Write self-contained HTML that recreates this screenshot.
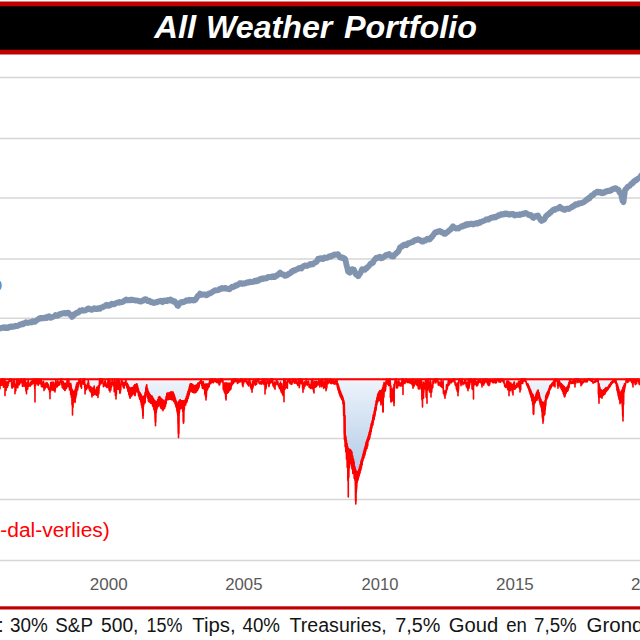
<!DOCTYPE html>
<html><head><meta charset="utf-8"><title>All Weather Portfolio</title>
<style>
html,body{margin:0;padding:0;background:#fff;width:640px;height:640px;overflow:hidden}
svg{display:block}
.t{font-family:"Liberation Sans",Arial,sans-serif}
</style></head>
<body>
<svg width="640" height="640" viewBox="0 0 640 640">
<defs>
<linearGradient id="g" gradientUnits="userSpaceOnUse" x1="0" y1="379" x2="0" y2="505">
<stop offset="0" stop-color="#eef4fb"/>
<stop offset="1" stop-color="#9dbce2"/>
</linearGradient>
</defs>
<rect x="0" y="0" width="640" height="640" fill="#fff"/>
<rect x="0" y="1.5" width="640" height="53" fill="#c00000"/>
<rect x="0" y="6.3" width="640" height="43.5" fill="#000"/>
<text class="t" x="154.18" y="37.7" font-size="30.5" fill="#fff" textLength="42.03" lengthAdjust="spacingAndGlyphs" font-weight="bold" font-style="italic">All</text>
<text class="t" x="205.99" y="37.7" font-size="30.5" fill="#fff" textLength="126.37" lengthAdjust="spacingAndGlyphs" font-weight="bold" font-style="italic">Weather</text>
<text class="t" x="344.00" y="37.7" font-size="30.5" fill="#fff" textLength="133.00" lengthAdjust="spacingAndGlyphs" font-weight="bold" font-style="italic">Portfolio</text>
<g stroke="#d6d6d6" stroke-width="1.5"><line x1="0" x2="640" y1="77.6" y2="77.6"/><line x1="0" x2="640" y1="138.5" y2="138.5"/><line x1="0" x2="640" y1="198.0" y2="198.0"/><line x1="0" x2="640" y1="259.0" y2="259.0"/><line x1="0" x2="640" y1="318.3" y2="318.3"/><line x1="0" x2="640" y1="438.5" y2="438.5"/><line x1="0" x2="640" y1="499.5" y2="499.5"/><line x1="0" x2="640" y1="560.5" y2="560.5"/></g>
<path d="M-2 379 L-2.0 382.30 L-1.9 381.03 L-1.8 379.41 L-1.7 381.04 L-1.6 380.17 L-1.5 379.79 L-1.4 380.04 L-1.3 381.30 L-1.2 381.52 L-1.1 383.06 L-1.0 382.00 L-0.9 385.33 L-0.8 385.95 L-0.7 384.77 L-0.6 385.64 L-0.5 386.92 L-0.4 385.52 L-0.3 387.79 L-0.2 388.62 L-0.1 388.86 L0.0 388.07 L0.1 385.44 L0.2 385.16 L0.3 384.04 L0.4 384.92 L0.5 384.56 L0.6 379.99 L0.7 384.08 L0.8 384.92 L0.9 381.62 L1.0 380.46 L1.1 381.11 L1.2 380.58 L1.3 379.99 L1.4 380.65 L1.5 382.56 L1.6 384.40 L1.7 384.67 L1.8 385.24 L1.9 382.35 L2.0 379.79 L2.1 379.96 L2.2 379.11 L2.3 379.56 L2.4 379.26 L2.5 379.24 L2.6 379.19 L2.7 380.29 L2.8 379.34 L2.9 380.82 L3.0 381.00 L3.1 379.08 L3.2 379.85 L3.3 383.98 L3.4 387.25 L3.5 384.25 L3.6 382.78 L3.7 379.30 L3.8 379.33 L3.9 379.89 L4.0 379.35 L4.1 380.49 L4.2 379.98 L4.3 379.46 L4.4 380.83 L4.5 383.70 L4.6 383.04 L4.7 380.27 L4.8 380.73 L4.9 384.32 L5.0 380.57 L5.0 395.60 L5.1 382.15 L5.2 381.36 L5.3 383.94 L5.4 385.59 L5.5 384.93 L5.6 382.66 L5.7 382.11 L5.8 382.06 L5.9 383.93 L6.0 384.62 L6.1 384.51 L6.2 383.45 L6.3 383.22 L6.4 384.06 L6.5 382.49 L6.6 382.03 L6.7 382.09 L6.8 382.38 L6.9 382.07 L7.0 382.03 L7.1 382.37 L7.2 382.29 L7.3 382.39 L7.4 382.21 L7.5 382.16 L7.6 383.03 L7.7 382.84 L7.8 382.45 L7.9 382.15 L8.0 382.31 L8.1 381.75 L8.2 382.74 L8.3 382.44 L8.4 383.28 L8.5 383.49 L8.6 383.11 L8.7 383.07 L8.8 381.46 L8.9 382.12 L9.0 381.45 L9.1 380.02 L9.2 380.03 L9.3 381.32 L9.4 381.16 L9.5 379.50 L9.6 379.15 L9.7 379.12 L9.8 379.79 L9.9 379.18 L10.0 379.54 L10.1 380.52 L10.2 381.13 L10.3 379.23 L10.4 379.26 L10.5 379.30 L10.6 379.20 L10.7 379.03 L10.8 380.81 L10.9 380.56 L11.0 379.14 L11.1 379.68 L11.2 380.68 L11.3 379.03 L11.4 379.13 L11.5 381.62 L11.6 384.29 L11.7 386.88 L11.8 384.43 L11.9 387.48 L12.0 387.13 L12.1 388.22 L12.2 388.02 L12.3 387.53 L12.4 387.46 L12.5 387.48 L12.6 387.05 L12.7 385.24 L12.8 385.26 L12.9 387.08 L13.0 384.67 L13.1 385.02 L13.2 382.88 L13.3 380.41 L13.4 379.57 L13.5 383.97 L13.6 384.56 L13.7 383.95 L13.8 386.60 L13.9 381.72 L14.0 382.20 L14.1 380.95 L14.2 382.99 L14.3 379.81 L14.4 380.48 L14.5 380.75 L14.6 384.89 L14.7 383.73 L14.8 383.85 L14.9 385.32 L15.0 386.74 L15.0 393.75 L15.1 388.19 L15.2 388.32 L15.3 385.45 L15.4 388.74 L15.5 390.58 L15.6 390.50 L15.7 388.48 L15.8 390.84 L15.9 388.12 L16.0 388.48 L16.1 384.55 L16.2 387.71 L16.3 384.82 L16.4 385.46 L16.5 383.98 L16.6 382.91 L16.7 380.40 L16.8 380.40 L16.9 379.20 L17.0 381.28 L17.1 379.66 L17.2 379.70 L17.3 381.27 L17.4 382.77 L17.5 384.45 L17.6 386.28 L17.7 386.79 L17.8 387.65 L17.9 386.31 L18.0 383.81 L18.1 383.73 L18.2 383.76 L18.3 383.50 L18.4 384.45 L18.5 382.69 L18.6 380.35 L18.7 379.50 L18.8 380.50 L18.9 379.25 L19.0 379.94 L19.1 382.01 L19.2 383.97 L19.3 384.82 L19.4 384.38 L19.5 383.93 L19.6 382.04 L19.7 380.60 L19.8 381.82 L19.9 381.26 L20.0 382.93 L20.1 382.72 L20.2 379.69 L20.3 380.11 L20.4 382.47 L20.5 382.98 L20.6 382.02 L20.7 381.09 L20.8 382.09 L20.9 381.01 L21.0 379.24 L21.1 379.69 L21.2 379.97 L21.3 379.02 L21.4 379.40 L21.5 380.22 L21.6 379.45 L21.7 379.12 L21.8 379.16 L21.9 382.31 L22.0 380.73 L22.1 381.96 L22.2 381.74 L22.3 383.81 L22.4 386.26 L22.5 385.74 L22.6 386.04 L22.7 384.40 L22.8 383.75 L22.9 385.11 L23.0 382.85 L23.1 381.57 L23.2 381.79 L23.3 381.37 L23.4 380.81 L23.5 379.62 L23.6 379.20 L23.7 379.22 L23.8 379.36 L23.9 379.79 L24.0 381.76 L24.1 386.42 L24.2 383.89 L24.3 381.89 L24.4 383.23 L24.5 379.17 L24.6 379.62 L24.7 379.38 L24.8 379.59 L24.9 379.56 L25.0 379.68 L25.1 379.37 L25.2 380.49 L25.3 384.39 L25.4 380.22 L25.5 381.61 L25.6 383.14 L25.7 384.28 L25.8 388.93 L25.9 389.93 L26.0 391.18 L26.1 388.88 L26.2 385.20 L26.3 389.19 L26.4 389.95 L26.5 393.75 L26.5 386.14 L26.6 385.84 L26.7 388.08 L26.8 385.61 L26.9 386.57 L27.0 382.85 L27.1 384.45 L27.2 385.13 L27.3 384.62 L27.4 383.85 L27.5 383.48 L27.6 386.56 L27.7 389.11 L27.8 384.13 L27.9 381.75 L28.0 381.43 L28.1 381.59 L28.2 379.54 L28.3 381.43 L28.4 386.45 L28.5 384.07 L28.6 382.02 L28.7 382.25 L28.8 384.14 L28.9 385.32 L29.0 385.19 L29.1 385.92 L29.2 385.86 L29.3 385.67 L29.4 385.15 L29.5 384.26 L29.6 384.79 L29.7 384.50 L29.8 384.92 L29.9 384.17 L30.0 386.09 L30.1 386.13 L30.2 386.03 L30.3 384.11 L30.4 384.18 L30.5 384.50 L30.6 384.71 L30.7 382.24 L30.8 383.69 L30.9 381.71 L31.0 383.50 L31.1 384.45 L31.2 383.89 L31.3 382.22 L31.4 383.21 L31.5 382.67 L31.6 384.83 L31.7 384.16 L31.8 384.27 L31.9 384.15 L32.0 382.51 L32.1 380.43 L32.2 381.67 L32.3 382.39 L32.4 382.35 L32.5 381.48 L32.6 382.80 L32.7 381.39 L32.8 383.03 L32.9 383.72 L33.0 382.06 L33.1 381.26 L33.2 380.93 L33.3 380.11 L33.4 380.83 L33.5 379.16 L33.6 379.42 L33.7 379.51 L33.8 379.33 L33.9 380.60 L34.0 381.97 L34.1 379.70 L34.2 380.76 L34.3 379.47 L34.4 379.52 L34.5 381.05 L34.6 387.06 L34.7 386.59 L34.8 388.82 L34.9 385.86 L35.0 402.00 L35.0 379.78 L35.1 380.89 L35.2 383.94 L35.3 379.16 L35.4 379.27 L35.5 383.18 L35.6 385.63 L35.7 383.25 L35.8 381.48 L35.9 379.30 L36.0 383.29 L36.1 380.46 L36.2 380.59 L36.3 380.89 L36.4 380.82 L36.5 383.46 L36.6 379.69 L36.7 379.40 L36.8 380.12 L36.9 379.85 L37.0 382.03 L37.1 379.11 L37.2 381.21 L37.3 379.25 L37.4 379.05 L37.5 383.25 L37.6 384.29 L37.7 381.30 L37.8 382.94 L37.9 381.96 L38.0 384.09 L38.1 385.21 L38.2 385.38 L38.3 383.98 L38.4 383.86 L38.5 379.57 L38.6 379.96 L38.7 382.46 L38.8 381.57 L38.9 379.88 L39.0 380.34 L39.1 381.64 L39.2 381.66 L39.3 379.05 L39.4 379.13 L39.5 379.45 L39.6 380.48 L39.7 379.26 L39.8 379.60 L39.9 381.57 L40.0 383.87 L40.1 382.06 L40.2 380.48 L40.3 380.35 L40.4 379.65 L40.5 379.26 L40.6 379.76 L40.7 380.81 L40.8 380.46 L40.9 379.12 L41.0 379.37 L41.1 379.04 L41.2 379.22 L41.3 379.29 L41.4 385.12 L41.5 386.73 L41.6 386.03 L41.7 386.56 L41.8 384.32 L41.9 381.92 L42.0 383.40 L42.1 385.54 L42.2 384.19 L42.3 386.12 L42.4 386.56 L42.5 386.54 L42.6 386.53 L42.7 386.20 L42.8 383.50 L42.9 383.77 L43.0 383.53 L43.1 387.24 L43.2 382.52 L43.3 384.95 L43.4 385.38 L43.5 381.30 L43.6 383.10 L43.7 382.78 L43.8 384.35 L43.9 384.74 L44.0 390.60 L44.0 385.16 L44.1 385.90 L44.2 388.48 L44.3 389.05 L44.4 388.76 L44.5 386.63 L44.6 387.76 L44.7 385.92 L44.8 388.36 L44.9 388.86 L45.0 387.63 L45.1 387.95 L45.2 388.17 L45.3 387.43 L45.4 384.51 L45.5 383.27 L45.6 385.99 L45.7 384.99 L45.8 383.20 L45.9 384.40 L46.0 386.83 L46.1 384.74 L46.2 385.84 L46.3 385.53 L46.4 386.60 L46.5 386.62 L46.6 384.13 L46.7 386.87 L46.8 384.52 L46.9 382.59 L47.0 385.22 L47.1 386.07 L47.2 385.44 L47.3 383.05 L47.4 383.71 L47.5 383.71 L47.6 385.66 L47.7 387.71 L47.8 385.91 L47.9 384.81 L48.0 384.04 L48.1 386.70 L48.2 386.72 L48.3 385.70 L48.4 384.97 L48.5 386.52 L48.6 388.34 L48.7 389.56 L48.8 389.75 L48.9 389.26 L49.0 389.39 L49.1 389.01 L49.2 388.70 L49.3 388.95 L49.4 389.10 L49.5 389.68 L49.6 392.32 L49.7 392.20 L49.8 391.15 L49.9 388.86 L50.0 398.75 L50.0 391.13 L50.1 389.08 L50.2 387.08 L50.3 387.19 L50.4 391.65 L50.5 388.44 L50.6 386.03 L50.7 384.39 L50.8 382.56 L50.9 386.07 L51.0 383.53 L51.1 384.00 L51.2 384.87 L51.3 385.87 L51.4 388.43 L51.5 389.15 L51.6 387.96 L51.7 387.43 L51.8 388.15 L51.9 386.98 L52.0 386.02 L52.1 386.52 L52.2 386.09 L52.3 389.20 L52.4 388.56 L52.5 389.33 L52.6 387.72 L52.7 387.74 L52.8 388.37 L52.9 387.79 L53.0 388.31 L53.1 388.15 L53.2 390.14 L53.3 388.36 L53.4 388.77 L53.5 390.44 L53.6 389.96 L53.7 390.17 L53.8 390.54 L53.9 389.56 L54.0 385.71 L54.1 385.18 L54.2 385.86 L54.3 385.28 L54.4 384.01 L54.5 388.50 L54.6 390.55 L54.7 390.76 L54.8 388.65 L54.9 387.43 L55.0 392.00 L55.0 390.78 L55.1 390.76 L55.2 389.51 L55.3 390.23 L55.4 386.81 L55.5 386.61 L55.6 384.86 L55.7 384.47 L55.8 379.73 L55.9 381.87 L56.0 382.48 L56.1 385.23 L56.2 385.89 L56.3 386.64 L56.4 386.75 L56.5 383.30 L56.6 383.47 L56.7 384.10 L56.8 386.13 L56.9 387.14 L57.0 385.32 L57.1 385.09 L57.2 385.48 L57.3 386.54 L57.4 385.38 L57.5 382.26 L57.6 381.28 L57.7 380.76 L57.8 382.98 L57.9 383.77 L58.0 381.68 L58.1 382.94 L58.2 385.35 L58.3 385.47 L58.4 383.93 L58.5 385.52 L58.6 385.36 L58.7 383.95 L58.8 384.93 L58.9 385.15 L59.0 382.03 L59.1 382.50 L59.2 382.41 L59.3 383.40 L59.4 384.09 L59.5 382.74 L59.6 383.52 L59.7 384.78 L59.8 384.56 L59.9 384.40 L60.0 382.60 L60.1 382.40 L60.2 381.60 L60.3 381.57 L60.4 380.97 L60.5 379.27 L60.6 380.40 L60.7 379.42 L60.8 379.18 L60.9 379.38 L61.0 379.54 L61.1 379.09 L61.2 382.25 L61.3 379.20 L61.4 379.51 L61.5 379.74 L61.6 379.38 L61.7 379.13 L61.8 383.93 L61.9 384.50 L62.0 384.63 L62.1 385.73 L62.2 386.76 L62.3 387.48 L62.4 387.52 L62.5 386.94 L62.6 386.85 L62.7 387.83 L62.8 387.79 L62.9 387.98 L63.0 385.71 L63.1 384.31 L63.2 381.66 L63.3 381.70 L63.4 384.93 L63.5 387.15 L63.6 387.09 L63.7 386.70 L63.8 388.05 L63.9 389.22 L64.0 388.06 L64.1 388.00 L64.2 388.97 L64.3 389.40 L64.4 388.91 L64.5 389.33 L64.6 389.77 L64.7 389.02 L64.8 386.74 L64.9 385.65 L65.0 390.60 L65.0 387.16 L65.1 389.48 L65.2 389.51 L65.3 388.71 L65.4 386.07 L65.5 387.35 L65.6 385.83 L65.7 385.58 L65.8 387.79 L65.9 386.79 L66.0 386.17 L66.1 386.78 L66.2 385.70 L66.3 386.84 L66.4 388.55 L66.5 387.88 L66.6 387.30 L66.7 385.27 L66.8 385.33 L66.9 384.52 L67.0 379.29 L67.1 379.02 L67.2 380.56 L67.3 380.09 L67.4 379.35 L67.5 380.78 L67.6 379.36 L67.7 381.24 L67.8 383.08 L67.9 383.84 L68.0 383.38 L68.1 383.43 L68.2 386.68 L68.3 385.68 L68.4 386.45 L68.5 381.80 L68.6 379.44 L68.7 379.65 L68.8 383.15 L68.9 380.26 L69.0 383.53 L69.1 384.30 L69.2 384.03 L69.3 387.58 L69.4 387.11 L69.5 390.05 L69.6 388.23 L69.7 386.59 L69.8 386.58 L69.9 389.69 L70.0 383.75 L70.1 386.92 L70.2 386.89 L70.3 389.42 L70.4 389.07 L70.5 388.55 L70.6 384.31 L70.7 384.46 L70.8 384.89 L70.9 385.65 L71.0 386.59 L71.1 387.64 L71.2 388.78 L71.3 390.12 L71.4 391.78 L71.5 393.51 L71.6 392.27 L71.7 393.69 L71.8 394.06 L71.9 396.36 L72.0 392.00 L72.1 390.97 L72.2 390.09 L72.3 390.65 L72.4 390.36 L72.5 415.00 L72.5 391.10 L72.6 390.87 L72.7 392.26 L72.8 392.41 L72.9 391.74 L73.0 392.60 L73.1 393.05 L73.2 393.02 L73.3 394.47 L73.4 392.46 L73.5 392.36 L73.6 392.15 L73.7 392.05 L73.8 391.60 L73.9 394.57 L74.0 394.60 L74.1 397.03 L74.2 395.46 L74.3 395.58 L74.4 397.36 L74.5 397.22 L74.6 397.40 L74.7 396.07 L74.8 400.46 L74.9 400.89 L75.0 402.50 L75.0 399.97 L75.1 399.57 L75.2 396.86 L75.3 397.95 L75.4 397.17 L75.5 395.40 L75.6 395.73 L75.7 395.78 L75.8 395.03 L75.9 393.14 L76.0 391.57 L76.1 392.79 L76.2 390.92 L76.3 387.92 L76.4 389.81 L76.5 386.39 L76.6 384.83 L76.7 384.30 L76.8 384.00 L76.9 384.14 L77.0 383.66 L77.1 383.94 L77.2 382.62 L77.3 382.86 L77.4 385.45 L77.5 388.10 L77.6 389.70 L77.7 389.36 L77.8 386.74 L77.9 385.03 L78.0 387.57 L78.1 386.58 L78.2 382.97 L78.3 384.82 L78.4 386.70 L78.5 384.36 L78.6 382.58 L78.7 384.09 L78.8 380.87 L78.9 381.78 L79.0 381.29 L79.1 383.16 L79.2 381.35 L79.3 380.77 L79.4 379.45 L79.5 382.40 L79.6 383.55 L79.7 381.79 L79.8 380.78 L79.9 381.19 L80.0 380.91 L80.1 381.87 L80.2 380.00 L80.3 379.13 L80.4 382.56 L80.5 384.65 L80.6 383.12 L80.7 386.21 L80.8 386.57 L80.9 382.57 L81.0 383.18 L81.1 385.12 L81.2 385.33 L81.3 385.14 L81.4 387.52 L81.5 388.15 L81.6 383.52 L81.7 383.63 L81.8 384.05 L81.9 381.52 L82.0 384.18 L82.1 384.17 L82.2 380.95 L82.3 380.74 L82.4 379.31 L82.5 380.87 L82.6 379.30 L82.7 379.20 L82.8 382.70 L82.9 381.68 L83.0 380.76 L83.1 380.77 L83.2 379.24 L83.3 381.24 L83.4 379.17 L83.5 379.24 L83.6 384.27 L83.7 379.79 L83.8 379.53 L83.9 380.02 L84.0 380.51 L84.1 380.38 L84.2 379.07 L84.3 382.18 L84.4 383.04 L84.5 381.60 L84.6 379.15 L84.7 386.72 L84.8 388.32 L84.9 385.12 L85.0 390.05 L85.0 393.90 L85.1 392.25 L85.2 389.72 L85.3 384.42 L85.4 390.20 L85.5 389.40 L85.6 387.62 L85.7 388.06 L85.8 386.96 L85.9 389.67 L86.0 387.60 L86.1 387.23 L86.2 388.34 L86.3 389.62 L86.4 387.40 L86.5 385.77 L86.6 388.73 L86.7 388.16 L86.8 388.56 L86.9 388.68 L87.0 388.62 L87.1 386.47 L87.2 386.08 L87.3 385.61 L87.4 384.12 L87.5 387.25 L87.6 384.56 L87.7 382.99 L87.8 383.53 L87.9 385.18 L88.0 383.69 L88.1 383.34 L88.2 382.16 L88.3 380.56 L88.4 383.06 L88.5 383.12 L88.6 382.40 L88.7 383.04 L88.8 385.02 L88.9 387.96 L89.0 388.69 L89.1 389.16 L89.2 388.51 L89.3 388.49 L89.4 389.87 L89.5 386.89 L89.6 387.21 L89.7 386.40 L89.8 390.71 L89.9 390.96 L90.0 389.03 L90.1 390.41 L90.2 389.33 L90.3 390.62 L90.4 390.40 L90.5 391.62 L90.6 390.90 L90.7 388.59 L90.8 386.67 L90.9 389.44 L91.0 388.62 L91.1 389.32 L91.2 392.56 L91.3 389.70 L91.4 393.10 L91.5 392.05 L91.6 390.06 L91.7 388.24 L91.8 395.20 L91.9 394.51 L92.0 395.97 L92.0 397.00 L92.1 392.97 L92.2 394.06 L92.3 389.74 L92.4 387.94 L92.5 392.36 L92.6 395.44 L92.7 393.90 L92.8 395.24 L92.9 393.93 L93.0 389.24 L93.1 392.56 L93.2 392.73 L93.3 395.25 L93.4 392.91 L93.5 389.76 L93.6 390.21 L93.7 387.53 L93.8 388.89 L93.9 391.50 L94.0 394.63 L94.1 387.24 L94.2 386.07 L94.3 390.12 L94.4 392.91 L94.5 393.86 L94.6 390.92 L94.7 392.78 L94.8 393.89 L94.9 394.09 L95.0 393.42 L95.1 390.46 L95.2 390.35 L95.3 392.30 L95.4 391.54 L95.5 393.69 L95.6 391.25 L95.7 392.12 L95.8 390.82 L95.9 392.28 L96.0 391.63 L96.1 389.98 L96.2 389.04 L96.3 395.14 L96.4 393.35 L96.5 395.12 L96.6 393.04 L96.7 387.36 L96.8 389.12 L96.9 391.80 L97.0 391.00 L97.1 387.41 L97.2 389.77 L97.3 389.03 L97.4 393.03 L97.5 391.47 L97.6 391.86 L97.7 395.64 L97.8 393.81 L97.9 395.40 L98.0 394.50 L98.0 397.60 L98.1 391.04 L98.2 387.67 L98.3 385.69 L98.4 385.70 L98.5 390.22 L98.6 391.35 L98.7 391.56 L98.8 393.74 L98.9 391.86 L99.0 388.94 L99.1 387.92 L99.2 387.97 L99.3 384.86 L99.4 382.76 L99.5 379.85 L99.6 379.09 L99.7 381.71 L99.8 383.10 L99.9 383.82 L100.0 384.92 L100.1 383.17 L100.2 382.59 L100.3 381.68 L100.4 379.77 L100.5 379.16 L100.6 379.45 L100.7 379.65 L100.8 381.56 L100.9 382.39 L101.0 382.58 L101.1 383.68 L101.2 383.26 L101.3 381.57 L101.4 379.32 L101.5 382.05 L101.6 382.74 L101.7 379.11 L101.8 379.98 L101.9 379.33 L102.0 379.44 L102.1 380.07 L102.2 379.01 L102.3 379.68 L102.4 379.09 L102.5 380.79 L102.6 379.36 L102.7 379.54 L102.8 379.73 L102.9 383.24 L103.0 381.71 L103.1 383.64 L103.2 383.89 L103.3 384.51 L103.4 386.64 L103.5 384.96 L103.6 384.66 L103.7 384.04 L103.8 384.80 L103.9 384.84 L104.0 385.06 L104.1 386.07 L104.2 385.48 L104.3 385.52 L104.4 384.49 L104.5 385.49 L104.6 385.13 L104.7 384.03 L104.8 381.87 L104.9 380.91 L105.0 380.89 L105.1 382.44 L105.2 381.95 L105.3 380.79 L105.4 383.64 L105.5 383.65 L105.6 383.86 L105.7 382.61 L105.8 385.58 L105.9 386.35 L106.0 385.87 L106.1 385.48 L106.2 385.45 L106.3 386.21 L106.4 386.43 L106.5 385.20 L106.6 386.96 L106.7 385.35 L106.8 387.42 L106.9 386.59 L107.0 384.09 L107.1 386.03 L107.2 386.70 L107.3 385.24 L107.4 387.34 L107.5 386.98 L107.6 382.78 L107.7 385.00 L107.8 383.78 L107.9 380.64 L108.0 382.22 L108.1 379.70 L108.2 379.21 L108.3 379.65 L108.4 379.11 L108.5 379.57 L108.6 380.31 L108.7 380.11 L108.8 383.01 L108.9 385.93 L109.0 389.43 L109.1 390.26 L109.2 390.10 L109.3 388.13 L109.4 381.83 L109.5 380.09 L109.6 379.22 L109.7 379.58 L109.8 379.83 L109.9 380.96 L110.0 379.48 L110.0 392.00 L110.1 381.80 L110.2 382.60 L110.3 384.79 L110.4 387.39 L110.5 390.24 L110.6 389.01 L110.7 387.10 L110.8 387.10 L110.9 389.97 L111.0 384.10 L111.1 386.08 L111.2 384.71 L111.3 386.36 L111.4 387.26 L111.5 386.17 L111.6 384.00 L111.7 383.13 L111.8 384.40 L111.9 381.55 L112.0 381.77 L112.1 380.40 L112.2 379.02 L112.3 379.76 L112.4 379.90 L112.5 381.09 L112.6 381.80 L112.7 380.88 L112.8 380.48 L112.9 382.81 L113.0 383.08 L113.1 384.03 L113.2 383.83 L113.3 385.59 L113.4 384.83 L113.5 382.20 L113.6 384.18 L113.7 385.89 L113.8 383.37 L113.9 384.06 L114.0 384.75 L114.1 385.87 L114.2 391.24 L114.3 391.80 L114.4 391.71 L114.5 390.29 L114.6 388.40 L114.7 379.45 L114.8 379.21 L114.9 379.02 L115.0 379.98 L115.1 380.58 L115.2 382.53 L115.3 386.97 L115.4 395.26 L115.5 395.50 L115.6 392.05 L115.7 387.74 L115.8 393.00 L115.9 390.64 L116.0 390.60 L116.0 398.90 L116.1 393.29 L116.2 393.45 L116.3 393.69 L116.4 394.34 L116.5 386.66 L116.6 385.91 L116.7 388.16 L116.8 383.41 L116.9 379.25 L117.0 381.56 L117.1 380.82 L117.2 382.51 L117.3 379.82 L117.4 379.98 L117.5 379.52 L117.6 382.35 L117.7 388.17 L117.8 386.61 L117.9 389.30 L118.0 386.08 L118.1 385.09 L118.2 386.26 L118.3 384.17 L118.4 388.21 L118.5 389.12 L118.6 384.87 L118.7 380.68 L118.8 379.03 L118.9 380.87 L119.0 384.56 L119.1 383.36 L119.2 381.63 L119.3 381.83 L119.4 380.74 L119.5 384.91 L119.6 389.10 L119.7 391.20 L119.8 392.64 L119.9 392.36 L120.0 393.32 L120.1 392.35 L120.2 391.31 L120.3 391.48 L120.4 392.19 L120.5 388.50 L120.6 390.25 L120.7 389.77 L120.8 390.03 L120.9 386.31 L121.0 384.47 L121.1 385.12 L121.2 383.68 L121.3 381.69 L121.4 380.37 L121.5 381.37 L121.6 380.73 L121.7 381.80 L121.8 383.32 L121.9 380.66 L122.0 381.42 L122.1 382.52 L122.2 381.20 L122.3 381.99 L122.4 381.73 L122.5 382.59 L122.6 383.66 L122.7 384.30 L122.8 381.85 L122.9 382.83 L123.0 384.91 L123.1 383.77 L123.2 386.68 L123.3 386.21 L123.4 384.78 L123.5 383.55 L123.6 385.20 L123.7 385.85 L123.8 385.24 L123.9 384.79 L124.0 383.42 L124.0 388.25 L124.1 383.28 L124.2 383.17 L124.3 383.24 L124.4 382.82 L124.5 383.65 L124.6 383.70 L124.7 383.37 L124.8 383.87 L124.9 385.31 L125.0 384.61 L125.1 384.56 L125.2 383.72 L125.3 382.53 L125.4 381.24 L125.5 380.49 L125.6 380.17 L125.7 379.77 L125.8 379.50 L125.9 379.82 L126.0 380.93 L126.1 383.84 L126.2 383.42 L126.3 383.47 L126.4 384.41 L126.5 383.83 L126.6 385.51 L126.7 386.69 L126.8 386.84 L126.9 387.77 L127.0 386.95 L127.1 386.80 L127.2 386.37 L127.3 386.30 L127.4 384.63 L127.5 384.82 L127.6 386.49 L127.7 387.51 L127.8 389.20 L127.9 390.11 L128.0 391.52 L128.1 390.17 L128.2 389.75 L128.3 387.35 L128.4 391.30 L128.5 391.59 L128.6 391.59 L128.7 390.98 L128.8 391.98 L128.9 390.63 L129.0 392.94 L129.1 392.94 L129.2 390.22 L129.3 389.25 L129.4 391.64 L129.5 394.31 L129.6 395.75 L129.7 396.33 L129.8 396.16 L129.9 396.49 L130.0 395.42 L130.0 398.25 L130.1 394.40 L130.2 393.26 L130.3 396.03 L130.4 392.11 L130.5 393.84 L130.6 390.87 L130.7 388.22 L130.8 388.94 L130.9 388.01 L131.0 388.91 L131.1 388.20 L131.2 388.28 L131.3 387.99 L131.4 388.35 L131.5 388.17 L131.6 388.68 L131.7 387.97 L131.8 387.91 L131.9 389.99 L132.0 392.50 L132.1 391.48 L132.2 393.50 L132.3 393.86 L132.4 394.47 L132.5 394.12 L132.6 394.08 L132.7 393.07 L132.8 393.85 L132.9 392.53 L133.0 392.29 L133.1 393.19 L133.2 390.22 L133.3 391.18 L133.4 390.40 L133.5 389.93 L133.6 390.71 L133.7 390.76 L133.8 391.04 L133.9 389.84 L134.0 388.33 L134.1 387.80 L134.2 387.07 L134.3 385.39 L134.4 388.03 L134.5 391.35 L134.6 388.12 L134.7 387.33 L134.8 389.25 L134.9 384.76 L135.0 386.92 L135.0 395.75 L135.1 387.11 L135.2 388.59 L135.3 390.52 L135.4 392.90 L135.5 389.83 L135.6 390.85 L135.7 390.82 L135.8 391.73 L135.9 388.71 L136.0 386.86 L136.1 388.09 L136.2 389.81 L136.3 391.75 L136.4 388.56 L136.5 390.45 L136.6 389.57 L136.7 388.83 L136.8 388.02 L136.9 388.72 L137.0 390.00 L137.1 388.91 L137.2 390.00 L137.3 390.42 L137.4 389.55 L137.5 391.04 L137.6 389.97 L137.7 389.58 L137.8 389.79 L137.9 390.23 L138.0 389.45 L138.1 389.23 L138.2 391.13 L138.3 391.63 L138.4 392.34 L138.5 392.60 L138.6 394.07 L138.7 395.67 L138.8 395.67 L138.9 395.90 L139.0 395.11 L139.1 395.29 L139.2 394.03 L139.3 393.59 L139.4 397.89 L139.5 396.87 L139.6 398.26 L139.7 398.77 L139.8 399.00 L139.9 396.15 L140.0 396.69 L140.1 394.77 L140.2 394.07 L140.3 393.27 L140.4 393.47 L140.5 396.66 L140.6 399.63 L140.7 396.95 L140.8 396.60 L140.9 395.55 L141.0 396.11 L141.1 394.98 L141.2 395.39 L141.3 395.56 L141.4 395.19 L141.5 397.73 L141.6 397.40 L141.7 398.18 L141.8 397.41 L141.9 399.62 L142.0 402.83 L142.1 402.87 L142.2 401.77 L142.3 403.60 L142.4 404.46 L142.5 408.01 L142.6 408.91 L142.7 409.85 L142.8 413.35 L142.9 410.72 L143.0 406.09 L143.0 418.25 L143.1 406.90 L143.2 405.09 L143.3 405.92 L143.4 406.85 L143.5 406.09 L143.6 403.16 L143.7 404.45 L143.8 400.13 L143.9 398.66 L144.0 396.43 L144.1 399.81 L144.2 399.04 L144.3 398.56 L144.4 399.46 L144.5 401.39 L144.6 402.78 L144.7 402.31 L144.8 402.28 L144.9 400.12 L145.0 400.34 L145.1 398.95 L145.2 394.41 L145.3 394.11 L145.4 393.22 L145.5 393.81 L145.6 394.03 L145.7 393.35 L145.8 392.24 L145.9 393.92 L146.0 393.28 L146.1 393.51 L146.2 392.59 L146.3 390.51 L146.4 391.01 L146.5 388.36 L146.6 389.69 L146.7 390.79 L146.8 391.32 L146.9 391.29 L147.0 392.89 L147.1 393.82 L147.2 394.57 L147.3 393.87 L147.4 395.11 L147.5 396.46 L147.6 393.18 L147.7 392.84 L147.8 390.63 L147.9 390.96 L148.0 392.07 L148.1 394.11 L148.2 394.31 L148.3 391.69 L148.4 392.06 L148.5 394.06 L148.6 393.97 L148.7 394.80 L148.8 394.54 L148.9 395.09 L149.0 394.14 L149.1 393.24 L149.2 393.57 L149.3 394.01 L149.4 394.25 L149.5 396.60 L149.6 400.89 L149.7 401.21 L149.8 396.33 L149.9 394.53 L150.0 397.16 L150.1 398.11 L150.2 397.92 L150.3 396.46 L150.4 397.47 L150.5 398.14 L150.6 400.09 L150.7 402.41 L150.8 401.63 L150.9 403.27 L151.0 401.17 L151.1 402.13 L151.2 400.13 L151.3 398.96 L151.4 397.72 L151.5 395.87 L151.6 395.74 L151.7 398.49 L151.8 398.45 L151.9 401.31 L152.0 401.53 L152.1 398.62 L152.2 397.76 L152.3 400.93 L152.4 403.07 L152.5 402.88 L152.6 402.60 L152.7 404.93 L152.8 405.89 L152.9 405.53 L153.0 405.37 L153.1 405.54 L153.2 403.75 L153.3 401.16 L153.4 398.60 L153.5 403.43 L153.6 404.05 L153.7 407.48 L153.8 407.90 L153.9 408.16 L154.0 408.64 L154.1 409.44 L154.2 406.89 L154.3 407.11 L154.4 409.70 L154.5 408.03 L154.6 407.30 L154.7 408.68 L154.8 410.89 L154.9 412.23 L155.0 413.93 L155.1 414.57 L155.2 414.31 L155.3 416.89 L155.4 418.78 L155.5 414.77 L155.5 425.75 L155.6 407.06 L155.7 406.83 L155.8 402.65 L155.9 408.04 L156.0 404.72 L156.1 405.09 L156.2 405.63 L156.3 405.00 L156.4 404.94 L156.5 404.19 L156.6 403.01 L156.7 401.79 L156.8 402.51 L156.9 402.24 L157.0 402.35 L157.1 401.74 L157.2 405.41 L157.3 403.00 L157.4 401.89 L157.5 400.77 L157.6 400.63 L157.7 402.00 L157.8 400.52 L157.9 400.95 L158.0 401.76 L158.1 404.82 L158.2 403.41 L158.3 401.75 L158.4 402.98 L158.5 402.63 L158.6 401.20 L158.7 400.41 L158.8 403.08 L158.9 399.34 L159.0 398.72 L159.1 402.67 L159.2 403.50 L159.3 401.84 L159.4 400.65 L159.5 403.05 L159.6 404.11 L159.7 403.25 L159.8 402.03 L159.9 399.36 L160.0 397.07 L160.1 398.29 L160.2 399.74 L160.3 398.94 L160.4 400.80 L160.5 399.58 L160.6 400.68 L160.7 398.29 L160.8 400.49 L160.9 404.82 L161.0 406.74 L161.1 406.55 L161.2 407.52 L161.3 407.53 L161.4 407.68 L161.5 407.47 L161.6 408.41 L161.7 407.54 L161.8 407.31 L161.9 406.17 L162.0 407.76 L162.1 408.66 L162.2 409.18 L162.3 409.43 L162.4 407.30 L162.5 405.44 L162.6 409.82 L162.7 405.35 L162.8 406.96 L162.9 407.21 L163.0 408.02 L163.0 410.75 L163.1 404.53 L163.2 407.00 L163.3 407.41 L163.4 407.46 L163.5 409.35 L163.6 409.31 L163.7 409.20 L163.8 408.11 L163.9 407.76 L164.0 408.16 L164.1 407.30 L164.2 406.21 L164.3 406.16 L164.4 405.17 L164.5 405.54 L164.6 405.16 L164.7 404.40 L164.8 404.31 L164.9 402.83 L165.0 403.89 L165.1 404.28 L165.2 401.16 L165.3 400.92 L165.4 400.30 L165.5 400.74 L165.6 403.09 L165.7 402.08 L165.8 401.53 L165.9 400.03 L166.0 400.13 L166.1 400.71 L166.2 400.65 L166.3 400.38 L166.4 398.46 L166.5 397.99 L166.6 396.31 L166.7 395.48 L166.8 397.41 L166.9 397.14 L167.0 395.64 L167.1 394.10 L167.2 393.52 L167.3 393.18 L167.4 396.33 L167.5 395.95 L167.6 395.61 L167.7 394.12 L167.8 393.52 L167.9 395.03 L168.0 396.50 L168.1 396.18 L168.2 394.97 L168.3 395.99 L168.4 399.29 L168.5 396.23 L168.6 398.21 L168.7 398.11 L168.8 398.98 L168.9 398.26 L169.0 396.97 L169.1 395.92 L169.2 395.91 L169.3 396.85 L169.4 398.89 L169.5 398.07 L169.6 398.59 L169.7 395.18 L169.8 397.34 L169.9 397.90 L170.0 396.75 L170.1 398.63 L170.2 397.24 L170.3 396.76 L170.4 396.77 L170.5 396.71 L170.6 396.59 L170.7 393.49 L170.8 392.15 L170.9 392.18 L171.0 393.49 L171.1 393.55 L171.2 392.05 L171.3 392.51 L171.4 392.36 L171.5 394.28 L171.6 392.78 L171.7 394.16 L171.8 392.36 L171.9 392.33 L172.0 392.16 L172.1 394.45 L172.2 393.36 L172.3 393.16 L172.4 392.27 L172.5 392.13 L172.6 393.94 L172.7 392.97 L172.8 392.73 L172.9 392.36 L173.0 392.21 L173.1 392.81 L173.2 395.69 L173.3 398.99 L173.4 397.03 L173.5 396.85 L173.6 394.05 L173.7 393.92 L173.8 394.41 L173.9 395.81 L174.0 396.93 L174.1 395.60 L174.2 395.28 L174.3 395.81 L174.4 398.68 L174.5 396.97 L174.6 398.78 L174.7 399.43 L174.8 401.05 L174.9 398.77 L175.0 399.68 L175.1 400.59 L175.2 400.86 L175.3 401.82 L175.4 400.44 L175.5 402.81 L175.6 401.47 L175.7 401.57 L175.8 403.09 L175.9 404.07 L176.0 406.39 L176.1 406.44 L176.2 405.08 L176.3 405.76 L176.4 406.60 L176.5 404.63 L176.6 406.06 L176.7 407.84 L176.8 406.92 L176.9 408.25 L177.0 408.47 L177.1 409.76 L177.2 409.58 L177.3 411.80 L177.4 412.37 L177.5 413.18 L177.6 412.95 L177.7 413.06 L177.8 415.71 L177.9 415.17 L178.0 415.14 L178.1 421.13 L178.2 424.14 L178.3 420.70 L178.4 430.37 L178.5 433.35 L178.5 437.60 L178.6 432.53 L178.7 425.57 L178.8 413.93 L178.9 416.16 L179.0 410.87 L179.1 406.88 L179.2 408.71 L179.3 408.99 L179.4 405.55 L179.5 408.21 L179.6 406.90 L179.7 408.67 L179.8 405.51 L179.9 401.95 L180.0 400.62 L180.1 402.38 L180.2 399.94 L180.3 400.16 L180.4 402.21 L180.5 406.98 L180.6 406.37 L180.7 404.50 L180.8 403.65 L180.9 402.30 L181.0 405.06 L181.1 406.23 L181.2 404.58 L181.3 405.95 L181.4 402.27 L181.5 402.46 L181.6 402.57 L181.7 402.31 L181.8 400.98 L181.9 400.82 L182.0 401.50 L182.1 402.44 L182.2 400.95 L182.3 402.25 L182.4 404.19 L182.5 402.97 L182.6 400.83 L182.7 401.25 L182.8 403.26 L182.9 400.99 L183.0 401.12 L183.1 401.50 L183.2 407.03 L183.3 409.14 L183.4 403.11 L183.5 401.08 L183.5 423.25 L183.6 401.73 L183.7 400.94 L183.8 401.51 L183.9 402.88 L184.0 403.29 L184.1 402.10 L184.2 404.64 L184.3 406.05 L184.4 405.22 L184.5 404.77 L184.6 403.53 L184.7 401.31 L184.8 400.93 L184.9 401.10 L185.0 400.76 L185.1 400.76 L185.2 401.16 L185.3 400.16 L185.4 401.05 L185.5 399.43 L185.6 399.98 L185.7 400.71 L185.8 400.31 L185.9 400.04 L186.0 400.88 L186.1 400.50 L186.2 400.11 L186.3 401.04 L186.4 400.60 L186.5 402.67 L186.6 400.61 L186.7 399.65 L186.8 398.89 L186.9 398.81 L187.0 397.48 L187.1 400.01 L187.2 400.51 L187.3 397.22 L187.4 396.84 L187.5 397.51 L187.6 398.89 L187.7 399.02 L187.8 397.36 L187.9 398.13 L188.0 395.67 L188.1 395.44 L188.2 393.27 L188.3 395.00 L188.4 395.65 L188.5 395.45 L188.6 394.56 L188.7 393.98 L188.8 392.86 L188.9 394.21 L189.0 392.14 L189.1 392.82 L189.2 391.86 L189.3 392.55 L189.4 392.46 L189.5 390.82 L189.6 389.77 L189.7 386.79 L189.8 385.70 L189.9 385.44 L190.0 386.75 L190.1 385.83 L190.2 385.97 L190.3 385.35 L190.4 383.72 L190.5 384.40 L190.6 387.43 L190.7 388.37 L190.8 390.22 L190.9 390.49 L191.0 389.84 L191.1 388.95 L191.2 386.32 L191.3 385.35 L191.4 383.88 L191.5 384.11 L191.6 383.83 L191.7 384.15 L191.8 385.11 L191.9 388.32 L192.0 390.60 L192.1 390.40 L192.2 390.55 L192.3 391.23 L192.4 390.86 L192.5 392.18 L192.6 391.10 L192.7 390.49 L192.8 389.73 L192.9 388.59 L193.0 390.85 L193.1 389.26 L193.2 389.57 L193.3 390.02 L193.4 389.79 L193.5 389.28 L193.6 389.98 L193.7 388.74 L193.8 388.99 L193.9 391.15 L194.0 390.16 L194.1 391.98 L194.2 391.88 L194.3 391.10 L194.4 389.63 L194.5 392.29 L194.6 392.00 L194.7 391.64 L194.8 392.72 L194.9 392.34 L195.0 392.14 L195.1 392.21 L195.2 391.31 L195.3 390.29 L195.4 389.51 L195.5 389.22 L195.6 386.76 L195.7 387.32 L195.8 385.27 L195.9 386.33 L196.0 388.49 L196.1 390.27 L196.2 391.70 L196.3 390.31 L196.4 390.31 L196.5 390.05 L196.6 388.66 L196.7 388.35 L196.8 386.82 L196.9 388.85 L197.0 385.27 L197.1 385.28 L197.2 386.64 L197.3 387.44 L197.4 388.56 L197.5 386.76 L197.6 385.95 L197.7 385.63 L197.8 386.24 L197.9 386.96 L198.0 388.99 L198.1 386.84 L198.2 387.08 L198.3 388.19 L198.4 388.16 L198.5 388.22 L198.6 388.03 L198.7 387.40 L198.8 387.38 L198.9 386.29 L199.0 387.27 L199.1 387.05 L199.2 385.44 L199.3 385.23 L199.4 384.66 L199.5 383.41 L199.6 383.21 L199.7 381.92 L199.8 382.72 L199.9 382.76 L200.0 382.94 L200.1 382.85 L200.2 383.26 L200.3 382.06 L200.4 381.90 L200.5 382.07 L200.6 381.65 L200.7 381.71 L200.8 381.41 L200.9 380.96 L201.0 379.97 L201.1 379.49 L201.2 379.26 L201.3 380.98 L201.4 381.60 L201.5 382.55 L201.6 384.04 L201.7 383.56 L201.8 385.59 L201.9 382.57 L202.0 381.64 L202.1 381.90 L202.2 385.37 L202.3 387.70 L202.4 388.01 L202.5 388.31 L202.6 387.24 L202.7 386.99 L202.8 385.68 L202.9 386.01 L203.0 383.32 L203.1 382.81 L203.2 381.86 L203.3 383.25 L203.4 381.97 L203.5 383.14 L203.6 384.63 L203.7 386.14 L203.8 388.40 L203.9 386.01 L204.0 386.45 L204.1 386.42 L204.2 389.66 L204.3 388.70 L204.4 389.76 L204.5 386.73 L204.6 386.45 L204.7 385.27 L204.8 385.82 L204.9 385.02 L205.0 385.60 L205.1 386.37 L205.2 384.31 L205.3 386.36 L205.4 385.23 L205.5 390.84 L205.6 394.18 L205.7 396.27 L205.8 396.84 L205.9 396.20 L206.0 397.42 L206.0 400.00 L206.1 391.72 L206.2 393.21 L206.3 393.27 L206.4 386.68 L206.5 384.38 L206.6 387.48 L206.7 387.97 L206.8 386.55 L206.9 384.19 L207.0 384.41 L207.1 387.06 L207.2 384.15 L207.3 385.07 L207.4 388.37 L207.5 388.23 L207.6 386.82 L207.7 387.20 L207.8 387.56 L207.9 387.56 L208.0 387.02 L208.1 385.64 L208.2 386.02 L208.3 386.52 L208.4 386.71 L208.5 386.94 L208.6 386.89 L208.7 387.10 L208.8 385.06 L208.9 384.71 L209.0 384.89 L209.1 383.77 L209.2 383.28 L209.3 382.90 L209.4 383.77 L209.5 382.54 L209.6 381.71 L209.7 380.78 L209.8 380.37 L209.9 379.87 L210.0 379.65 L210.1 379.18 L210.2 379.06 L210.3 379.29 L210.4 381.10 L210.5 383.80 L210.6 382.66 L210.7 380.81 L210.8 382.23 L210.9 383.71 L211.0 382.76 L211.1 381.71 L211.2 381.56 L211.3 379.54 L211.4 380.04 L211.5 379.05 L211.6 379.44 L211.7 380.19 L211.8 380.59 L211.9 379.05 L212.0 379.16 L212.1 381.30 L212.2 379.26 L212.3 379.02 L212.4 380.78 L212.5 382.26 L212.6 382.34 L212.7 381.63 L212.8 381.92 L212.9 381.34 L213.0 381.61 L213.1 382.46 L213.2 382.46 L213.3 382.71 L213.4 382.38 L213.5 381.59 L213.6 381.34 L213.7 380.49 L213.8 380.82 L213.9 379.35 L214.0 379.12 L214.1 379.49 L214.2 379.96 L214.3 379.23 L214.4 380.36 L214.5 381.02 L214.6 381.41 L214.7 380.72 L214.8 379.38 L214.9 379.14 L215.0 379.24 L215.1 379.24 L215.2 379.16 L215.3 379.26 L215.4 380.53 L215.5 381.53 L215.6 380.49 L215.7 381.07 L215.8 380.31 L215.9 380.54 L216.0 380.73 L216.1 381.51 L216.2 382.13 L216.3 381.09 L216.4 380.98 L216.5 381.32 L216.6 381.12 L216.7 382.41 L216.8 381.16 L216.9 381.59 L217.0 381.70 L217.1 381.25 L217.2 381.13 L217.3 380.88 L217.4 381.12 L217.5 380.61 L217.6 380.34 L217.7 382.48 L217.8 382.00 L217.9 382.40 L218.0 382.86 L218.1 382.14 L218.2 382.94 L218.3 382.40 L218.4 379.96 L218.5 380.06 L218.6 379.62 L218.7 379.58 L218.8 380.50 L218.9 382.67 L219.0 383.51 L219.1 384.87 L219.2 384.67 L219.3 384.68 L219.4 384.94 L219.5 384.42 L219.6 384.84 L219.7 383.80 L219.8 383.41 L219.9 384.03 L220.0 381.05 L220.1 380.09 L220.2 379.11 L220.3 379.14 L220.4 382.50 L220.5 380.99 L220.6 380.75 L220.7 380.27 L220.8 379.05 L220.9 379.33 L221.0 381.14 L221.1 380.80 L221.2 379.55 L221.3 379.45 L221.4 379.30 L221.5 381.09 L221.6 379.36 L221.7 379.96 L221.8 379.22 L221.9 379.43 L222.0 380.29 L222.1 380.35 L222.2 382.05 L222.3 379.49 L222.4 379.42 L222.5 379.05 L222.6 379.30 L222.7 380.18 L222.8 379.88 L222.9 379.74 L223.0 381.81 L223.1 382.62 L223.2 386.27 L223.3 389.12 L223.4 389.58 L223.5 388.79 L223.6 386.74 L223.7 385.70 L223.8 387.54 L223.9 388.12 L224.0 388.18 L224.1 386.01 L224.2 385.62 L224.3 388.78 L224.4 388.33 L224.5 390.86 L224.6 386.04 L224.7 389.02 L224.8 386.81 L224.9 383.68 L225.0 383.03 L225.1 383.55 L225.2 387.66 L225.3 386.90 L225.4 386.36 L225.5 384.50 L225.6 386.82 L225.7 390.49 L225.8 393.30 L225.9 388.30 L226.0 387.49 L226.0 400.00 L226.1 388.84 L226.2 383.20 L226.3 383.03 L226.4 385.65 L226.5 389.17 L226.6 389.69 L226.7 390.80 L226.8 392.34 L226.9 392.66 L227.0 388.16 L227.1 391.87 L227.2 392.95 L227.3 392.30 L227.4 390.16 L227.5 391.33 L227.6 391.69 L227.7 392.64 L227.8 391.41 L227.9 391.53 L228.0 391.14 L228.1 392.36 L228.2 388.12 L228.3 391.36 L228.4 390.91 L228.5 391.91 L228.6 390.75 L228.7 389.35 L228.8 390.52 L228.9 388.02 L229.0 388.17 L229.1 386.51 L229.2 388.17 L229.3 390.39 L229.4 387.96 L229.5 388.22 L229.6 386.74 L229.7 384.28 L229.8 384.13 L229.9 385.70 L230.0 387.34 L230.1 386.29 L230.2 385.72 L230.3 387.72 L230.4 387.41 L230.5 389.71 L230.6 387.36 L230.7 387.87 L230.8 386.53 L230.9 385.93 L231.0 386.82 L231.1 386.16 L231.2 385.93 L231.3 386.24 L231.4 383.46 L231.5 382.39 L231.6 381.39 L231.7 380.40 L231.8 380.51 L231.9 379.44 L232.0 379.23 L232.1 382.06 L232.2 384.80 L232.3 384.12 L232.4 382.85 L232.5 379.75 L232.6 379.79 L232.7 382.71 L232.8 382.61 L232.9 380.90 L233.0 379.19 L233.1 381.45 L233.2 380.82 L233.3 381.84 L233.4 383.41 L233.5 381.76 L233.6 379.17 L233.7 379.00 L233.8 379.95 L233.9 379.54 L234.0 379.35 L234.1 380.05 L234.2 379.17 L234.3 380.37 L234.4 381.95 L234.5 379.98 L234.6 379.12 L234.7 379.15 L234.8 379.26 L234.9 379.05 L235.0 380.80 L235.1 379.14 L235.2 379.76 L235.3 379.13 L235.4 379.27 L235.5 379.53 L235.6 379.74 L235.7 379.83 L235.8 381.77 L235.9 380.39 L236.0 381.28 L236.1 379.53 L236.2 380.13 L236.3 379.72 L236.4 379.25 L236.5 379.44 L236.6 379.06 L236.7 379.13 L236.8 380.67 L236.9 381.30 L237.0 381.64 L237.1 380.80 L237.2 380.95 L237.3 381.63 L237.4 382.79 L237.5 383.43 L237.6 382.14 L237.7 381.74 L237.8 380.74 L237.9 381.74 L238.0 382.99 L238.1 382.47 L238.2 382.34 L238.3 382.32 L238.4 381.92 L238.5 381.52 L238.6 381.43 L238.7 381.67 L238.8 380.62 L238.9 380.98 L239.0 381.04 L239.1 380.80 L239.2 380.98 L239.3 380.61 L239.4 380.79 L239.5 381.91 L239.6 381.45 L239.7 382.02 L239.8 381.43 L239.9 381.15 L240.0 381.27 L240.1 380.77 L240.2 381.64 L240.3 380.33 L240.4 380.18 L240.5 380.19 L240.6 380.31 L240.7 380.14 L240.8 379.17 L240.9 379.24 L241.0 380.71 L241.1 381.37 L241.2 381.19 L241.3 379.76 L241.4 379.08 L241.5 380.03 L241.6 379.39 L241.7 379.04 L241.8 381.97 L241.9 379.03 L242.0 380.28 L242.1 379.55 L242.2 379.37 L242.3 383.06 L242.4 384.52 L242.5 385.20 L242.6 385.64 L242.7 385.31 L242.8 384.28 L242.9 382.06 L243.0 380.75 L243.0 386.80 L243.1 381.20 L243.2 381.79 L243.3 383.19 L243.4 382.88 L243.5 383.72 L243.6 383.42 L243.7 381.59 L243.8 380.71 L243.9 381.09 L244.0 380.84 L244.1 380.02 L244.2 379.93 L244.3 381.65 L244.4 380.58 L244.5 379.48 L244.6 379.53 L244.7 379.70 L244.8 381.44 L244.9 380.50 L245.0 380.44 L245.1 380.06 L245.2 380.16 L245.3 380.36 L245.4 381.50 L245.5 380.17 L245.6 379.65 L245.7 379.14 L245.8 379.04 L245.9 379.59 L246.0 379.39 L246.1 379.51 L246.2 379.50 L246.3 379.87 L246.4 380.38 L246.5 381.31 L246.6 382.89 L246.7 381.72 L246.8 381.26 L246.9 381.44 L247.0 382.00 L247.1 382.43 L247.2 382.67 L247.3 381.34 L247.4 384.05 L247.5 383.85 L247.6 384.20 L247.7 382.76 L247.8 383.06 L247.9 382.44 L248.0 383.78 L248.1 384.85 L248.2 383.84 L248.3 383.76 L248.4 383.73 L248.5 384.00 L248.6 385.86 L248.7 384.51 L248.8 383.73 L248.9 382.29 L249.0 380.04 L249.1 381.13 L249.2 379.08 L249.3 381.17 L249.4 381.72 L249.5 381.06 L249.6 382.29 L249.7 382.43 L249.8 381.06 L249.9 380.31 L250.0 383.67 L250.1 383.90 L250.2 384.38 L250.3 382.42 L250.4 386.26 L250.5 387.29 L250.6 386.49 L250.7 386.29 L250.8 385.02 L250.9 387.57 L251.0 388.32 L251.1 386.63 L251.2 385.66 L251.3 384.53 L251.4 384.76 L251.5 389.78 L251.6 389.02 L251.7 389.85 L251.8 388.80 L251.9 388.14 L252.0 389.13 L252.0 392.30 L252.1 391.06 L252.2 387.24 L252.3 385.02 L252.4 384.04 L252.5 381.59 L252.6 384.47 L252.7 385.64 L252.8 387.51 L252.9 387.90 L253.0 385.25 L253.1 386.70 L253.2 386.10 L253.3 384.53 L253.4 382.74 L253.5 380.49 L253.6 379.63 L253.7 379.94 L253.8 381.99 L253.9 380.75 L254.0 381.93 L254.1 382.38 L254.2 383.48 L254.3 383.26 L254.4 381.01 L254.5 382.72 L254.6 383.59 L254.7 381.57 L254.8 381.53 L254.9 381.12 L255.0 384.30 L255.1 384.92 L255.2 384.83 L255.3 384.26 L255.4 385.03 L255.5 385.10 L255.6 384.73 L255.7 384.13 L255.8 382.56 L255.9 379.90 L256.0 379.25 L256.1 379.53 L256.2 379.56 L256.3 380.35 L256.4 382.37 L256.5 382.51 L256.6 384.09 L256.7 383.07 L256.8 382.75 L256.9 381.94 L257.0 382.10 L257.1 381.41 L257.2 380.87 L257.3 380.82 L257.4 381.31 L257.5 379.20 L257.6 379.35 L257.7 379.39 L257.8 380.21 L257.9 379.25 L258.0 379.81 L258.1 379.04 L258.2 379.24 L258.3 379.16 L258.4 379.37 L258.5 379.09 L258.6 380.33 L258.7 380.78 L258.8 380.55 L258.9 381.53 L259.0 383.13 L259.1 383.12 L259.2 382.51 L259.3 382.74 L259.4 383.08 L259.5 381.97 L259.6 382.99 L259.7 383.65 L259.8 383.79 L259.9 382.94 L260.0 382.67 L260.1 383.32 L260.2 382.31 L260.3 381.99 L260.4 383.36 L260.5 383.68 L260.6 383.16 L260.7 381.43 L260.8 382.23 L260.9 382.79 L261.0 382.15 L261.1 383.82 L261.2 383.57 L261.3 383.54 L261.4 382.95 L261.5 382.63 L261.6 383.01 L261.7 382.95 L261.8 384.15 L261.9 383.28 L262.0 382.12 L262.1 381.40 L262.2 380.32 L262.3 380.78 L262.4 379.47 L262.5 379.19 L262.6 381.26 L262.7 380.21 L262.8 381.28 L262.9 379.24 L263.0 380.69 L263.1 379.11 L263.2 381.72 L263.3 382.33 L263.4 383.52 L263.5 382.06 L263.6 383.00 L263.7 382.28 L263.8 384.33 L263.9 383.65 L264.0 383.31 L264.1 381.89 L264.2 381.42 L264.3 383.47 L264.4 383.13 L264.5 384.32 L264.6 379.26 L264.7 382.10 L264.8 379.06 L264.9 380.53 L265.0 381.27 L265.0 393.90 L265.1 379.92 L265.2 384.66 L265.3 384.24 L265.4 383.70 L265.5 385.22 L265.6 384.42 L265.7 384.57 L265.8 385.01 L265.9 389.02 L266.0 387.83 L266.1 386.63 L266.2 386.86 L266.3 383.08 L266.4 385.85 L266.5 383.36 L266.6 382.39 L266.7 382.21 L266.8 383.00 L266.9 381.47 L267.0 380.24 L267.1 379.06 L267.2 380.35 L267.3 379.34 L267.4 380.71 L267.5 382.70 L267.6 381.35 L267.7 379.60 L267.8 381.42 L267.9 380.78 L268.0 383.10 L268.1 381.70 L268.2 382.45 L268.3 382.28 L268.4 382.60 L268.5 383.90 L268.6 384.02 L268.7 383.76 L268.8 383.50 L268.9 385.97 L269.0 386.51 L269.1 386.18 L269.2 383.71 L269.3 384.52 L269.4 383.43 L269.5 380.95 L269.6 381.02 L269.7 379.92 L269.8 380.01 L269.9 380.46 L270.0 380.17 L270.1 379.31 L270.2 379.22 L270.3 383.11 L270.4 381.83 L270.5 380.31 L270.6 379.32 L270.7 379.34 L270.8 379.06 L270.9 379.27 L271.0 379.87 L271.1 380.16 L271.2 381.51 L271.3 381.62 L271.4 382.02 L271.5 382.48 L271.6 379.01 L271.7 379.28 L271.8 379.01 L271.9 379.24 L272.0 379.45 L272.1 379.07 L272.2 380.10 L272.3 380.88 L272.4 379.21 L272.5 380.50 L272.6 379.17 L272.7 380.10 L272.8 383.04 L272.9 385.01 L273.0 383.39 L273.1 385.85 L273.2 384.25 L273.3 384.82 L273.4 385.26 L273.5 385.25 L273.6 386.02 L273.7 383.56 L273.8 383.53 L273.9 383.80 L274.0 385.24 L274.1 386.32 L274.2 387.69 L274.3 385.80 L274.4 383.38 L274.5 381.95 L274.6 382.50 L274.7 383.57 L274.8 388.25 L274.9 385.73 L275.0 383.49 L275.0 389.20 L275.1 385.39 L275.2 383.92 L275.3 383.23 L275.4 383.47 L275.5 383.52 L275.6 384.04 L275.7 383.13 L275.8 384.75 L275.9 384.18 L276.0 383.87 L276.1 382.80 L276.2 383.05 L276.3 381.71 L276.4 380.35 L276.5 381.93 L276.6 382.85 L276.7 383.55 L276.8 383.78 L276.9 382.41 L277.0 380.46 L277.1 382.25 L277.2 382.34 L277.3 383.20 L277.4 383.34 L277.5 384.54 L277.6 383.01 L277.7 384.31 L277.8 381.48 L277.9 381.90 L278.0 383.60 L278.1 384.29 L278.2 384.87 L278.3 384.05 L278.4 385.67 L278.5 386.01 L278.6 385.51 L278.7 386.58 L278.8 386.43 L278.9 385.71 L279.0 387.24 L279.1 386.61 L279.2 387.24 L279.3 387.73 L279.4 386.80 L279.5 387.18 L279.6 388.68 L279.7 388.65 L279.8 383.62 L279.9 384.73 L280.0 383.98 L280.1 383.78 L280.2 384.56 L280.3 388.59 L280.4 383.95 L280.5 382.10 L280.6 387.22 L280.7 386.02 L280.8 391.02 L280.9 388.79 L281.0 386.74 L281.1 386.46 L281.2 389.26 L281.3 391.43 L281.4 391.62 L281.5 392.74 L281.6 391.92 L281.7 388.85 L281.8 383.84 L281.9 385.28 L282.0 388.62 L282.1 390.32 L282.2 389.36 L282.3 391.53 L282.4 389.75 L282.5 386.87 L282.6 394.68 L282.7 391.48 L282.8 389.09 L282.9 389.43 L283.0 395.15 L283.1 395.41 L283.2 394.36 L283.3 394.17 L283.4 387.35 L283.5 388.78 L283.6 385.84 L283.7 385.31 L283.8 379.53 L283.9 380.02 L284.0 379.01 L284.0 401.70 L284.1 379.46 L284.2 383.33 L284.3 380.54 L284.4 380.37 L284.5 380.85 L284.6 380.06 L284.7 386.39 L284.8 387.30 L284.9 389.34 L285.0 382.82 L285.1 379.08 L285.2 381.38 L285.3 382.58 L285.4 385.75 L285.5 386.18 L285.6 387.01 L285.7 387.94 L285.8 387.40 L285.9 383.64 L286.0 385.67 L286.1 384.64 L286.2 384.39 L286.3 383.98 L286.4 385.47 L286.5 384.80 L286.6 382.07 L286.7 382.49 L286.8 384.89 L286.9 383.96 L287.0 386.82 L287.1 386.42 L287.2 387.01 L287.3 386.88 L287.4 388.19 L287.5 381.60 L287.6 380.28 L287.7 380.79 L287.8 382.52 L287.9 382.10 L288.0 380.67 L288.1 381.70 L288.2 381.53 L288.3 381.22 L288.4 380.53 L288.5 381.36 L288.6 381.41 L288.7 381.41 L288.8 380.42 L288.9 379.70 L289.0 379.36 L289.1 380.09 L289.2 379.98 L289.3 379.26 L289.4 379.45 L289.5 380.35 L289.6 381.24 L289.7 381.04 L289.8 382.21 L289.9 383.46 L290.0 380.77 L290.1 379.39 L290.2 380.45 L290.3 380.85 L290.4 381.76 L290.5 383.25 L290.6 381.85 L290.7 382.20 L290.8 383.58 L290.9 382.23 L291.0 384.16 L291.1 381.59 L291.2 381.22 L291.3 384.05 L291.4 383.54 L291.5 383.59 L291.6 383.89 L291.7 383.43 L291.8 384.19 L291.9 384.08 L292.0 383.18 L292.1 382.48 L292.2 383.13 L292.3 382.18 L292.4 380.12 L292.5 379.79 L292.6 380.35 L292.7 379.03 L292.8 379.11 L292.9 379.16 L293.0 379.30 L293.1 380.77 L293.2 379.33 L293.3 379.14 L293.4 381.20 L293.5 379.74 L293.6 379.94 L293.7 380.36 L293.8 381.41 L293.9 380.64 L294.0 381.30 L294.1 382.67 L294.2 382.58 L294.3 383.24 L294.4 382.34 L294.5 383.20 L294.6 382.94 L294.7 382.51 L294.8 382.38 L294.9 380.91 L295.0 379.43 L295.1 379.79 L295.2 379.90 L295.3 379.83 L295.4 379.19 L295.5 379.53 L295.6 379.24 L295.7 379.34 L295.8 380.56 L295.9 383.01 L296.0 383.11 L296.1 382.27 L296.2 379.80 L296.3 381.01 L296.4 381.32 L296.5 382.40 L296.6 383.69 L296.7 383.02 L296.8 383.15 L296.9 383.57 L297.0 382.44 L297.1 383.77 L297.2 383.84 L297.3 383.23 L297.4 383.40 L297.5 384.28 L297.6 384.24 L297.7 384.59 L297.8 385.35 L297.9 384.75 L298.0 384.23 L298.1 384.51 L298.2 381.44 L298.3 379.74 L298.4 379.12 L298.5 379.12 L298.6 379.06 L298.7 379.44 L298.8 380.46 L298.9 382.32 L299.0 384.97 L299.1 385.25 L299.2 386.15 L299.3 387.58 L299.4 385.03 L299.5 384.28 L299.6 385.70 L299.7 383.28 L299.8 381.29 L299.9 379.07 L300.0 380.60 L300.1 380.47 L300.2 380.81 L300.3 379.18 L300.4 379.26 L300.5 383.45 L300.6 380.10 L300.7 379.37 L300.8 381.67 L300.9 379.70 L301.0 380.03 L301.1 380.60 L301.2 379.55 L301.3 379.01 L301.4 379.13 L301.5 380.26 L301.6 381.92 L301.7 382.09 L301.8 382.14 L301.9 382.06 L302.0 382.43 L302.1 384.48 L302.2 382.73 L302.3 380.01 L302.4 381.48 L302.5 381.79 L302.6 388.20 L302.7 385.34 L302.8 386.75 L302.9 388.62 L303.0 392.30 L303.0 386.17 L303.1 385.63 L303.2 382.91 L303.3 384.32 L303.4 384.16 L303.5 384.86 L303.6 385.90 L303.7 386.34 L303.8 388.68 L303.9 388.94 L304.0 387.89 L304.1 385.92 L304.2 386.48 L304.3 383.04 L304.4 381.71 L304.5 383.54 L304.6 384.97 L304.7 386.39 L304.8 385.48 L304.9 384.94 L305.0 386.05 L305.1 385.26 L305.2 383.10 L305.3 384.45 L305.4 384.47 L305.5 384.36 L305.6 384.22 L305.7 383.37 L305.8 382.43 L305.9 381.85 L306.0 381.18 L306.1 379.28 L306.2 379.60 L306.3 379.03 L306.4 380.63 L306.5 381.70 L306.6 381.12 L306.7 380.91 L306.8 381.58 L306.9 383.26 L307.0 384.73 L307.1 385.01 L307.2 385.02 L307.3 385.31 L307.4 383.68 L307.5 384.50 L307.6 384.40 L307.7 384.00 L307.8 383.81 L307.9 382.73 L308.0 382.19 L308.1 384.45 L308.2 383.61 L308.3 381.51 L308.4 382.51 L308.5 381.90 L308.6 381.02 L308.7 383.50 L308.8 383.45 L308.9 384.51 L309.0 384.95 L309.1 387.34 L309.2 387.00 L309.3 384.26 L309.4 387.53 L309.5 386.52 L309.6 385.82 L309.7 387.36 L309.8 387.12 L309.9 386.35 L310.0 385.60 L310.1 384.98 L310.2 387.33 L310.3 387.97 L310.4 387.43 L310.5 386.95 L310.6 388.56 L310.7 386.71 L310.8 386.97 L310.9 387.93 L311.0 385.09 L311.1 384.95 L311.2 382.60 L311.3 385.44 L311.4 381.49 L311.5 380.90 L311.6 381.76 L311.7 382.45 L311.8 380.48 L311.9 382.47 L312.0 382.52 L312.1 386.25 L312.2 386.57 L312.3 388.65 L312.4 384.60 L312.5 385.20 L312.6 385.51 L312.7 383.06 L312.8 379.42 L312.9 381.62 L313.0 385.10 L313.1 383.64 L313.2 386.03 L313.3 387.81 L313.4 386.29 L313.5 384.60 L313.6 391.76 L313.7 390.76 L313.8 391.76 L313.9 390.72 L314.0 393.00 L314.0 386.70 L314.1 387.29 L314.2 386.72 L314.3 387.44 L314.4 387.17 L314.5 382.48 L314.6 381.53 L314.7 382.02 L314.8 381.22 L314.9 381.97 L315.0 382.75 L315.1 382.56 L315.2 381.65 L315.3 385.33 L315.4 385.79 L315.5 386.28 L315.6 387.09 L315.7 387.23 L315.8 383.21 L315.9 382.39 L316.0 382.90 L316.1 383.78 L316.2 383.79 L316.3 381.80 L316.4 381.31 L316.5 382.02 L316.6 382.14 L316.7 386.17 L316.8 385.57 L316.9 385.80 L317.0 385.22 L317.1 382.13 L317.2 383.47 L317.3 382.52 L317.4 384.41 L317.5 383.79 L317.6 383.35 L317.7 384.91 L317.8 384.30 L317.9 381.85 L318.0 382.57 L318.1 383.29 L318.2 383.97 L318.3 383.73 L318.4 384.23 L318.5 382.86 L318.6 382.87 L318.7 384.08 L318.8 379.26 L318.9 380.36 L319.0 382.35 L319.1 384.94 L319.2 384.41 L319.3 385.26 L319.4 385.11 L319.5 383.50 L319.6 384.14 L319.7 385.72 L319.8 387.06 L319.9 383.82 L320.0 383.56 L320.1 383.42 L320.2 383.59 L320.3 381.19 L320.4 384.74 L320.5 382.11 L320.6 380.56 L320.7 383.69 L320.8 384.24 L320.9 382.91 L321.0 381.77 L321.1 383.12 L321.2 382.06 L321.3 383.50 L321.4 384.47 L321.5 385.22 L321.6 386.68 L321.7 385.51 L321.8 382.90 L321.9 380.04 L322.0 380.23 L322.1 379.00 L322.2 382.10 L322.3 380.54 L322.4 383.63 L322.5 383.43 L322.6 383.52 L322.7 380.09 L322.8 380.18 L322.9 383.06 L323.0 380.43 L323.1 383.04 L323.2 384.66 L323.3 386.41 L323.4 384.44 L323.5 387.53 L323.6 385.23 L323.7 388.34 L323.8 386.52 L323.9 383.02 L324.0 386.15 L324.1 387.72 L324.2 387.46 L324.3 384.18 L324.4 383.80 L324.5 383.28 L324.6 385.16 L324.7 383.15 L324.8 381.30 L324.9 381.98 L325.0 382.86 L325.1 379.15 L325.2 380.44 L325.3 379.48 L325.4 379.07 L325.5 380.75 L325.6 382.56 L325.7 383.86 L325.8 387.97 L325.9 388.50 L326.0 390.75 L326.0 388.47 L326.1 388.99 L326.2 387.70 L326.3 388.91 L326.4 389.31 L326.5 387.63 L326.6 384.13 L326.7 386.24 L326.8 387.73 L326.9 386.88 L327.0 383.68 L327.1 380.44 L327.2 379.78 L327.3 380.70 L327.4 380.62 L327.5 379.10 L327.6 380.97 L327.7 379.35 L327.8 381.38 L327.9 382.84 L328.0 383.75 L328.1 381.82 L328.2 380.09 L328.3 380.36 L328.4 382.15 L328.5 380.52 L328.6 380.96 L328.7 382.35 L328.8 379.85 L328.9 382.68 L329.0 382.32 L329.1 381.60 L329.2 381.91 L329.3 381.70 L329.4 380.47 L329.5 379.76 L329.6 379.57 L329.7 379.21 L329.8 380.67 L329.9 381.57 L330.0 382.53 L330.1 380.42 L330.2 379.92 L330.3 380.69 L330.4 380.65 L330.5 379.16 L330.6 379.76 L330.7 382.29 L330.8 383.49 L330.9 383.29 L331.0 381.82 L331.1 383.01 L331.2 383.59 L331.3 383.11 L331.4 382.66 L331.5 383.50 L331.6 383.27 L331.7 382.43 L331.8 381.12 L331.9 380.74 L332.0 380.46 L332.1 379.98 L332.2 383.30 L332.3 381.91 L332.4 380.18 L332.5 379.54 L332.6 380.50 L332.7 382.46 L332.8 380.81 L332.9 380.29 L333.0 380.91 L333.1 380.28 L333.2 380.92 L333.3 380.64 L333.4 381.84 L333.5 382.02 L333.6 383.77 L333.7 382.38 L333.8 383.56 L333.9 383.14 L334.0 383.82 L334.1 383.18 L334.2 384.09 L334.3 383.30 L334.4 383.64 L334.5 382.45 L334.6 381.72 L334.7 381.20 L334.8 381.04 L334.9 382.30 L335.0 380.95 L335.1 380.87 L335.2 381.01 L335.3 381.11 L335.4 380.10 L335.5 381.78 L335.6 381.76 L335.7 380.86 L335.8 380.85 L335.9 382.33 L336.0 383.02 L336.1 384.50 L336.2 384.68 L336.3 384.17 L336.4 382.51 L336.5 381.60 L336.6 381.71 L336.7 379.94 L336.8 379.92 L336.9 380.11 L337.0 381.76 L337.1 380.56 L337.2 383.80 L337.3 385.11 L337.4 384.96 L337.5 385.50 L337.6 387.79 L337.7 388.04 L337.8 388.01 L337.9 387.70 L338.0 386.36 L338.1 387.10 L338.2 388.47 L338.3 388.69 L338.4 389.02 L338.5 388.36 L338.6 388.87 L338.7 389.81 L338.8 388.65 L338.9 389.85 L339.0 389.89 L339.1 390.84 L339.2 391.19 L339.3 391.93 L339.4 392.52 L339.5 393.71 L339.6 393.11 L339.7 393.30 L339.8 392.24 L339.9 392.68 L340.0 394.33 L340.1 394.22 L340.2 395.62 L340.3 395.24 L340.4 395.85 L340.5 396.03 L340.6 396.54 L340.7 397.07 L340.8 395.95 L340.9 396.85 L341.0 397.41 L341.1 397.26 L341.2 396.66 L341.3 397.70 L341.4 396.83 L341.5 398.29 L341.6 397.91 L341.7 398.41 L341.8 399.29 L341.9 398.37 L342.0 399.04 L342.1 399.41 L342.2 399.57 L342.3 398.90 L342.4 397.61 L342.5 396.79 L342.6 397.21 L342.7 398.33 L342.8 398.32 L342.9 400.10 L343.0 399.51 L343.1 398.77 L343.2 399.84 L343.3 400.06 L343.4 399.88 L343.5 402.08 L343.6 404.17 L343.7 402.73 L343.8 402.60 L343.9 401.89 L344.0 407.75 L344.1 407.09 L344.2 405.57 L344.3 408.95 L344.4 420.84 L344.5 432.82 L344.6 434.11 L344.7 433.56 L344.8 431.71 L344.9 438.86 L345.0 435.03 L345.1 436.82 L345.2 441.55 L345.3 440.75 L345.4 435.16 L345.5 436.94 L345.6 436.77 L345.7 437.61 L345.8 437.68 L345.9 441.26 L346.0 438.78 L346.1 439.94 L346.2 440.57 L346.3 444.88 L346.4 442.97 L346.5 446.15 L346.6 451.08 L346.7 449.17 L346.8 449.31 L346.9 453.80 L347.0 455.56 L347.1 453.84 L347.2 454.18 L347.3 453.99 L347.4 455.30 L347.5 457.58 L347.6 460.30 L347.7 458.82 L347.8 460.68 L347.9 464.73 L348.0 465.25 L348.1 480.69 L348.2 478.79 L348.3 497.00 L348.3 459.38 L348.4 469.78 L348.5 464.48 L348.6 465.92 L348.7 462.74 L348.8 466.66 L348.9 461.66 L349.0 462.11 L349.1 467.96 L349.2 466.52 L349.3 462.64 L349.4 465.64 L349.5 464.22 L349.6 463.55 L349.7 458.09 L349.8 458.69 L349.9 458.14 L350.0 459.31 L350.1 459.53 L350.2 463.38 L350.3 463.36 L350.4 461.73 L350.5 460.19 L350.6 460.65 L350.7 461.59 L350.8 458.06 L350.9 455.41 L351.0 457.55 L351.1 457.43 L351.2 460.46 L351.3 460.37 L351.4 459.04 L351.5 460.70 L351.6 461.83 L351.7 460.85 L351.8 465.89 L351.9 465.91 L352.0 467.00 L352.1 466.71 L352.2 468.42 L352.3 467.41 L352.4 467.66 L352.5 466.87 L352.6 462.37 L352.7 462.07 L352.8 466.29 L352.9 467.59 L353.0 469.23 L353.1 465.08 L353.2 458.84 L353.3 461.65 L353.4 459.84 L353.5 460.36 L353.6 462.07 L353.7 467.47 L353.8 472.40 L353.9 466.99 L354.0 465.78 L354.1 465.82 L354.2 467.94 L354.3 471.27 L354.4 471.62 L354.5 471.81 L354.6 473.97 L354.7 469.49 L354.8 469.88 L354.9 470.56 L355.0 472.11 L355.1 469.94 L355.2 468.54 L355.3 470.07 L355.4 470.23 L355.5 470.31 L355.6 485.23 L355.7 482.72 L355.8 504.00 L355.8 492.50 L355.9 487.10 L356.0 483.70 L356.1 487.75 L356.2 485.09 L356.3 492.11 L356.4 490.30 L356.5 481.92 L356.6 485.93 L356.7 475.91 L356.8 474.82 L356.9 472.46 L357.0 472.81 L357.1 472.32 L357.2 472.17 L357.3 472.14 L357.4 473.92 L357.5 472.09 L357.6 472.12 L357.7 476.42 L357.8 479.72 L357.9 478.85 L358.0 478.41 L358.1 477.00 L358.2 476.69 L358.3 474.16 L358.4 475.59 L358.5 473.99 L358.6 470.28 L358.7 471.72 L358.8 473.80 L358.9 474.83 L359.0 475.38 L359.1 475.63 L359.2 473.28 L359.3 474.95 L359.4 471.99 L359.5 472.48 L359.6 471.91 L359.7 473.26 L359.8 472.29 L359.9 471.20 L360.0 468.16 L360.1 467.92 L360.2 468.09 L360.3 470.00 L360.4 469.24 L360.5 470.29 L360.6 467.88 L360.7 465.61 L360.8 466.96 L360.9 466.52 L361.0 463.48 L361.1 461.93 L361.2 461.81 L361.3 460.64 L361.4 461.51 L361.5 460.03 L361.6 461.56 L361.7 460.71 L361.8 462.40 L361.9 463.84 L362.0 464.86 L362.1 464.04 L362.2 461.24 L362.3 462.15 L362.4 459.21 L362.5 458.15 L362.6 459.05 L362.7 459.89 L362.8 458.57 L362.9 458.66 L363.0 458.16 L363.1 457.27 L363.2 456.21 L363.3 455.73 L363.4 456.50 L363.5 454.15 L363.6 455.23 L363.7 455.44 L363.8 453.24 L363.9 453.53 L364.0 458.00 L364.0 453.19 L364.1 451.41 L364.2 452.10 L364.3 451.37 L364.4 453.05 L364.5 454.97 L364.6 455.27 L364.7 455.46 L364.8 453.41 L364.9 452.96 L365.0 454.54 L365.1 451.15 L365.2 447.78 L365.3 448.02 L365.4 447.73 L365.5 451.31 L365.6 451.55 L365.7 450.06 L365.8 446.03 L365.9 443.56 L366.0 443.72 L366.1 443.19 L366.2 443.23 L366.3 442.36 L366.4 441.90 L366.5 442.05 L366.6 444.60 L366.7 442.68 L366.8 441.28 L366.9 440.82 L367.0 440.89 L367.1 442.59 L367.2 444.20 L367.3 439.98 L367.4 440.68 L367.5 439.99 L367.6 438.94 L367.7 438.21 L367.8 437.71 L367.9 438.12 L368.0 439.11 L368.1 440.19 L368.2 438.57 L368.3 438.33 L368.4 436.66 L368.5 437.93 L368.6 437.77 L368.7 435.32 L368.8 436.85 L368.9 439.37 L369.0 436.18 L369.1 438.86 L369.2 439.27 L369.3 438.66 L369.4 434.54 L369.5 432.17 L369.6 431.68 L369.7 432.82 L369.8 432.40 L369.9 432.49 L370.0 432.43 L370.1 432.80 L370.2 431.85 L370.3 433.58 L370.4 429.51 L370.5 427.77 L370.6 427.42 L370.7 427.17 L370.8 428.91 L370.9 427.81 L371.0 425.79 L371.1 425.16 L371.2 424.72 L371.3 424.43 L371.4 423.87 L371.5 423.38 L371.6 424.13 L371.7 423.55 L371.8 423.69 L371.9 423.20 L372.0 424.57 L372.1 424.23 L372.2 424.23 L372.3 425.39 L372.4 425.22 L372.5 424.75 L372.6 423.11 L372.7 420.66 L372.8 424.37 L372.9 421.71 L373.0 420.17 L373.1 417.58 L373.2 417.70 L373.3 417.33 L373.4 415.12 L373.5 416.63 L373.6 415.46 L373.7 416.98 L373.8 418.17 L373.9 417.75 L374.0 418.98 L374.1 417.07 L374.2 416.58 L374.3 415.74 L374.4 415.44 L374.5 415.80 L374.6 415.51 L374.7 414.21 L374.8 414.74 L374.9 413.55 L375.0 414.33 L375.1 412.31 L375.2 409.83 L375.3 413.04 L375.4 410.29 L375.5 411.08 L375.6 410.03 L375.7 410.64 L375.8 410.48 L375.9 409.69 L376.0 408.97 L376.1 406.95 L376.2 407.16 L376.3 407.61 L376.4 404.85 L376.5 401.04 L376.6 405.30 L376.7 404.38 L376.8 402.16 L376.9 400.10 L377.0 400.78 L377.1 402.41 L377.2 400.70 L377.3 399.90 L377.4 400.53 L377.5 399.45 L377.6 399.71 L377.7 400.11 L377.8 401.09 L377.9 400.96 L378.0 400.87 L378.1 399.54 L378.2 396.91 L378.3 396.72 L378.4 394.81 L378.5 394.04 L378.6 393.69 L378.7 393.58 L378.8 395.39 L378.9 395.99 L379.0 396.11 L379.1 399.15 L379.2 399.03 L379.3 398.11 L379.4 397.89 L379.5 398.49 L379.6 396.27 L379.7 396.35 L379.8 394.42 L379.9 397.20 L380.0 397.46 L380.1 399.23 L380.2 400.29 L380.3 398.35 L380.4 393.31 L380.5 393.50 L380.6 392.56 L380.7 391.91 L380.8 393.26 L380.9 394.07 L381.0 405.00 L381.0 393.80 L381.1 394.66 L381.2 392.78 L381.3 390.55 L381.4 390.39 L381.5 392.99 L381.6 394.27 L381.7 393.26 L381.8 393.88 L381.9 394.79 L382.0 392.44 L382.1 397.00 L382.2 397.09 L382.3 394.91 L382.4 395.87 L382.5 397.28 L382.6 403.14 L382.7 404.05 L382.8 403.11 L382.9 401.40 L383.0 412.00 L383.0 400.62 L383.1 397.95 L383.2 392.52 L383.3 391.55 L383.4 395.90 L383.5 397.97 L383.6 395.23 L383.7 390.02 L383.8 390.79 L383.9 392.32 L384.0 387.64 L384.1 388.80 L384.2 390.76 L384.3 390.20 L384.4 391.39 L384.5 391.18 L384.6 389.96 L384.7 390.55 L384.8 390.32 L384.9 391.47 L385.0 390.23 L385.1 389.79 L385.2 389.16 L385.3 390.41 L385.4 390.31 L385.5 389.41 L385.6 388.31 L385.7 386.20 L385.8 386.35 L385.9 386.66 L386.0 381.08 L386.1 381.15 L386.2 381.80 L386.3 381.32 L386.4 380.46 L386.5 380.38 L386.6 381.12 L386.7 383.11 L386.8 380.11 L386.9 380.08 L387.0 379.11 L387.1 382.30 L387.2 382.77 L387.3 381.28 L387.4 382.13 L387.5 383.07 L387.6 384.09 L387.7 383.63 L387.8 382.90 L387.9 381.38 L388.0 381.58 L388.1 381.85 L388.2 381.67 L388.3 379.49 L388.4 380.70 L388.5 381.90 L388.6 384.42 L388.7 385.59 L388.8 385.59 L388.9 383.88 L389.0 383.41 L389.1 381.43 L389.2 381.20 L389.3 379.36 L389.4 382.63 L389.5 382.46 L389.6 384.06 L389.7 384.34 L389.8 383.63 L389.9 379.52 L390.0 379.13 L390.1 380.21 L390.2 385.12 L390.3 382.32 L390.4 385.86 L390.5 388.90 L390.6 389.62 L390.7 390.24 L390.8 393.74 L390.9 395.10 L391.0 402.00 L391.0 400.26 L391.1 393.34 L391.2 390.91 L391.3 396.51 L391.4 397.58 L391.5 392.25 L391.6 389.22 L391.7 389.52 L391.8 389.63 L391.9 390.02 L392.0 389.06 L392.1 389.20 L392.2 389.92 L392.3 389.90 L392.4 389.51 L392.5 391.76 L392.6 389.80 L392.7 389.93 L392.8 390.55 L392.9 392.57 L393.0 390.18 L393.1 389.83 L393.2 389.69 L393.3 391.46 L393.4 392.75 L393.5 396.24 L393.6 395.22 L393.7 401.24 L393.8 399.26 L393.9 392.42 L394.0 405.75 L394.0 389.11 L394.1 388.38 L394.2 392.44 L394.3 389.56 L394.4 386.65 L394.5 388.61 L394.6 382.96 L394.7 386.28 L394.8 387.66 L394.9 383.05 L395.0 382.37 L395.1 379.95 L395.2 379.58 L395.3 380.82 L395.4 379.94 L395.5 382.89 L395.6 382.97 L395.7 379.19 L395.8 379.96 L395.9 381.88 L396.0 382.56 L396.1 379.28 L396.2 379.29 L396.3 379.71 L396.4 379.28 L396.5 379.34 L396.6 381.43 L396.7 382.25 L396.8 387.47 L396.9 388.19 L397.0 384.84 L397.1 384.20 L397.2 387.51 L397.3 386.42 L397.4 386.35 L397.5 387.71 L397.6 385.42 L397.7 387.18 L397.8 386.65 L397.9 384.33 L398.0 383.23 L398.1 384.07 L398.2 381.35 L398.3 381.55 L398.4 383.92 L398.5 381.93 L398.6 382.95 L398.7 381.67 L398.8 380.55 L398.9 381.15 L399.0 381.98 L399.1 381.87 L399.2 382.52 L399.3 383.48 L399.4 385.55 L399.5 384.13 L399.6 382.69 L399.7 385.20 L399.8 385.77 L399.9 384.66 L400.0 385.52 L400.1 384.68 L400.2 384.06 L400.3 384.59 L400.4 385.93 L400.5 384.83 L400.6 383.03 L400.7 384.36 L400.8 384.30 L400.9 384.60 L401.0 383.28 L401.1 384.35 L401.2 385.96 L401.3 385.97 L401.4 385.98 L401.5 384.30 L401.6 383.20 L401.7 380.94 L401.8 381.19 L401.9 381.63 L402.0 380.56 L402.1 379.19 L402.2 379.03 L402.3 380.69 L402.4 384.11 L402.5 380.10 L402.6 380.73 L402.7 384.61 L402.8 382.63 L402.9 381.72 L403.0 394.50 L403.0 384.70 L403.1 385.10 L403.2 382.46 L403.3 379.53 L403.4 379.17 L403.5 379.33 L403.6 380.01 L403.7 381.97 L403.8 380.18 L403.9 381.17 L404.0 381.84 L404.1 381.33 L404.2 382.63 L404.3 382.45 L404.4 383.15 L404.5 382.08 L404.6 380.71 L404.7 379.96 L404.8 382.69 L404.9 383.21 L405.0 383.48 L405.1 382.26 L405.2 382.42 L405.3 380.80 L405.4 381.24 L405.5 381.17 L405.6 380.48 L405.7 381.09 L405.8 379.61 L405.9 379.21 L406.0 380.07 L406.1 379.01 L406.2 379.41 L406.3 380.76 L406.4 381.44 L406.5 381.92 L406.6 381.89 L406.7 380.70 L406.8 381.17 L406.9 381.14 L407.0 380.44 L407.1 380.63 L407.2 381.10 L407.3 381.10 L407.4 381.91 L407.5 382.37 L407.6 381.20 L407.7 381.67 L407.8 381.25 L407.9 382.71 L408.0 379.85 L408.1 379.63 L408.2 380.26 L408.3 381.29 L408.4 380.34 L408.5 380.40 L408.6 380.83 L408.7 380.34 L408.8 380.99 L408.9 380.37 L409.0 379.74 L409.1 380.87 L409.2 380.18 L409.3 379.93 L409.4 381.87 L409.5 382.92 L409.6 382.49 L409.7 382.70 L409.8 381.99 L409.9 381.03 L410.0 380.65 L410.1 381.42 L410.2 381.95 L410.3 381.29 L410.4 379.21 L410.5 380.58 L410.6 379.98 L410.7 380.91 L410.8 381.86 L410.9 383.36 L411.0 382.73 L411.1 381.63 L411.2 380.94 L411.3 381.55 L411.4 381.99 L411.5 380.60 L411.6 381.37 L411.7 380.26 L411.8 380.34 L411.9 380.10 L412.0 380.96 L412.1 384.93 L412.2 383.94 L412.3 381.75 L412.4 379.98 L412.5 380.16 L412.6 380.65 L412.7 381.80 L412.8 380.22 L412.9 379.25 L413.0 388.25 L413.0 379.29 L413.1 382.09 L413.2 383.71 L413.3 385.44 L413.4 386.21 L413.5 386.64 L413.6 385.49 L413.7 386.71 L413.8 386.02 L413.9 386.30 L414.0 385.36 L414.1 384.54 L414.2 383.50 L414.3 385.51 L414.4 383.25 L414.5 382.54 L414.6 382.81 L414.7 380.89 L414.8 381.17 L414.9 382.64 L415.0 383.38 L415.1 381.72 L415.2 381.69 L415.3 380.43 L415.4 379.50 L415.5 380.63 L415.6 381.40 L415.7 379.82 L415.8 381.13 L415.9 382.06 L416.0 383.99 L416.1 384.24 L416.2 383.03 L416.3 382.74 L416.4 382.53 L416.5 385.06 L416.6 384.43 L416.7 384.21 L416.8 383.98 L416.9 383.98 L417.0 385.23 L417.1 384.19 L417.2 385.36 L417.3 383.23 L417.4 380.12 L417.5 379.59 L417.6 380.81 L417.7 384.49 L417.8 384.30 L417.9 384.69 L418.0 384.35 L418.1 385.02 L418.2 387.53 L418.3 388.25 L418.4 388.37 L418.5 388.76 L418.6 388.26 L418.7 388.96 L418.8 386.18 L418.9 383.81 L419.0 388.79 L419.1 383.46 L419.2 379.52 L419.3 381.40 L419.4 380.47 L419.5 386.52 L419.6 388.16 L419.7 384.08 L419.8 384.38 L419.9 385.71 L420.0 389.01 L420.1 387.38 L420.2 382.94 L420.3 379.19 L420.4 382.54 L420.5 386.71 L420.6 381.19 L420.7 382.81 L420.8 380.87 L420.9 381.82 L421.0 384.93 L421.1 384.33 L421.2 384.33 L421.3 379.49 L421.4 379.97 L421.5 386.48 L421.6 384.38 L421.7 386.42 L421.8 388.75 L421.9 399.26 L422.0 395.53 L422.1 400.14 L422.2 399.55 L422.3 400.06 L422.4 400.75 L422.5 407.00 L422.5 391.95 L422.6 395.24 L422.7 391.09 L422.8 391.95 L422.9 396.05 L423.0 394.48 L423.1 386.83 L423.2 381.99 L423.3 385.31 L423.4 390.87 L423.5 398.25 L423.6 392.31 L423.7 392.50 L423.8 392.39 L423.9 389.26 L424.0 388.20 L424.1 384.85 L424.2 385.60 L424.3 384.19 L424.4 383.50 L424.5 388.91 L424.6 385.25 L424.7 385.78 L424.8 383.54 L424.9 382.47 L425.0 382.50 L425.1 382.85 L425.2 383.99 L425.3 381.31 L425.4 384.06 L425.5 379.85 L425.6 379.98 L425.7 379.60 L425.8 384.95 L425.9 390.12 L426.0 387.93 L426.1 396.10 L426.2 397.44 L426.3 390.94 L426.4 392.87 L426.5 388.48 L426.6 383.42 L426.7 380.61 L426.8 381.86 L426.9 384.30 L427.0 403.25 L427.0 379.70 L427.1 383.12 L427.2 385.24 L427.3 387.83 L427.4 390.56 L427.5 386.99 L427.6 388.40 L427.7 390.20 L427.8 387.49 L427.9 386.08 L428.0 381.34 L428.1 382.24 L428.2 379.15 L428.3 380.98 L428.4 381.47 L428.5 381.10 L428.6 383.09 L428.7 382.21 L428.8 386.92 L428.9 387.61 L429.0 384.19 L429.1 382.90 L429.2 384.01 L429.3 388.83 L429.4 387.24 L429.5 391.57 L429.6 391.97 L429.7 390.36 L429.8 388.57 L429.9 386.20 L430.0 385.15 L430.1 385.41 L430.2 382.48 L430.3 379.06 L430.4 381.79 L430.5 385.52 L430.6 385.48 L430.7 384.02 L430.8 387.96 L430.9 381.92 L431.0 397.00 L431.0 384.78 L431.1 385.53 L431.2 387.62 L431.3 388.57 L431.4 391.33 L431.5 392.52 L431.6 391.74 L431.7 392.09 L431.8 388.68 L431.9 388.78 L432.0 389.22 L432.1 384.71 L432.2 385.74 L432.3 386.46 L432.4 387.97 L432.5 387.45 L432.6 387.74 L432.7 387.12 L432.8 387.48 L432.9 381.26 L433.0 381.30 L433.1 381.75 L433.2 381.82 L433.3 380.22 L433.4 381.69 L433.5 381.06 L433.6 380.87 L433.7 381.44 L433.8 383.11 L433.9 382.45 L434.0 380.96 L434.1 381.54 L434.2 381.84 L434.3 379.22 L434.4 379.15 L434.5 379.41 L434.6 379.54 L434.7 381.19 L434.8 379.59 L434.9 380.72 L435.0 379.44 L435.1 379.03 L435.2 379.20 L435.3 379.03 L435.4 379.63 L435.5 379.04 L435.6 380.14 L435.7 380.72 L435.8 383.02 L435.9 380.78 L436.0 382.32 L436.1 382.43 L436.2 380.95 L436.3 379.38 L436.4 379.03 L436.5 379.27 L436.6 379.06 L436.7 380.96 L436.8 380.90 L436.9 380.14 L437.0 379.10 L437.1 379.36 L437.2 379.33 L437.3 379.23 L437.4 379.21 L437.5 379.75 L437.6 379.03 L437.7 379.15 L437.8 380.65 L437.9 382.16 L438.0 381.63 L438.1 384.01 L438.2 383.35 L438.3 384.95 L438.4 385.10 L438.5 384.34 L438.6 384.21 L438.7 383.61 L438.8 383.87 L438.9 383.69 L439.0 383.42 L439.1 381.98 L439.2 382.66 L439.3 384.03 L439.4 382.40 L439.5 382.40 L439.6 383.78 L439.7 385.06 L439.8 383.69 L439.9 385.47 L440.0 384.10 L440.1 385.32 L440.2 385.94 L440.3 383.95 L440.4 382.89 L440.5 385.32 L440.6 386.26 L440.7 384.61 L440.8 384.70 L440.9 383.14 L441.0 383.69 L441.1 384.14 L441.2 380.15 L441.3 381.71 L441.4 382.54 L441.5 384.96 L441.6 385.15 L441.7 383.34 L441.8 385.08 L441.9 387.50 L442.0 382.34 L442.1 385.13 L442.2 386.67 L442.3 385.54 L442.4 383.09 L442.5 382.20 L442.6 385.21 L442.7 385.90 L442.8 387.98 L442.9 386.74 L443.0 382.92 L443.1 380.74 L443.2 387.17 L443.3 389.84 L443.4 391.79 L443.5 393.34 L443.6 393.04 L443.7 392.27 L443.8 390.94 L443.9 392.08 L444.0 391.37 L444.1 391.39 L444.2 392.73 L444.3 394.62 L444.4 395.77 L444.5 395.90 L444.6 395.51 L444.7 393.66 L444.8 395.58 L444.9 393.40 L445.0 398.25 L445.0 390.72 L445.1 391.75 L445.2 391.66 L445.3 394.35 L445.4 392.48 L445.5 393.56 L445.6 390.72 L445.7 394.75 L445.8 390.29 L445.9 392.15 L446.0 392.45 L446.1 390.73 L446.2 391.67 L446.3 392.55 L446.4 388.02 L446.5 385.34 L446.6 384.60 L446.7 387.41 L446.8 388.06 L446.9 390.00 L447.0 388.76 L447.1 388.58 L447.2 387.62 L447.3 388.97 L447.4 387.95 L447.5 386.86 L447.6 387.32 L447.7 384.67 L447.8 384.63 L447.9 385.41 L448.0 382.88 L448.1 382.68 L448.2 382.27 L448.3 380.51 L448.4 379.48 L448.5 381.53 L448.6 380.82 L448.7 385.43 L448.8 384.28 L448.9 381.09 L449.0 382.18 L449.1 381.70 L449.2 382.42 L449.3 380.54 L449.4 381.89 L449.5 384.29 L449.6 382.61 L449.7 380.66 L449.8 380.20 L449.9 380.05 L450.0 380.52 L450.1 380.03 L450.2 379.99 L450.3 381.49 L450.4 381.83 L450.5 382.82 L450.6 382.57 L450.7 382.01 L450.8 381.67 L450.9 381.21 L451.0 379.83 L451.1 380.07 L451.2 379.99 L451.3 379.78 L451.4 380.61 L451.5 382.60 L451.6 381.76 L451.7 382.20 L451.8 381.19 L451.9 381.98 L452.0 381.78 L452.1 380.58 L452.2 379.77 L452.3 380.32 L452.4 379.85 L452.5 379.82 L452.6 381.47 L452.7 380.83 L452.8 381.10 L452.9 379.10 L453.0 379.29 L453.1 379.62 L453.2 379.77 L453.3 381.04 L453.4 380.74 L453.5 379.01 L453.6 379.97 L453.7 379.16 L453.8 379.07 L453.9 380.88 L454.0 380.10 L454.1 380.34 L454.2 379.10 L454.3 380.73 L454.4 382.08 L454.5 380.18 L454.6 379.92 L454.7 379.34 L454.8 380.45 L454.9 382.07 L455.0 382.46 L455.1 383.83 L455.2 384.58 L455.3 385.16 L455.4 384.94 L455.5 383.82 L455.6 384.74 L455.7 383.51 L455.8 384.44 L455.9 383.24 L456.0 383.11 L456.1 385.18 L456.2 387.44 L456.3 387.71 L456.4 387.55 L456.5 387.88 L456.6 389.40 L456.7 387.69 L456.8 387.28 L456.9 387.39 L457.0 387.74 L457.1 389.85 L457.2 391.13 L457.3 391.33 L457.4 390.37 L457.5 386.59 L457.6 384.42 L457.7 384.55 L457.8 382.79 L457.9 391.48 L458.0 395.75 L458.0 384.45 L458.1 391.52 L458.2 392.20 L458.3 390.53 L458.4 390.37 L458.5 389.35 L458.6 387.61 L458.7 382.27 L458.8 381.15 L458.9 379.28 L459.0 380.11 L459.1 379.02 L459.2 379.48 L459.3 379.23 L459.4 379.23 L459.5 380.30 L459.6 379.69 L459.7 379.53 L459.8 380.21 L459.9 379.41 L460.0 379.85 L460.1 379.43 L460.2 380.48 L460.3 379.17 L460.4 379.45 L460.5 383.12 L460.6 382.49 L460.7 383.00 L460.8 381.63 L460.9 383.83 L461.0 385.78 L461.1 384.56 L461.2 382.45 L461.3 379.33 L461.4 379.75 L461.5 379.22 L461.6 379.61 L461.7 380.29 L461.8 380.07 L461.9 380.75 L462.0 379.01 L462.1 379.46 L462.2 379.59 L462.3 381.71 L462.4 382.23 L462.5 381.76 L462.6 382.74 L462.7 383.80 L462.8 382.08 L462.9 384.73 L463.0 384.12 L463.1 383.93 L463.2 384.26 L463.3 382.40 L463.4 383.87 L463.5 383.02 L463.6 383.14 L463.7 383.46 L463.8 383.12 L463.9 383.07 L464.0 381.76 L464.1 381.87 L464.2 382.99 L464.3 382.54 L464.4 383.64 L464.5 381.88 L464.6 381.12 L464.7 380.69 L464.8 380.27 L464.9 381.53 L465.0 380.25 L465.1 381.36 L465.2 380.40 L465.3 380.47 L465.4 379.53 L465.5 379.62 L465.6 380.11 L465.7 381.44 L465.8 382.17 L465.9 382.30 L466.0 383.88 L466.1 384.49 L466.2 385.80 L466.3 383.63 L466.4 386.82 L466.5 386.10 L466.6 384.09 L466.7 382.92 L466.8 384.82 L466.9 385.00 L467.0 384.83 L467.1 387.60 L467.2 387.29 L467.3 388.28 L467.4 386.48 L467.5 388.23 L467.6 387.33 L467.7 387.88 L467.8 387.36 L467.9 383.22 L468.0 390.75 L468.0 382.38 L468.1 381.74 L468.2 379.28 L468.3 379.64 L468.4 383.53 L468.5 383.15 L468.6 387.28 L468.7 388.16 L468.8 386.92 L468.9 385.21 L469.0 388.23 L469.1 386.06 L469.2 386.91 L469.3 385.70 L469.4 383.85 L469.5 382.89 L469.6 381.96 L469.7 384.71 L469.8 383.36 L469.9 382.24 L470.0 379.11 L470.1 379.22 L470.2 379.90 L470.3 379.15 L470.4 380.39 L470.5 379.21 L470.6 381.37 L470.7 381.87 L470.8 379.10 L470.9 379.21 L471.0 382.09 L471.1 381.66 L471.2 379.02 L471.3 379.64 L471.4 379.71 L471.5 379.22 L471.6 379.78 L471.7 379.86 L471.8 379.27 L471.9 383.71 L472.0 387.59 L472.1 389.06 L472.2 388.33 L472.3 388.93 L472.4 389.39 L472.5 387.53 L472.6 386.15 L472.7 387.41 L472.8 386.48 L472.9 383.64 L473.0 381.94 L473.1 380.57 L473.2 380.58 L473.3 379.80 L473.4 381.89 L473.5 398.90 L473.5 380.90 L473.6 381.19 L473.7 385.67 L473.8 382.99 L473.9 384.84 L474.0 385.13 L474.1 383.10 L474.2 379.09 L474.3 379.37 L474.4 380.05 L474.5 380.04 L474.6 379.86 L474.7 382.72 L474.8 383.94 L474.9 383.29 L475.0 384.37 L475.1 382.42 L475.2 379.33 L475.3 379.25 L475.4 381.02 L475.5 381.72 L475.6 382.25 L475.7 382.96 L475.8 381.95 L475.9 384.31 L476.0 383.33 L476.1 382.87 L476.2 383.42 L476.3 381.56 L476.4 383.39 L476.5 385.58 L476.6 385.84 L476.7 384.66 L476.8 385.47 L476.9 384.24 L477.0 384.12 L477.1 384.06 L477.2 385.82 L477.3 383.54 L477.4 385.51 L477.5 385.26 L477.6 385.37 L477.7 383.12 L477.8 385.13 L477.9 381.31 L478.0 380.06 L478.1 382.54 L478.2 383.57 L478.3 382.88 L478.4 381.95 L478.5 380.00 L478.6 381.13 L478.7 379.71 L478.8 379.65 L478.9 380.77 L479.0 380.11 L479.1 380.01 L479.2 381.93 L479.3 379.72 L479.4 379.94 L479.5 382.19 L479.6 381.86 L479.7 381.25 L479.8 381.73 L479.9 379.36 L480.0 379.27 L480.1 380.03 L480.2 379.64 L480.3 382.22 L480.4 379.59 L480.5 380.28 L480.6 380.76 L480.7 381.44 L480.8 379.69 L480.9 382.34 L481.0 382.66 L481.1 383.16 L481.2 383.15 L481.3 382.45 L481.4 382.14 L481.5 381.59 L481.6 381.69 L481.7 384.06 L481.8 385.13 L481.9 383.86 L482.0 387.00 L482.0 383.43 L482.1 383.45 L482.2 382.72 L482.3 383.63 L482.4 384.10 L482.5 381.62 L482.6 382.01 L482.7 380.20 L482.8 380.05 L482.9 379.42 L483.0 379.11 L483.1 380.03 L483.2 379.65 L483.3 381.98 L483.4 382.21 L483.5 383.32 L483.6 382.66 L483.7 385.14 L483.8 383.94 L483.9 382.64 L484.0 380.47 L484.1 382.44 L484.2 383.61 L484.3 382.95 L484.4 380.64 L484.5 379.70 L484.6 379.75 L484.7 380.71 L484.8 381.78 L484.9 382.52 L485.0 382.48 L485.1 381.80 L485.2 379.09 L485.3 380.61 L485.4 379.56 L485.5 379.79 L485.6 381.15 L485.7 379.13 L485.8 379.05 L485.9 379.59 L486.0 379.17 L486.1 379.35 L486.2 380.99 L486.3 380.22 L486.4 379.78 L486.5 381.21 L486.6 380.93 L486.7 382.25 L486.8 379.61 L486.9 380.24 L487.0 382.64 L487.1 381.04 L487.2 379.33 L487.3 379.89 L487.4 381.79 L487.5 383.96 L487.6 382.24 L487.7 380.24 L487.8 379.61 L487.9 381.75 L488.0 384.23 L488.1 384.52 L488.2 384.94 L488.3 383.66 L488.4 384.02 L488.5 383.12 L488.6 383.10 L488.7 381.55 L488.8 380.83 L488.9 381.36 L489.0 385.75 L489.0 382.07 L489.1 379.96 L489.2 383.13 L489.3 384.91 L489.4 384.90 L489.5 384.16 L489.6 382.56 L489.7 383.29 L489.8 384.15 L489.9 382.11 L490.0 381.28 L490.1 380.43 L490.2 380.80 L490.3 381.07 L490.4 379.59 L490.5 379.50 L490.6 379.70 L490.7 380.75 L490.8 379.91 L490.9 380.46 L491.0 379.93 L491.1 380.27 L491.2 381.51 L491.3 380.97 L491.4 379.97 L491.5 379.74 L491.6 379.79 L491.7 380.61 L491.8 379.64 L491.9 379.72 L492.0 380.85 L492.1 380.70 L492.2 380.78 L492.3 381.06 L492.4 381.46 L492.5 382.09 L492.6 382.39 L492.7 380.56 L492.8 380.70 L492.9 382.18 L493.0 381.12 L493.1 381.48 L493.2 381.20 L493.3 381.13 L493.4 382.27 L493.5 382.70 L493.6 382.30 L493.7 381.45 L493.8 382.79 L493.9 381.92 L494.0 381.77 L494.1 382.02 L494.2 380.78 L494.3 380.38 L494.4 380.44 L494.5 380.71 L494.6 380.49 L494.7 380.52 L494.8 380.43 L494.9 379.26 L495.0 379.17 L495.1 380.16 L495.2 380.25 L495.3 380.82 L495.4 381.47 L495.5 382.86 L495.6 381.46 L495.7 381.82 L495.8 380.88 L495.9 382.14 L496.0 381.05 L496.1 380.32 L496.2 379.50 L496.3 380.22 L496.4 381.05 L496.5 382.70 L496.6 382.11 L496.7 381.13 L496.8 380.86 L496.9 380.56 L497.0 380.26 L497.1 380.76 L497.2 380.81 L497.3 380.68 L497.4 379.22 L497.5 379.81 L497.6 380.08 L497.7 379.02 L497.8 379.02 L497.9 379.60 L498.0 379.47 L498.1 379.02 L498.2 379.01 L498.3 379.17 L498.4 379.29 L498.5 379.17 L498.6 380.03 L498.7 379.23 L498.8 379.34 L498.9 380.75 L499.0 382.07 L499.1 382.04 L499.2 381.44 L499.3 381.52 L499.4 380.60 L499.5 381.27 L499.6 381.03 L499.7 381.36 L499.8 381.45 L499.9 380.62 L500.0 380.61 L500.1 379.92 L500.2 381.03 L500.3 381.30 L500.4 381.46 L500.5 382.22 L500.6 381.90 L500.7 381.90 L500.8 381.26 L500.9 380.18 L501.0 379.68 L501.1 379.10 L501.2 379.05 L501.3 379.32 L501.4 379.68 L501.5 380.76 L501.6 379.65 L501.7 379.03 L501.8 379.37 L501.9 380.21 L502.0 380.03 L502.1 380.46 L502.2 379.60 L502.3 380.98 L502.4 380.47 L502.5 380.24 L502.6 380.24 L502.7 379.79 L502.8 379.88 L502.9 379.35 L503.0 380.14 L503.1 380.71 L503.2 379.88 L503.3 379.89 L503.4 382.10 L503.5 380.21 L503.6 379.87 L503.7 382.06 L503.8 381.54 L503.9 379.99 L504.0 380.00 L504.1 383.54 L504.2 383.82 L504.3 383.83 L504.4 383.36 L504.5 384.46 L504.6 384.95 L504.7 386.24 L504.8 386.43 L504.9 386.24 L505.0 386.64 L505.1 385.70 L505.2 385.52 L505.3 385.74 L505.4 385.61 L505.5 386.51 L505.6 387.39 L505.7 386.85 L505.8 387.45 L505.9 387.54 L506.0 387.47 L506.1 386.71 L506.2 385.50 L506.3 385.98 L506.4 383.29 L506.5 382.94 L506.6 382.81 L506.7 381.39 L506.8 384.26 L506.9 382.79 L507.0 381.01 L507.1 381.18 L507.2 381.03 L507.3 382.15 L507.4 384.36 L507.5 382.64 L507.6 386.61 L507.7 389.41 L507.8 389.78 L507.9 389.34 L508.0 388.80 L508.1 387.30 L508.2 383.09 L508.3 382.28 L508.4 381.06 L508.5 383.77 L508.6 383.11 L508.7 381.81 L508.8 381.29 L508.9 381.47 L509.0 395.75 L509.0 383.66 L509.1 383.56 L509.2 383.47 L509.3 382.80 L509.4 382.74 L509.5 384.15 L509.6 385.99 L509.7 388.24 L509.8 389.83 L509.9 390.65 L510.0 390.27 L510.1 390.77 L510.2 390.62 L510.3 389.23 L510.4 389.38 L510.5 387.46 L510.6 383.08 L510.7 383.79 L510.8 382.86 L510.9 384.15 L511.0 385.28 L511.1 385.05 L511.2 388.45 L511.3 387.82 L511.4 388.59 L511.5 388.17 L511.6 389.13 L511.7 388.86 L511.8 389.97 L511.9 387.14 L512.0 387.24 L512.1 384.37 L512.2 389.15 L512.3 391.44 L512.4 389.94 L512.5 392.58 L512.6 392.19 L512.7 389.95 L512.8 388.91 L512.9 386.42 L513.0 395.00 L513.0 386.57 L513.1 385.66 L513.2 388.04 L513.3 386.78 L513.4 387.60 L513.5 384.71 L513.6 385.50 L513.7 383.55 L513.8 383.10 L513.9 383.04 L514.0 382.22 L514.1 382.42 L514.2 384.58 L514.3 382.11 L514.4 382.10 L514.5 384.65 L514.6 389.11 L514.7 387.15 L514.8 389.31 L514.9 388.48 L515.0 387.73 L515.1 385.23 L515.2 388.91 L515.3 388.69 L515.4 386.37 L515.5 387.04 L515.6 387.35 L515.7 385.97 L515.8 387.56 L515.9 387.97 L516.0 387.65 L516.1 387.84 L516.2 385.48 L516.3 387.08 L516.4 386.80 L516.5 385.61 L516.6 387.33 L516.7 385.96 L516.8 384.86 L516.9 383.19 L517.0 384.16 L517.1 385.13 L517.2 385.12 L517.3 384.97 L517.4 384.47 L517.5 384.60 L517.6 385.10 L517.7 384.97 L517.8 386.60 L517.9 385.71 L518.0 385.50 L518.1 385.21 L518.2 384.79 L518.3 383.40 L518.4 382.73 L518.5 382.90 L518.6 381.20 L518.7 381.15 L518.8 383.53 L518.9 386.13 L519.0 385.03 L519.1 385.79 L519.2 386.00 L519.3 388.12 L519.4 386.67 L519.5 384.71 L519.6 386.67 L519.7 385.17 L519.8 381.60 L519.9 381.30 L520.0 392.00 L520.0 381.61 L520.1 382.00 L520.2 381.07 L520.3 382.73 L520.4 384.23 L520.5 385.60 L520.6 389.90 L520.7 389.03 L520.8 384.20 L520.9 384.39 L521.0 383.02 L521.1 379.81 L521.2 380.05 L521.3 379.14 L521.4 379.16 L521.5 379.27 L521.6 379.55 L521.7 379.03 L521.8 379.37 L521.9 379.14 L522.0 379.41 L522.1 381.94 L522.2 383.25 L522.3 379.29 L522.4 380.12 L522.5 380.79 L522.6 382.41 L522.7 383.49 L522.8 383.17 L522.9 381.26 L523.0 381.41 L523.1 380.10 L523.2 379.33 L523.3 379.15 L523.4 379.20 L523.5 379.28 L523.6 379.20 L523.7 379.10 L523.8 379.26 L523.9 379.29 L524.0 380.12 L524.1 380.93 L524.2 379.99 L524.3 380.54 L524.4 379.69 L524.5 379.40 L524.6 379.09 L524.7 379.83 L524.8 379.26 L524.9 381.17 L525.0 381.28 L525.1 381.34 L525.2 381.13 L525.3 380.21 L525.4 379.09 L525.5 379.55 L525.6 379.18 L525.7 379.74 L525.8 381.54 L525.9 381.65 L526.0 382.23 L526.1 382.15 L526.2 381.63 L526.3 382.04 L526.4 383.91 L526.5 383.90 L526.6 384.38 L526.7 384.01 L526.8 384.16 L526.9 384.99 L527.0 385.42 L527.1 384.71 L527.2 384.48 L527.3 385.09 L527.4 385.77 L527.5 384.49 L527.6 385.00 L527.7 384.98 L527.8 384.11 L527.9 384.52 L528.0 384.68 L528.1 384.86 L528.2 385.29 L528.3 385.77 L528.4 385.98 L528.5 385.92 L528.6 386.62 L528.7 385.84 L528.8 386.49 L528.9 387.06 L529.0 388.41 L529.1 388.11 L529.2 389.31 L529.3 390.21 L529.4 389.76 L529.5 390.28 L529.6 391.85 L529.7 391.30 L529.8 391.96 L529.9 392.59 L530.0 391.99 L530.1 393.37 L530.2 393.09 L530.3 393.85 L530.4 394.35 L530.5 393.92 L530.6 393.97 L530.7 393.18 L530.8 395.66 L530.9 394.84 L531.0 394.29 L531.1 396.11 L531.2 397.36 L531.3 397.16 L531.4 396.00 L531.5 394.88 L531.6 394.98 L531.7 395.60 L531.8 397.22 L531.9 398.81 L532.0 399.63 L532.1 400.74 L532.2 398.46 L532.3 396.24 L532.4 395.17 L532.5 395.40 L532.6 394.36 L532.7 394.58 L532.8 395.24 L532.9 394.88 L533.0 395.10 L533.1 398.44 L533.2 400.55 L533.3 400.19 L533.4 401.51 L533.5 414.50 L533.5 404.07 L533.6 404.24 L533.7 406.37 L533.8 401.59 L533.9 403.83 L534.0 400.93 L534.1 401.75 L534.2 398.87 L534.3 400.62 L534.4 401.86 L534.5 400.87 L534.6 401.70 L534.7 401.11 L534.8 402.43 L534.9 402.01 L535.0 401.42 L535.1 400.21 L535.2 399.86 L535.3 400.20 L535.4 400.78 L535.5 399.71 L535.6 398.97 L535.7 397.28 L535.8 396.09 L535.9 395.69 L536.0 396.05 L536.1 397.07 L536.2 395.97 L536.3 393.85 L536.4 396.32 L536.5 396.10 L536.6 395.21 L536.7 395.24 L536.8 394.90 L536.9 395.99 L537.0 396.82 L537.1 394.24 L537.2 393.38 L537.3 394.47 L537.4 393.85 L537.5 395.01 L537.6 392.97 L537.7 395.19 L537.8 395.41 L537.9 392.67 L538.0 394.09 L538.1 392.92 L538.2 393.61 L538.3 394.23 L538.4 395.13 L538.5 396.37 L538.6 393.99 L538.7 393.92 L538.8 393.07 L538.9 392.90 L539.0 393.61 L539.1 397.95 L539.2 398.24 L539.3 397.29 L539.4 400.86 L539.5 400.65 L539.6 400.74 L539.7 400.55 L539.8 402.15 L539.9 401.70 L540.0 400.28 L540.1 402.69 L540.2 402.77 L540.3 403.62 L540.4 404.49 L540.5 402.81 L540.6 405.15 L540.7 405.08 L540.8 404.79 L540.9 403.89 L541.0 404.07 L541.1 405.04 L541.2 405.79 L541.3 405.99 L541.4 405.03 L541.5 404.27 L541.6 405.39 L541.7 407.73 L541.8 409.57 L541.9 409.23 L542.0 411.32 L542.1 411.69 L542.2 410.29 L542.3 407.86 L542.4 410.73 L542.5 415.74 L542.6 417.13 L542.7 418.24 L542.8 419.12 L542.9 417.51 L543.0 423.25 L543.0 412.75 L543.1 413.09 L543.2 411.41 L543.3 403.19 L543.4 402.54 L543.5 403.16 L543.6 403.82 L543.7 403.57 L543.8 403.21 L543.9 405.09 L544.0 403.32 L544.1 403.60 L544.2 405.60 L544.3 407.53 L544.4 410.15 L544.5 406.69 L544.6 409.23 L544.7 410.80 L544.8 410.40 L544.9 406.95 L545.0 407.91 L545.1 409.47 L545.2 407.72 L545.3 407.47 L545.4 406.42 L545.5 404.77 L545.6 404.61 L545.7 402.77 L545.8 399.87 L545.9 398.40 L546.0 395.71 L546.1 396.87 L546.2 397.63 L546.3 397.99 L546.4 399.36 L546.5 398.01 L546.6 399.02 L546.7 397.67 L546.8 395.24 L546.9 394.59 L547.0 393.88 L547.1 393.48 L547.2 393.36 L547.3 393.81 L547.4 394.45 L547.5 393.48 L547.6 392.04 L547.7 392.81 L547.8 394.25 L547.9 395.20 L548.0 395.56 L548.1 393.04 L548.2 393.55 L548.3 392.51 L548.4 393.48 L548.5 394.72 L548.6 393.88 L548.7 392.43 L548.8 391.72 L548.9 391.96 L549.0 392.24 L549.1 390.79 L549.2 390.86 L549.3 389.62 L549.4 388.80 L549.5 389.71 L549.6 389.35 L549.7 386.90 L549.8 386.39 L549.9 387.48 L550.0 385.79 L550.1 386.87 L550.2 386.83 L550.3 385.53 L550.4 385.32 L550.5 385.81 L550.6 386.87 L550.7 385.71 L550.8 385.48 L550.9 385.69 L551.0 386.21 L551.1 387.78 L551.2 386.46 L551.3 386.52 L551.4 385.45 L551.5 385.12 L551.6 384.35 L551.7 384.09 L551.8 383.75 L551.9 383.58 L552.0 383.69 L552.1 383.50 L552.2 383.97 L552.3 384.60 L552.4 383.80 L552.5 382.77 L552.6 382.48 L552.7 382.70 L552.8 382.75 L552.9 382.73 L553.0 382.80 L553.1 384.31 L553.2 384.90 L553.3 385.80 L553.4 385.78 L553.5 385.07 L553.6 382.67 L553.7 382.20 L553.8 382.14 L553.9 380.89 L554.0 380.58 L554.1 380.70 L554.2 382.90 L554.3 382.26 L554.4 381.71 L554.5 380.58 L554.6 380.38 L554.7 379.65 L554.8 380.10 L554.9 379.28 L555.0 387.00 L555.0 381.09 L555.1 379.49 L555.2 379.37 L555.3 380.06 L555.4 380.70 L555.5 379.14 L555.6 379.42 L555.7 379.47 L555.8 381.07 L555.9 379.91 L556.0 379.36 L556.1 379.57 L556.2 380.16 L556.3 380.84 L556.4 380.37 L556.5 379.07 L556.6 379.49 L556.7 381.24 L556.8 380.93 L556.9 380.62 L557.0 380.65 L557.1 381.17 L557.2 380.83 L557.3 380.73 L557.4 380.89 L557.5 382.46 L557.6 385.37 L557.7 384.73 L557.8 386.15 L557.9 384.62 L558.0 388.25 L558.0 383.43 L558.1 383.91 L558.2 382.48 L558.3 381.47 L558.4 385.97 L558.5 385.07 L558.6 384.43 L558.7 381.05 L558.8 381.92 L558.9 382.34 L559.0 381.83 L559.1 382.75 L559.2 379.83 L559.3 382.33 L559.4 384.38 L559.5 381.45 L559.6 381.95 L559.7 383.11 L559.8 384.22 L559.9 384.45 L560.0 385.69 L560.1 386.21 L560.2 385.81 L560.3 387.23 L560.4 385.96 L560.5 385.53 L560.6 385.11 L560.7 386.95 L560.8 386.38 L560.9 384.85 L561.0 383.79 L561.1 384.25 L561.2 384.38 L561.3 384.92 L561.4 383.82 L561.5 384.41 L561.6 385.57 L561.7 387.97 L561.8 389.81 L561.9 388.17 L562.0 388.86 L562.1 387.62 L562.2 388.24 L562.3 389.33 L562.4 389.13 L562.5 385.20 L562.6 385.56 L562.7 385.90 L562.8 385.29 L562.9 386.67 L563.0 386.27 L563.1 386.05 L563.2 387.12 L563.3 386.09 L563.4 387.62 L563.5 387.00 L563.6 386.87 L563.7 388.16 L563.8 390.74 L563.9 390.35 L564.0 390.81 L564.1 390.34 L564.2 387.47 L564.3 386.89 L564.4 391.86 L564.5 397.00 L564.5 391.50 L564.6 392.92 L564.7 393.83 L564.8 395.79 L564.9 395.31 L565.0 394.54 L565.1 393.83 L565.2 392.52 L565.3 392.88 L565.4 392.46 L565.5 393.96 L565.6 392.50 L565.7 393.47 L565.8 391.30 L565.9 390.11 L566.0 390.64 L566.1 389.97 L566.2 389.94 L566.3 389.65 L566.4 387.84 L566.5 389.02 L566.6 388.90 L566.7 389.77 L566.8 388.99 L566.9 388.52 L567.0 388.05 L567.1 386.96 L567.2 388.80 L567.3 389.94 L567.4 391.15 L567.5 390.69 L567.6 390.13 L567.7 390.37 L567.8 388.29 L567.9 389.79 L568.0 389.92 L568.1 388.44 L568.2 388.81 L568.3 385.83 L568.4 386.67 L568.5 385.78 L568.6 385.28 L568.7 386.21 L568.8 387.53 L568.9 386.90 L569.0 385.51 L569.1 383.36 L569.2 381.93 L569.3 382.43 L569.4 382.57 L569.5 381.70 L569.6 381.58 L569.7 381.11 L569.8 379.74 L569.9 379.38 L570.0 380.67 L570.1 382.65 L570.2 381.91 L570.3 382.11 L570.4 380.83 L570.5 381.58 L570.6 381.47 L570.7 381.47 L570.8 382.81 L570.9 383.58 L571.0 383.71 L571.1 383.47 L571.2 383.48 L571.3 381.48 L571.4 381.89 L571.5 381.41 L571.6 382.99 L571.7 382.91 L571.8 382.05 L571.9 381.45 L572.0 382.39 L572.1 382.40 L572.2 382.40 L572.3 383.13 L572.4 382.96 L572.5 382.74 L572.6 382.56 L572.7 383.06 L572.8 382.84 L572.9 383.07 L573.0 380.61 L573.1 381.66 L573.2 381.36 L573.3 382.19 L573.4 381.66 L573.5 381.83 L573.6 380.53 L573.7 381.62 L573.8 380.77 L573.9 382.76 L574.0 383.04 L574.1 383.62 L574.2 382.66 L574.3 381.67 L574.4 382.31 L574.5 382.05 L574.6 382.08 L574.7 379.94 L574.8 379.53 L574.9 380.28 L575.0 387.00 L575.0 379.19 L575.1 379.41 L575.2 379.35 L575.3 379.77 L575.4 379.08 L575.5 379.47 L575.6 379.06 L575.7 379.60 L575.8 379.27 L575.9 379.75 L576.0 382.98 L576.1 380.46 L576.2 379.50 L576.3 379.23 L576.4 379.58 L576.5 381.08 L576.6 380.96 L576.7 380.17 L576.8 379.04 L576.9 379.90 L577.0 379.20 L577.1 380.56 L577.2 379.43 L577.3 380.00 L577.4 380.47 L577.5 380.05 L577.6 379.12 L577.7 381.44 L577.8 382.19 L577.9 382.50 L578.0 380.88 L578.1 381.15 L578.2 379.60 L578.3 379.31 L578.4 379.38 L578.5 379.42 L578.6 379.77 L578.7 379.98 L578.8 379.83 L578.9 380.01 L579.0 379.13 L579.1 379.00 L579.2 379.78 L579.3 382.00 L579.4 379.51 L579.5 381.13 L579.6 380.15 L579.7 381.51 L579.8 380.63 L579.9 380.45 L580.0 380.54 L580.1 380.50 L580.2 380.57 L580.3 381.75 L580.4 382.88 L580.5 381.84 L580.6 382.92 L580.7 383.15 L580.8 381.26 L580.9 379.76 L581.0 385.75 L581.0 381.69 L581.1 383.12 L581.2 381.77 L581.3 382.73 L581.4 381.42 L581.5 382.04 L581.6 384.74 L581.7 384.34 L581.8 383.58 L581.9 382.46 L582.0 382.16 L582.1 381.47 L582.2 383.49 L582.3 383.77 L582.4 382.86 L582.5 381.38 L582.6 381.01 L582.7 381.74 L582.8 382.75 L582.9 382.02 L583.0 382.80 L583.1 382.75 L583.2 382.39 L583.3 382.53 L583.4 382.25 L583.5 381.85 L583.6 381.77 L583.7 381.59 L583.8 381.15 L583.9 381.27 L584.0 380.97 L584.1 379.53 L584.2 379.89 L584.3 379.11 L584.4 379.26 L584.5 379.39 L584.6 380.51 L584.7 381.16 L584.8 381.43 L584.9 380.65 L585.0 380.70 L585.1 381.85 L585.2 381.54 L585.3 381.85 L585.4 380.22 L585.5 380.24 L585.6 379.36 L585.7 379.93 L585.8 380.20 L585.9 379.45 L586.0 380.52 L586.1 380.42 L586.2 381.80 L586.3 381.04 L586.4 381.83 L586.5 381.46 L586.6 381.48 L586.7 381.76 L586.8 380.71 L586.9 381.51 L587.0 381.66 L587.1 381.83 L587.2 380.52 L587.3 381.70 L587.4 380.70 L587.5 380.70 L587.6 379.66 L587.7 379.56 L587.8 379.28 L587.9 379.85 L588.0 379.84 L588.1 379.02 L588.2 379.48 L588.3 379.18 L588.4 379.80 L588.5 379.03 L588.6 379.14 L588.7 379.02 L588.8 379.04 L588.9 379.00 L589.0 379.49 L589.1 379.83 L589.2 379.98 L589.3 380.13 L589.4 379.94 L589.5 379.00 L589.6 379.07 L589.7 379.04 L589.8 379.03 L589.9 379.30 L590.0 379.04 L590.1 379.06 L590.2 379.13 L590.3 379.02 L590.4 379.04 L590.5 379.47 L590.6 380.12 L590.7 379.45 L590.8 379.88 L590.9 379.75 L591.0 379.72 L591.1 380.58 L591.2 381.15 L591.3 381.36 L591.4 380.55 L591.5 380.35 L591.6 381.19 L591.7 380.66 L591.8 380.03 L591.9 379.30 L592.0 379.53 L592.1 379.04 L592.2 381.32 L592.3 381.32 L592.4 381.42 L592.5 381.00 L592.6 381.45 L592.7 381.81 L592.8 381.55 L592.9 381.16 L593.0 383.25 L593.0 382.14 L593.1 382.18 L593.2 382.73 L593.3 382.63 L593.4 382.10 L593.5 382.38 L593.6 382.82 L593.7 382.69 L593.8 382.59 L593.9 382.37 L594.0 381.62 L594.1 381.93 L594.2 381.77 L594.3 381.83 L594.4 382.40 L594.5 381.22 L594.6 381.12 L594.7 381.07 L594.8 381.20 L594.9 382.24 L595.0 381.65 L595.1 381.70 L595.2 382.26 L595.3 380.80 L595.4 381.36 L595.5 381.86 L595.6 381.45 L595.7 381.25 L595.8 380.79 L595.9 381.60 L596.0 381.08 L596.1 380.21 L596.2 379.75 L596.3 379.34 L596.4 379.49 L596.5 379.58 L596.6 380.26 L596.7 379.20 L596.8 379.45 L596.9 379.35 L597.0 379.44 L597.1 379.15 L597.2 379.03 L597.3 379.76 L597.4 381.50 L597.5 379.76 L597.6 380.77 L597.7 379.51 L597.8 381.16 L597.9 380.80 L598.0 379.31 L598.1 379.78 L598.2 380.75 L598.3 383.98 L598.4 388.48 L598.5 391.95 L598.6 393.71 L598.7 396.41 L598.8 396.66 L598.9 398.44 L599.0 403.25 L599.0 396.37 L599.1 392.48 L599.2 395.95 L599.3 391.16 L599.4 392.19 L599.5 395.56 L599.6 396.06 L599.7 397.10 L599.8 396.92 L599.9 396.83 L600.0 393.93 L600.1 396.42 L600.2 395.85 L600.3 395.13 L600.4 395.50 L600.5 396.15 L600.6 395.65 L600.7 395.50 L600.8 396.97 L600.9 396.30 L601.0 395.66 L601.1 395.21 L601.2 395.36 L601.3 394.16 L601.4 392.57 L601.5 391.69 L601.6 390.36 L601.7 393.78 L601.8 392.60 L601.9 393.73 L602.0 398.25 L602.0 391.06 L602.1 390.77 L602.2 393.37 L602.3 393.11 L602.4 390.82 L602.5 390.47 L602.6 391.02 L602.7 390.90 L602.8 393.28 L602.9 392.75 L603.0 393.06 L603.1 394.70 L603.2 393.59 L603.3 393.82 L603.4 393.85 L603.5 392.78 L603.6 392.30 L603.7 390.78 L603.8 389.81 L603.9 390.75 L604.0 390.15 L604.1 390.27 L604.2 392.47 L604.3 392.30 L604.4 391.99 L604.5 393.70 L604.6 390.49 L604.7 390.50 L604.8 389.30 L604.9 389.65 L605.0 390.98 L605.1 391.08 L605.2 389.89 L605.3 389.58 L605.4 390.64 L605.5 391.38 L605.6 391.89 L605.7 392.01 L605.8 390.70 L605.9 390.93 L606.0 389.21 L606.1 389.21 L606.2 388.76 L606.3 389.17 L606.4 390.43 L606.5 390.42 L606.6 390.96 L606.7 390.61 L606.8 390.04 L606.9 390.37 L607.0 390.15 L607.1 389.28 L607.2 389.17 L607.3 388.97 L607.4 389.12 L607.5 389.29 L607.6 388.71 L607.7 389.03 L607.8 387.65 L607.9 388.63 L608.0 387.72 L608.1 387.91 L608.2 388.68 L608.3 388.30 L608.4 387.14 L608.5 386.34 L608.6 386.17 L608.7 386.25 L608.8 386.95 L608.9 386.61 L609.0 386.28 L609.1 386.05 L609.2 385.93 L609.3 385.17 L609.4 384.81 L609.5 384.77 L609.6 385.28 L609.7 384.86 L609.8 384.54 L609.9 385.93 L610.0 385.88 L610.1 386.24 L610.2 384.07 L610.3 384.11 L610.4 384.35 L610.5 384.53 L610.6 384.44 L610.7 384.01 L610.8 382.81 L610.9 383.34 L611.0 382.91 L611.1 382.34 L611.2 383.33 L611.3 384.16 L611.4 383.15 L611.5 383.99 L611.6 382.32 L611.7 382.44 L611.8 381.74 L611.9 381.69 L612.0 382.03 L612.1 382.54 L612.2 382.74 L612.3 382.65 L612.4 383.08 L612.5 382.19 L612.6 382.24 L612.7 381.71 L612.8 380.73 L612.9 380.66 L613.0 380.92 L613.1 381.31 L613.2 382.35 L613.3 381.79 L613.4 380.79 L613.5 380.78 L613.6 382.04 L613.7 380.58 L613.8 380.44 L613.9 380.37 L614.0 380.78 L614.1 380.49 L614.2 380.60 L614.3 381.12 L614.4 380.07 L614.5 380.08 L614.6 379.62 L614.7 379.98 L614.8 380.98 L614.9 382.15 L615.0 381.43 L615.1 381.30 L615.2 382.46 L615.3 380.58 L615.4 383.08 L615.5 381.80 L615.6 382.72 L615.7 383.14 L615.8 382.43 L615.9 382.70 L616.0 382.65 L616.1 380.77 L616.2 382.00 L616.3 383.42 L616.4 386.18 L616.5 386.01 L616.6 385.80 L616.7 386.34 L616.8 385.16 L616.9 385.99 L617.0 386.56 L617.1 386.03 L617.2 385.63 L617.3 390.36 L617.4 390.42 L617.5 390.89 L617.6 391.73 L617.7 392.57 L617.8 389.37 L617.9 391.60 L618.0 392.53 L618.1 393.49 L618.2 393.82 L618.3 394.65 L618.4 395.52 L618.5 396.12 L618.6 392.43 L618.7 396.11 L618.8 394.46 L618.9 397.24 L619.0 397.97 L619.1 398.69 L619.2 398.00 L619.3 398.01 L619.4 396.32 L619.5 395.58 L619.6 394.13 L619.7 398.09 L619.8 398.02 L619.9 397.34 L620.0 403.75 L620.0 398.28 L620.1 398.53 L620.2 398.07 L620.3 400.94 L620.4 399.14 L620.5 397.76 L620.6 398.30 L620.7 397.24 L620.8 398.01 L620.9 394.23 L621.0 392.82 L621.1 394.06 L621.2 393.11 L621.3 392.46 L621.4 392.72 L621.5 393.83 L621.6 391.41 L621.7 390.74 L621.8 391.00 L621.9 390.80 L622.0 396.75 L622.1 398.31 L622.2 399.26 L622.3 403.20 L622.4 405.81 L622.5 405.41 L622.6 409.13 L622.7 398.77 L622.8 391.92 L622.9 389.11 L623.0 421.00 L623.0 398.72 L623.1 398.11 L623.2 389.68 L623.3 387.66 L623.4 386.81 L623.5 386.74 L623.6 387.76 L623.7 392.13 L623.8 391.86 L623.9 390.68 L624.0 388.87 L624.1 391.03 L624.2 389.12 L624.3 388.23 L624.4 389.48 L624.5 388.48 L624.6 388.03 L624.7 388.34 L624.8 387.99 L624.9 386.50 L625.0 384.65 L625.1 384.79 L625.2 385.78 L625.3 385.09 L625.4 385.05 L625.5 384.01 L625.6 383.05 L625.7 383.41 L625.8 382.81 L625.9 382.13 L626.0 381.01 L626.1 380.97 L626.2 379.89 L626.3 379.15 L626.4 379.23 L626.5 379.51 L626.6 379.43 L626.7 380.05 L626.8 379.16 L626.9 379.17 L627.0 379.46 L627.1 380.81 L627.2 380.09 L627.3 380.13 L627.4 380.13 L627.5 381.68 L627.6 382.41 L627.7 381.25 L627.8 381.25 L627.9 381.55 L628.0 381.40 L628.1 381.25 L628.2 382.03 L628.3 380.99 L628.4 380.51 L628.5 381.33 L628.6 381.11 L628.7 380.64 L628.8 379.64 L628.9 380.87 L629.0 380.39 L629.1 379.35 L629.2 379.93 L629.3 380.37 L629.4 380.39 L629.5 380.66 L629.6 379.92 L629.7 379.04 L629.8 380.19 L629.9 379.69 L630.0 380.69 L630.1 380.21 L630.2 379.48 L630.3 379.48 L630.4 379.54 L630.5 380.19 L630.6 380.20 L630.7 380.28 L630.8 379.91 L630.9 380.60 L631.0 379.68 L631.1 379.06 L631.2 379.76 L631.3 380.30 L631.4 380.43 L631.5 379.97 L631.6 382.05 L631.7 382.48 L631.8 380.90 L631.9 379.85 L632.0 379.59 L632.1 379.71 L632.2 379.52 L632.3 380.48 L632.4 380.23 L632.5 380.07 L632.6 382.52 L632.7 384.90 L632.8 383.95 L632.9 383.67 L633.0 387.00 L633.0 382.69 L633.1 379.16 L633.2 380.81 L633.3 379.19 L633.4 379.57 L633.5 379.09 L633.6 379.73 L633.7 380.46 L633.8 380.08 L633.9 380.85 L634.0 382.38 L634.1 380.66 L634.2 381.22 L634.3 381.25 L634.4 379.28 L634.5 379.23 L634.6 379.50 L634.7 379.37 L634.8 380.83 L634.9 381.89 L635.0 382.32 L635.1 383.28 L635.2 383.96 L635.3 384.76 L635.4 383.27 L635.5 383.63 L635.6 381.91 L635.7 379.85 L635.8 379.96 L635.9 379.58 L636.0 380.60 L636.1 379.61 L636.2 380.84 L636.3 380.35 L636.4 381.80 L636.5 382.51 L636.6 383.75 L636.7 381.40 L636.8 379.29 L636.9 379.04 L637.0 379.21 L637.1 379.34 L637.2 379.11 L637.3 379.33 L637.4 379.10 L637.5 379.40 L637.6 379.27 L637.7 380.13 L637.8 380.27 L637.9 380.92 L638.0 379.44 L638.1 379.68 L638.2 380.53 L638.3 380.92 L638.4 381.78 L638.5 381.62 L638.6 381.75 L638.7 380.82 L638.8 381.95 L638.9 382.60 L639.0 383.88 L639.1 382.36 L639.2 384.03 L639.3 384.39 L639.4 383.32 L639.5 382.34 L639.6 381.59 L639.7 380.38 L639.8 381.19 L639.9 382.90 L640.0 383.57 L640.1 384.21 L640.2 384.40 L640.3 383.00 L640.4 381.05 L640.5 380.94 L640.6 379.79 L640.7 379.93 L640.8 379.77 L640.9 379.77 L641.0 379.66 L641.1 380.02 L641.2 382.72 L641.3 382.59 L641.4 382.13 L641.5 381.52 L641.6 382.13 L641.7 381.32 L641.8 381.92 L641.9 380.26 L642 379 Z" fill="url(#g)" stroke="none"/>
<path d="M-2.0 382.30 L-1.9 381.03 L-1.8 379.41 L-1.7 381.04 L-1.6 380.17 L-1.5 379.79 L-1.4 380.04 L-1.3 381.30 L-1.2 381.52 L-1.1 383.06 L-1.0 382.00 L-0.9 385.33 L-0.8 385.95 L-0.7 384.77 L-0.6 385.64 L-0.5 386.92 L-0.4 385.52 L-0.3 387.79 L-0.2 388.62 L-0.1 388.86 L0.0 388.07 L0.1 385.44 L0.2 385.16 L0.3 384.04 L0.4 384.92 L0.5 384.56 L0.6 379.99 L0.7 384.08 L0.8 384.92 L0.9 381.62 L1.0 380.46 L1.1 381.11 L1.2 380.58 L1.3 379.99 L1.4 380.65 L1.5 382.56 L1.6 384.40 L1.7 384.67 L1.8 385.24 L1.9 382.35 L2.0 379.79 L2.1 379.96 L2.2 379.11 L2.3 379.56 L2.4 379.26 L2.5 379.24 L2.6 379.19 L2.7 380.29 L2.8 379.34 L2.9 380.82 L3.0 381.00 L3.1 379.08 L3.2 379.85 L3.3 383.98 L3.4 387.25 L3.5 384.25 L3.6 382.78 L3.7 379.30 L3.8 379.33 L3.9 379.89 L4.0 379.35 L4.1 380.49 L4.2 379.98 L4.3 379.46 L4.4 380.83 L4.5 383.70 L4.6 383.04 L4.7 380.27 L4.8 380.73 L4.9 384.32 L5.0 380.57 L5.0 395.60 L5.1 382.15 L5.2 381.36 L5.3 383.94 L5.4 385.59 L5.5 384.93 L5.6 382.66 L5.7 382.11 L5.8 382.06 L5.9 383.93 L6.0 384.62 L6.1 384.51 L6.2 383.45 L6.3 383.22 L6.4 384.06 L6.5 382.49 L6.6 382.03 L6.7 382.09 L6.8 382.38 L6.9 382.07 L7.0 382.03 L7.1 382.37 L7.2 382.29 L7.3 382.39 L7.4 382.21 L7.5 382.16 L7.6 383.03 L7.7 382.84 L7.8 382.45 L7.9 382.15 L8.0 382.31 L8.1 381.75 L8.2 382.74 L8.3 382.44 L8.4 383.28 L8.5 383.49 L8.6 383.11 L8.7 383.07 L8.8 381.46 L8.9 382.12 L9.0 381.45 L9.1 380.02 L9.2 380.03 L9.3 381.32 L9.4 381.16 L9.5 379.50 L9.6 379.15 L9.7 379.12 L9.8 379.79 L9.9 379.18 L10.0 379.54 L10.1 380.52 L10.2 381.13 L10.3 379.23 L10.4 379.26 L10.5 379.30 L10.6 379.20 L10.7 379.03 L10.8 380.81 L10.9 380.56 L11.0 379.14 L11.1 379.68 L11.2 380.68 L11.3 379.03 L11.4 379.13 L11.5 381.62 L11.6 384.29 L11.7 386.88 L11.8 384.43 L11.9 387.48 L12.0 387.13 L12.1 388.22 L12.2 388.02 L12.3 387.53 L12.4 387.46 L12.5 387.48 L12.6 387.05 L12.7 385.24 L12.8 385.26 L12.9 387.08 L13.0 384.67 L13.1 385.02 L13.2 382.88 L13.3 380.41 L13.4 379.57 L13.5 383.97 L13.6 384.56 L13.7 383.95 L13.8 386.60 L13.9 381.72 L14.0 382.20 L14.1 380.95 L14.2 382.99 L14.3 379.81 L14.4 380.48 L14.5 380.75 L14.6 384.89 L14.7 383.73 L14.8 383.85 L14.9 385.32 L15.0 386.74 L15.0 393.75 L15.1 388.19 L15.2 388.32 L15.3 385.45 L15.4 388.74 L15.5 390.58 L15.6 390.50 L15.7 388.48 L15.8 390.84 L15.9 388.12 L16.0 388.48 L16.1 384.55 L16.2 387.71 L16.3 384.82 L16.4 385.46 L16.5 383.98 L16.6 382.91 L16.7 380.40 L16.8 380.40 L16.9 379.20 L17.0 381.28 L17.1 379.66 L17.2 379.70 L17.3 381.27 L17.4 382.77 L17.5 384.45 L17.6 386.28 L17.7 386.79 L17.8 387.65 L17.9 386.31 L18.0 383.81 L18.1 383.73 L18.2 383.76 L18.3 383.50 L18.4 384.45 L18.5 382.69 L18.6 380.35 L18.7 379.50 L18.8 380.50 L18.9 379.25 L19.0 379.94 L19.1 382.01 L19.2 383.97 L19.3 384.82 L19.4 384.38 L19.5 383.93 L19.6 382.04 L19.7 380.60 L19.8 381.82 L19.9 381.26 L20.0 382.93 L20.1 382.72 L20.2 379.69 L20.3 380.11 L20.4 382.47 L20.5 382.98 L20.6 382.02 L20.7 381.09 L20.8 382.09 L20.9 381.01 L21.0 379.24 L21.1 379.69 L21.2 379.97 L21.3 379.02 L21.4 379.40 L21.5 380.22 L21.6 379.45 L21.7 379.12 L21.8 379.16 L21.9 382.31 L22.0 380.73 L22.1 381.96 L22.2 381.74 L22.3 383.81 L22.4 386.26 L22.5 385.74 L22.6 386.04 L22.7 384.40 L22.8 383.75 L22.9 385.11 L23.0 382.85 L23.1 381.57 L23.2 381.79 L23.3 381.37 L23.4 380.81 L23.5 379.62 L23.6 379.20 L23.7 379.22 L23.8 379.36 L23.9 379.79 L24.0 381.76 L24.1 386.42 L24.2 383.89 L24.3 381.89 L24.4 383.23 L24.5 379.17 L24.6 379.62 L24.7 379.38 L24.8 379.59 L24.9 379.56 L25.0 379.68 L25.1 379.37 L25.2 380.49 L25.3 384.39 L25.4 380.22 L25.5 381.61 L25.6 383.14 L25.7 384.28 L25.8 388.93 L25.9 389.93 L26.0 391.18 L26.1 388.88 L26.2 385.20 L26.3 389.19 L26.4 389.95 L26.5 393.75 L26.5 386.14 L26.6 385.84 L26.7 388.08 L26.8 385.61 L26.9 386.57 L27.0 382.85 L27.1 384.45 L27.2 385.13 L27.3 384.62 L27.4 383.85 L27.5 383.48 L27.6 386.56 L27.7 389.11 L27.8 384.13 L27.9 381.75 L28.0 381.43 L28.1 381.59 L28.2 379.54 L28.3 381.43 L28.4 386.45 L28.5 384.07 L28.6 382.02 L28.7 382.25 L28.8 384.14 L28.9 385.32 L29.0 385.19 L29.1 385.92 L29.2 385.86 L29.3 385.67 L29.4 385.15 L29.5 384.26 L29.6 384.79 L29.7 384.50 L29.8 384.92 L29.9 384.17 L30.0 386.09 L30.1 386.13 L30.2 386.03 L30.3 384.11 L30.4 384.18 L30.5 384.50 L30.6 384.71 L30.7 382.24 L30.8 383.69 L30.9 381.71 L31.0 383.50 L31.1 384.45 L31.2 383.89 L31.3 382.22 L31.4 383.21 L31.5 382.67 L31.6 384.83 L31.7 384.16 L31.8 384.27 L31.9 384.15 L32.0 382.51 L32.1 380.43 L32.2 381.67 L32.3 382.39 L32.4 382.35 L32.5 381.48 L32.6 382.80 L32.7 381.39 L32.8 383.03 L32.9 383.72 L33.0 382.06 L33.1 381.26 L33.2 380.93 L33.3 380.11 L33.4 380.83 L33.5 379.16 L33.6 379.42 L33.7 379.51 L33.8 379.33 L33.9 380.60 L34.0 381.97 L34.1 379.70 L34.2 380.76 L34.3 379.47 L34.4 379.52 L34.5 381.05 L34.6 387.06 L34.7 386.59 L34.8 388.82 L34.9 385.86 L35.0 402.00 L35.0 379.78 L35.1 380.89 L35.2 383.94 L35.3 379.16 L35.4 379.27 L35.5 383.18 L35.6 385.63 L35.7 383.25 L35.8 381.48 L35.9 379.30 L36.0 383.29 L36.1 380.46 L36.2 380.59 L36.3 380.89 L36.4 380.82 L36.5 383.46 L36.6 379.69 L36.7 379.40 L36.8 380.12 L36.9 379.85 L37.0 382.03 L37.1 379.11 L37.2 381.21 L37.3 379.25 L37.4 379.05 L37.5 383.25 L37.6 384.29 L37.7 381.30 L37.8 382.94 L37.9 381.96 L38.0 384.09 L38.1 385.21 L38.2 385.38 L38.3 383.98 L38.4 383.86 L38.5 379.57 L38.6 379.96 L38.7 382.46 L38.8 381.57 L38.9 379.88 L39.0 380.34 L39.1 381.64 L39.2 381.66 L39.3 379.05 L39.4 379.13 L39.5 379.45 L39.6 380.48 L39.7 379.26 L39.8 379.60 L39.9 381.57 L40.0 383.87 L40.1 382.06 L40.2 380.48 L40.3 380.35 L40.4 379.65 L40.5 379.26 L40.6 379.76 L40.7 380.81 L40.8 380.46 L40.9 379.12 L41.0 379.37 L41.1 379.04 L41.2 379.22 L41.3 379.29 L41.4 385.12 L41.5 386.73 L41.6 386.03 L41.7 386.56 L41.8 384.32 L41.9 381.92 L42.0 383.40 L42.1 385.54 L42.2 384.19 L42.3 386.12 L42.4 386.56 L42.5 386.54 L42.6 386.53 L42.7 386.20 L42.8 383.50 L42.9 383.77 L43.0 383.53 L43.1 387.24 L43.2 382.52 L43.3 384.95 L43.4 385.38 L43.5 381.30 L43.6 383.10 L43.7 382.78 L43.8 384.35 L43.9 384.74 L44.0 390.60 L44.0 385.16 L44.1 385.90 L44.2 388.48 L44.3 389.05 L44.4 388.76 L44.5 386.63 L44.6 387.76 L44.7 385.92 L44.8 388.36 L44.9 388.86 L45.0 387.63 L45.1 387.95 L45.2 388.17 L45.3 387.43 L45.4 384.51 L45.5 383.27 L45.6 385.99 L45.7 384.99 L45.8 383.20 L45.9 384.40 L46.0 386.83 L46.1 384.74 L46.2 385.84 L46.3 385.53 L46.4 386.60 L46.5 386.62 L46.6 384.13 L46.7 386.87 L46.8 384.52 L46.9 382.59 L47.0 385.22 L47.1 386.07 L47.2 385.44 L47.3 383.05 L47.4 383.71 L47.5 383.71 L47.6 385.66 L47.7 387.71 L47.8 385.91 L47.9 384.81 L48.0 384.04 L48.1 386.70 L48.2 386.72 L48.3 385.70 L48.4 384.97 L48.5 386.52 L48.6 388.34 L48.7 389.56 L48.8 389.75 L48.9 389.26 L49.0 389.39 L49.1 389.01 L49.2 388.70 L49.3 388.95 L49.4 389.10 L49.5 389.68 L49.6 392.32 L49.7 392.20 L49.8 391.15 L49.9 388.86 L50.0 398.75 L50.0 391.13 L50.1 389.08 L50.2 387.08 L50.3 387.19 L50.4 391.65 L50.5 388.44 L50.6 386.03 L50.7 384.39 L50.8 382.56 L50.9 386.07 L51.0 383.53 L51.1 384.00 L51.2 384.87 L51.3 385.87 L51.4 388.43 L51.5 389.15 L51.6 387.96 L51.7 387.43 L51.8 388.15 L51.9 386.98 L52.0 386.02 L52.1 386.52 L52.2 386.09 L52.3 389.20 L52.4 388.56 L52.5 389.33 L52.6 387.72 L52.7 387.74 L52.8 388.37 L52.9 387.79 L53.0 388.31 L53.1 388.15 L53.2 390.14 L53.3 388.36 L53.4 388.77 L53.5 390.44 L53.6 389.96 L53.7 390.17 L53.8 390.54 L53.9 389.56 L54.0 385.71 L54.1 385.18 L54.2 385.86 L54.3 385.28 L54.4 384.01 L54.5 388.50 L54.6 390.55 L54.7 390.76 L54.8 388.65 L54.9 387.43 L55.0 392.00 L55.0 390.78 L55.1 390.76 L55.2 389.51 L55.3 390.23 L55.4 386.81 L55.5 386.61 L55.6 384.86 L55.7 384.47 L55.8 379.73 L55.9 381.87 L56.0 382.48 L56.1 385.23 L56.2 385.89 L56.3 386.64 L56.4 386.75 L56.5 383.30 L56.6 383.47 L56.7 384.10 L56.8 386.13 L56.9 387.14 L57.0 385.32 L57.1 385.09 L57.2 385.48 L57.3 386.54 L57.4 385.38 L57.5 382.26 L57.6 381.28 L57.7 380.76 L57.8 382.98 L57.9 383.77 L58.0 381.68 L58.1 382.94 L58.2 385.35 L58.3 385.47 L58.4 383.93 L58.5 385.52 L58.6 385.36 L58.7 383.95 L58.8 384.93 L58.9 385.15 L59.0 382.03 L59.1 382.50 L59.2 382.41 L59.3 383.40 L59.4 384.09 L59.5 382.74 L59.6 383.52 L59.7 384.78 L59.8 384.56 L59.9 384.40 L60.0 382.60 L60.1 382.40 L60.2 381.60 L60.3 381.57 L60.4 380.97 L60.5 379.27 L60.6 380.40 L60.7 379.42 L60.8 379.18 L60.9 379.38 L61.0 379.54 L61.1 379.09 L61.2 382.25 L61.3 379.20 L61.4 379.51 L61.5 379.74 L61.6 379.38 L61.7 379.13 L61.8 383.93 L61.9 384.50 L62.0 384.63 L62.1 385.73 L62.2 386.76 L62.3 387.48 L62.4 387.52 L62.5 386.94 L62.6 386.85 L62.7 387.83 L62.8 387.79 L62.9 387.98 L63.0 385.71 L63.1 384.31 L63.2 381.66 L63.3 381.70 L63.4 384.93 L63.5 387.15 L63.6 387.09 L63.7 386.70 L63.8 388.05 L63.9 389.22 L64.0 388.06 L64.1 388.00 L64.2 388.97 L64.3 389.40 L64.4 388.91 L64.5 389.33 L64.6 389.77 L64.7 389.02 L64.8 386.74 L64.9 385.65 L65.0 390.60 L65.0 387.16 L65.1 389.48 L65.2 389.51 L65.3 388.71 L65.4 386.07 L65.5 387.35 L65.6 385.83 L65.7 385.58 L65.8 387.79 L65.9 386.79 L66.0 386.17 L66.1 386.78 L66.2 385.70 L66.3 386.84 L66.4 388.55 L66.5 387.88 L66.6 387.30 L66.7 385.27 L66.8 385.33 L66.9 384.52 L67.0 379.29 L67.1 379.02 L67.2 380.56 L67.3 380.09 L67.4 379.35 L67.5 380.78 L67.6 379.36 L67.7 381.24 L67.8 383.08 L67.9 383.84 L68.0 383.38 L68.1 383.43 L68.2 386.68 L68.3 385.68 L68.4 386.45 L68.5 381.80 L68.6 379.44 L68.7 379.65 L68.8 383.15 L68.9 380.26 L69.0 383.53 L69.1 384.30 L69.2 384.03 L69.3 387.58 L69.4 387.11 L69.5 390.05 L69.6 388.23 L69.7 386.59 L69.8 386.58 L69.9 389.69 L70.0 383.75 L70.1 386.92 L70.2 386.89 L70.3 389.42 L70.4 389.07 L70.5 388.55 L70.6 384.31 L70.7 384.46 L70.8 384.89 L70.9 385.65 L71.0 386.59 L71.1 387.64 L71.2 388.78 L71.3 390.12 L71.4 391.78 L71.5 393.51 L71.6 392.27 L71.7 393.69 L71.8 394.06 L71.9 396.36 L72.0 392.00 L72.1 390.97 L72.2 390.09 L72.3 390.65 L72.4 390.36 L72.5 415.00 L72.5 391.10 L72.6 390.87 L72.7 392.26 L72.8 392.41 L72.9 391.74 L73.0 392.60 L73.1 393.05 L73.2 393.02 L73.3 394.47 L73.4 392.46 L73.5 392.36 L73.6 392.15 L73.7 392.05 L73.8 391.60 L73.9 394.57 L74.0 394.60 L74.1 397.03 L74.2 395.46 L74.3 395.58 L74.4 397.36 L74.5 397.22 L74.6 397.40 L74.7 396.07 L74.8 400.46 L74.9 400.89 L75.0 402.50 L75.0 399.97 L75.1 399.57 L75.2 396.86 L75.3 397.95 L75.4 397.17 L75.5 395.40 L75.6 395.73 L75.7 395.78 L75.8 395.03 L75.9 393.14 L76.0 391.57 L76.1 392.79 L76.2 390.92 L76.3 387.92 L76.4 389.81 L76.5 386.39 L76.6 384.83 L76.7 384.30 L76.8 384.00 L76.9 384.14 L77.0 383.66 L77.1 383.94 L77.2 382.62 L77.3 382.86 L77.4 385.45 L77.5 388.10 L77.6 389.70 L77.7 389.36 L77.8 386.74 L77.9 385.03 L78.0 387.57 L78.1 386.58 L78.2 382.97 L78.3 384.82 L78.4 386.70 L78.5 384.36 L78.6 382.58 L78.7 384.09 L78.8 380.87 L78.9 381.78 L79.0 381.29 L79.1 383.16 L79.2 381.35 L79.3 380.77 L79.4 379.45 L79.5 382.40 L79.6 383.55 L79.7 381.79 L79.8 380.78 L79.9 381.19 L80.0 380.91 L80.1 381.87 L80.2 380.00 L80.3 379.13 L80.4 382.56 L80.5 384.65 L80.6 383.12 L80.7 386.21 L80.8 386.57 L80.9 382.57 L81.0 383.18 L81.1 385.12 L81.2 385.33 L81.3 385.14 L81.4 387.52 L81.5 388.15 L81.6 383.52 L81.7 383.63 L81.8 384.05 L81.9 381.52 L82.0 384.18 L82.1 384.17 L82.2 380.95 L82.3 380.74 L82.4 379.31 L82.5 380.87 L82.6 379.30 L82.7 379.20 L82.8 382.70 L82.9 381.68 L83.0 380.76 L83.1 380.77 L83.2 379.24 L83.3 381.24 L83.4 379.17 L83.5 379.24 L83.6 384.27 L83.7 379.79 L83.8 379.53 L83.9 380.02 L84.0 380.51 L84.1 380.38 L84.2 379.07 L84.3 382.18 L84.4 383.04 L84.5 381.60 L84.6 379.15 L84.7 386.72 L84.8 388.32 L84.9 385.12 L85.0 390.05 L85.0 393.90 L85.1 392.25 L85.2 389.72 L85.3 384.42 L85.4 390.20 L85.5 389.40 L85.6 387.62 L85.7 388.06 L85.8 386.96 L85.9 389.67 L86.0 387.60 L86.1 387.23 L86.2 388.34 L86.3 389.62 L86.4 387.40 L86.5 385.77 L86.6 388.73 L86.7 388.16 L86.8 388.56 L86.9 388.68 L87.0 388.62 L87.1 386.47 L87.2 386.08 L87.3 385.61 L87.4 384.12 L87.5 387.25 L87.6 384.56 L87.7 382.99 L87.8 383.53 L87.9 385.18 L88.0 383.69 L88.1 383.34 L88.2 382.16 L88.3 380.56 L88.4 383.06 L88.5 383.12 L88.6 382.40 L88.7 383.04 L88.8 385.02 L88.9 387.96 L89.0 388.69 L89.1 389.16 L89.2 388.51 L89.3 388.49 L89.4 389.87 L89.5 386.89 L89.6 387.21 L89.7 386.40 L89.8 390.71 L89.9 390.96 L90.0 389.03 L90.1 390.41 L90.2 389.33 L90.3 390.62 L90.4 390.40 L90.5 391.62 L90.6 390.90 L90.7 388.59 L90.8 386.67 L90.9 389.44 L91.0 388.62 L91.1 389.32 L91.2 392.56 L91.3 389.70 L91.4 393.10 L91.5 392.05 L91.6 390.06 L91.7 388.24 L91.8 395.20 L91.9 394.51 L92.0 395.97 L92.0 397.00 L92.1 392.97 L92.2 394.06 L92.3 389.74 L92.4 387.94 L92.5 392.36 L92.6 395.44 L92.7 393.90 L92.8 395.24 L92.9 393.93 L93.0 389.24 L93.1 392.56 L93.2 392.73 L93.3 395.25 L93.4 392.91 L93.5 389.76 L93.6 390.21 L93.7 387.53 L93.8 388.89 L93.9 391.50 L94.0 394.63 L94.1 387.24 L94.2 386.07 L94.3 390.12 L94.4 392.91 L94.5 393.86 L94.6 390.92 L94.7 392.78 L94.8 393.89 L94.9 394.09 L95.0 393.42 L95.1 390.46 L95.2 390.35 L95.3 392.30 L95.4 391.54 L95.5 393.69 L95.6 391.25 L95.7 392.12 L95.8 390.82 L95.9 392.28 L96.0 391.63 L96.1 389.98 L96.2 389.04 L96.3 395.14 L96.4 393.35 L96.5 395.12 L96.6 393.04 L96.7 387.36 L96.8 389.12 L96.9 391.80 L97.0 391.00 L97.1 387.41 L97.2 389.77 L97.3 389.03 L97.4 393.03 L97.5 391.47 L97.6 391.86 L97.7 395.64 L97.8 393.81 L97.9 395.40 L98.0 394.50 L98.0 397.60 L98.1 391.04 L98.2 387.67 L98.3 385.69 L98.4 385.70 L98.5 390.22 L98.6 391.35 L98.7 391.56 L98.8 393.74 L98.9 391.86 L99.0 388.94 L99.1 387.92 L99.2 387.97 L99.3 384.86 L99.4 382.76 L99.5 379.85 L99.6 379.09 L99.7 381.71 L99.8 383.10 L99.9 383.82 L100.0 384.92 L100.1 383.17 L100.2 382.59 L100.3 381.68 L100.4 379.77 L100.5 379.16 L100.6 379.45 L100.7 379.65 L100.8 381.56 L100.9 382.39 L101.0 382.58 L101.1 383.68 L101.2 383.26 L101.3 381.57 L101.4 379.32 L101.5 382.05 L101.6 382.74 L101.7 379.11 L101.8 379.98 L101.9 379.33 L102.0 379.44 L102.1 380.07 L102.2 379.01 L102.3 379.68 L102.4 379.09 L102.5 380.79 L102.6 379.36 L102.7 379.54 L102.8 379.73 L102.9 383.24 L103.0 381.71 L103.1 383.64 L103.2 383.89 L103.3 384.51 L103.4 386.64 L103.5 384.96 L103.6 384.66 L103.7 384.04 L103.8 384.80 L103.9 384.84 L104.0 385.06 L104.1 386.07 L104.2 385.48 L104.3 385.52 L104.4 384.49 L104.5 385.49 L104.6 385.13 L104.7 384.03 L104.8 381.87 L104.9 380.91 L105.0 380.89 L105.1 382.44 L105.2 381.95 L105.3 380.79 L105.4 383.64 L105.5 383.65 L105.6 383.86 L105.7 382.61 L105.8 385.58 L105.9 386.35 L106.0 385.87 L106.1 385.48 L106.2 385.45 L106.3 386.21 L106.4 386.43 L106.5 385.20 L106.6 386.96 L106.7 385.35 L106.8 387.42 L106.9 386.59 L107.0 384.09 L107.1 386.03 L107.2 386.70 L107.3 385.24 L107.4 387.34 L107.5 386.98 L107.6 382.78 L107.7 385.00 L107.8 383.78 L107.9 380.64 L108.0 382.22 L108.1 379.70 L108.2 379.21 L108.3 379.65 L108.4 379.11 L108.5 379.57 L108.6 380.31 L108.7 380.11 L108.8 383.01 L108.9 385.93 L109.0 389.43 L109.1 390.26 L109.2 390.10 L109.3 388.13 L109.4 381.83 L109.5 380.09 L109.6 379.22 L109.7 379.58 L109.8 379.83 L109.9 380.96 L110.0 379.48 L110.0 392.00 L110.1 381.80 L110.2 382.60 L110.3 384.79 L110.4 387.39 L110.5 390.24 L110.6 389.01 L110.7 387.10 L110.8 387.10 L110.9 389.97 L111.0 384.10 L111.1 386.08 L111.2 384.71 L111.3 386.36 L111.4 387.26 L111.5 386.17 L111.6 384.00 L111.7 383.13 L111.8 384.40 L111.9 381.55 L112.0 381.77 L112.1 380.40 L112.2 379.02 L112.3 379.76 L112.4 379.90 L112.5 381.09 L112.6 381.80 L112.7 380.88 L112.8 380.48 L112.9 382.81 L113.0 383.08 L113.1 384.03 L113.2 383.83 L113.3 385.59 L113.4 384.83 L113.5 382.20 L113.6 384.18 L113.7 385.89 L113.8 383.37 L113.9 384.06 L114.0 384.75 L114.1 385.87 L114.2 391.24 L114.3 391.80 L114.4 391.71 L114.5 390.29 L114.6 388.40 L114.7 379.45 L114.8 379.21 L114.9 379.02 L115.0 379.98 L115.1 380.58 L115.2 382.53 L115.3 386.97 L115.4 395.26 L115.5 395.50 L115.6 392.05 L115.7 387.74 L115.8 393.00 L115.9 390.64 L116.0 390.60 L116.0 398.90 L116.1 393.29 L116.2 393.45 L116.3 393.69 L116.4 394.34 L116.5 386.66 L116.6 385.91 L116.7 388.16 L116.8 383.41 L116.9 379.25 L117.0 381.56 L117.1 380.82 L117.2 382.51 L117.3 379.82 L117.4 379.98 L117.5 379.52 L117.6 382.35 L117.7 388.17 L117.8 386.61 L117.9 389.30 L118.0 386.08 L118.1 385.09 L118.2 386.26 L118.3 384.17 L118.4 388.21 L118.5 389.12 L118.6 384.87 L118.7 380.68 L118.8 379.03 L118.9 380.87 L119.0 384.56 L119.1 383.36 L119.2 381.63 L119.3 381.83 L119.4 380.74 L119.5 384.91 L119.6 389.10 L119.7 391.20 L119.8 392.64 L119.9 392.36 L120.0 393.32 L120.1 392.35 L120.2 391.31 L120.3 391.48 L120.4 392.19 L120.5 388.50 L120.6 390.25 L120.7 389.77 L120.8 390.03 L120.9 386.31 L121.0 384.47 L121.1 385.12 L121.2 383.68 L121.3 381.69 L121.4 380.37 L121.5 381.37 L121.6 380.73 L121.7 381.80 L121.8 383.32 L121.9 380.66 L122.0 381.42 L122.1 382.52 L122.2 381.20 L122.3 381.99 L122.4 381.73 L122.5 382.59 L122.6 383.66 L122.7 384.30 L122.8 381.85 L122.9 382.83 L123.0 384.91 L123.1 383.77 L123.2 386.68 L123.3 386.21 L123.4 384.78 L123.5 383.55 L123.6 385.20 L123.7 385.85 L123.8 385.24 L123.9 384.79 L124.0 383.42 L124.0 388.25 L124.1 383.28 L124.2 383.17 L124.3 383.24 L124.4 382.82 L124.5 383.65 L124.6 383.70 L124.7 383.37 L124.8 383.87 L124.9 385.31 L125.0 384.61 L125.1 384.56 L125.2 383.72 L125.3 382.53 L125.4 381.24 L125.5 380.49 L125.6 380.17 L125.7 379.77 L125.8 379.50 L125.9 379.82 L126.0 380.93 L126.1 383.84 L126.2 383.42 L126.3 383.47 L126.4 384.41 L126.5 383.83 L126.6 385.51 L126.7 386.69 L126.8 386.84 L126.9 387.77 L127.0 386.95 L127.1 386.80 L127.2 386.37 L127.3 386.30 L127.4 384.63 L127.5 384.82 L127.6 386.49 L127.7 387.51 L127.8 389.20 L127.9 390.11 L128.0 391.52 L128.1 390.17 L128.2 389.75 L128.3 387.35 L128.4 391.30 L128.5 391.59 L128.6 391.59 L128.7 390.98 L128.8 391.98 L128.9 390.63 L129.0 392.94 L129.1 392.94 L129.2 390.22 L129.3 389.25 L129.4 391.64 L129.5 394.31 L129.6 395.75 L129.7 396.33 L129.8 396.16 L129.9 396.49 L130.0 395.42 L130.0 398.25 L130.1 394.40 L130.2 393.26 L130.3 396.03 L130.4 392.11 L130.5 393.84 L130.6 390.87 L130.7 388.22 L130.8 388.94 L130.9 388.01 L131.0 388.91 L131.1 388.20 L131.2 388.28 L131.3 387.99 L131.4 388.35 L131.5 388.17 L131.6 388.68 L131.7 387.97 L131.8 387.91 L131.9 389.99 L132.0 392.50 L132.1 391.48 L132.2 393.50 L132.3 393.86 L132.4 394.47 L132.5 394.12 L132.6 394.08 L132.7 393.07 L132.8 393.85 L132.9 392.53 L133.0 392.29 L133.1 393.19 L133.2 390.22 L133.3 391.18 L133.4 390.40 L133.5 389.93 L133.6 390.71 L133.7 390.76 L133.8 391.04 L133.9 389.84 L134.0 388.33 L134.1 387.80 L134.2 387.07 L134.3 385.39 L134.4 388.03 L134.5 391.35 L134.6 388.12 L134.7 387.33 L134.8 389.25 L134.9 384.76 L135.0 386.92 L135.0 395.75 L135.1 387.11 L135.2 388.59 L135.3 390.52 L135.4 392.90 L135.5 389.83 L135.6 390.85 L135.7 390.82 L135.8 391.73 L135.9 388.71 L136.0 386.86 L136.1 388.09 L136.2 389.81 L136.3 391.75 L136.4 388.56 L136.5 390.45 L136.6 389.57 L136.7 388.83 L136.8 388.02 L136.9 388.72 L137.0 390.00 L137.1 388.91 L137.2 390.00 L137.3 390.42 L137.4 389.55 L137.5 391.04 L137.6 389.97 L137.7 389.58 L137.8 389.79 L137.9 390.23 L138.0 389.45 L138.1 389.23 L138.2 391.13 L138.3 391.63 L138.4 392.34 L138.5 392.60 L138.6 394.07 L138.7 395.67 L138.8 395.67 L138.9 395.90 L139.0 395.11 L139.1 395.29 L139.2 394.03 L139.3 393.59 L139.4 397.89 L139.5 396.87 L139.6 398.26 L139.7 398.77 L139.8 399.00 L139.9 396.15 L140.0 396.69 L140.1 394.77 L140.2 394.07 L140.3 393.27 L140.4 393.47 L140.5 396.66 L140.6 399.63 L140.7 396.95 L140.8 396.60 L140.9 395.55 L141.0 396.11 L141.1 394.98 L141.2 395.39 L141.3 395.56 L141.4 395.19 L141.5 397.73 L141.6 397.40 L141.7 398.18 L141.8 397.41 L141.9 399.62 L142.0 402.83 L142.1 402.87 L142.2 401.77 L142.3 403.60 L142.4 404.46 L142.5 408.01 L142.6 408.91 L142.7 409.85 L142.8 413.35 L142.9 410.72 L143.0 406.09 L143.0 418.25 L143.1 406.90 L143.2 405.09 L143.3 405.92 L143.4 406.85 L143.5 406.09 L143.6 403.16 L143.7 404.45 L143.8 400.13 L143.9 398.66 L144.0 396.43 L144.1 399.81 L144.2 399.04 L144.3 398.56 L144.4 399.46 L144.5 401.39 L144.6 402.78 L144.7 402.31 L144.8 402.28 L144.9 400.12 L145.0 400.34 L145.1 398.95 L145.2 394.41 L145.3 394.11 L145.4 393.22 L145.5 393.81 L145.6 394.03 L145.7 393.35 L145.8 392.24 L145.9 393.92 L146.0 393.28 L146.1 393.51 L146.2 392.59 L146.3 390.51 L146.4 391.01 L146.5 388.36 L146.6 389.69 L146.7 390.79 L146.8 391.32 L146.9 391.29 L147.0 392.89 L147.1 393.82 L147.2 394.57 L147.3 393.87 L147.4 395.11 L147.5 396.46 L147.6 393.18 L147.7 392.84 L147.8 390.63 L147.9 390.96 L148.0 392.07 L148.1 394.11 L148.2 394.31 L148.3 391.69 L148.4 392.06 L148.5 394.06 L148.6 393.97 L148.7 394.80 L148.8 394.54 L148.9 395.09 L149.0 394.14 L149.1 393.24 L149.2 393.57 L149.3 394.01 L149.4 394.25 L149.5 396.60 L149.6 400.89 L149.7 401.21 L149.8 396.33 L149.9 394.53 L150.0 397.16 L150.1 398.11 L150.2 397.92 L150.3 396.46 L150.4 397.47 L150.5 398.14 L150.6 400.09 L150.7 402.41 L150.8 401.63 L150.9 403.27 L151.0 401.17 L151.1 402.13 L151.2 400.13 L151.3 398.96 L151.4 397.72 L151.5 395.87 L151.6 395.74 L151.7 398.49 L151.8 398.45 L151.9 401.31 L152.0 401.53 L152.1 398.62 L152.2 397.76 L152.3 400.93 L152.4 403.07 L152.5 402.88 L152.6 402.60 L152.7 404.93 L152.8 405.89 L152.9 405.53 L153.0 405.37 L153.1 405.54 L153.2 403.75 L153.3 401.16 L153.4 398.60 L153.5 403.43 L153.6 404.05 L153.7 407.48 L153.8 407.90 L153.9 408.16 L154.0 408.64 L154.1 409.44 L154.2 406.89 L154.3 407.11 L154.4 409.70 L154.5 408.03 L154.6 407.30 L154.7 408.68 L154.8 410.89 L154.9 412.23 L155.0 413.93 L155.1 414.57 L155.2 414.31 L155.3 416.89 L155.4 418.78 L155.5 414.77 L155.5 425.75 L155.6 407.06 L155.7 406.83 L155.8 402.65 L155.9 408.04 L156.0 404.72 L156.1 405.09 L156.2 405.63 L156.3 405.00 L156.4 404.94 L156.5 404.19 L156.6 403.01 L156.7 401.79 L156.8 402.51 L156.9 402.24 L157.0 402.35 L157.1 401.74 L157.2 405.41 L157.3 403.00 L157.4 401.89 L157.5 400.77 L157.6 400.63 L157.7 402.00 L157.8 400.52 L157.9 400.95 L158.0 401.76 L158.1 404.82 L158.2 403.41 L158.3 401.75 L158.4 402.98 L158.5 402.63 L158.6 401.20 L158.7 400.41 L158.8 403.08 L158.9 399.34 L159.0 398.72 L159.1 402.67 L159.2 403.50 L159.3 401.84 L159.4 400.65 L159.5 403.05 L159.6 404.11 L159.7 403.25 L159.8 402.03 L159.9 399.36 L160.0 397.07 L160.1 398.29 L160.2 399.74 L160.3 398.94 L160.4 400.80 L160.5 399.58 L160.6 400.68 L160.7 398.29 L160.8 400.49 L160.9 404.82 L161.0 406.74 L161.1 406.55 L161.2 407.52 L161.3 407.53 L161.4 407.68 L161.5 407.47 L161.6 408.41 L161.7 407.54 L161.8 407.31 L161.9 406.17 L162.0 407.76 L162.1 408.66 L162.2 409.18 L162.3 409.43 L162.4 407.30 L162.5 405.44 L162.6 409.82 L162.7 405.35 L162.8 406.96 L162.9 407.21 L163.0 408.02 L163.0 410.75 L163.1 404.53 L163.2 407.00 L163.3 407.41 L163.4 407.46 L163.5 409.35 L163.6 409.31 L163.7 409.20 L163.8 408.11 L163.9 407.76 L164.0 408.16 L164.1 407.30 L164.2 406.21 L164.3 406.16 L164.4 405.17 L164.5 405.54 L164.6 405.16 L164.7 404.40 L164.8 404.31 L164.9 402.83 L165.0 403.89 L165.1 404.28 L165.2 401.16 L165.3 400.92 L165.4 400.30 L165.5 400.74 L165.6 403.09 L165.7 402.08 L165.8 401.53 L165.9 400.03 L166.0 400.13 L166.1 400.71 L166.2 400.65 L166.3 400.38 L166.4 398.46 L166.5 397.99 L166.6 396.31 L166.7 395.48 L166.8 397.41 L166.9 397.14 L167.0 395.64 L167.1 394.10 L167.2 393.52 L167.3 393.18 L167.4 396.33 L167.5 395.95 L167.6 395.61 L167.7 394.12 L167.8 393.52 L167.9 395.03 L168.0 396.50 L168.1 396.18 L168.2 394.97 L168.3 395.99 L168.4 399.29 L168.5 396.23 L168.6 398.21 L168.7 398.11 L168.8 398.98 L168.9 398.26 L169.0 396.97 L169.1 395.92 L169.2 395.91 L169.3 396.85 L169.4 398.89 L169.5 398.07 L169.6 398.59 L169.7 395.18 L169.8 397.34 L169.9 397.90 L170.0 396.75 L170.1 398.63 L170.2 397.24 L170.3 396.76 L170.4 396.77 L170.5 396.71 L170.6 396.59 L170.7 393.49 L170.8 392.15 L170.9 392.18 L171.0 393.49 L171.1 393.55 L171.2 392.05 L171.3 392.51 L171.4 392.36 L171.5 394.28 L171.6 392.78 L171.7 394.16 L171.8 392.36 L171.9 392.33 L172.0 392.16 L172.1 394.45 L172.2 393.36 L172.3 393.16 L172.4 392.27 L172.5 392.13 L172.6 393.94 L172.7 392.97 L172.8 392.73 L172.9 392.36 L173.0 392.21 L173.1 392.81 L173.2 395.69 L173.3 398.99 L173.4 397.03 L173.5 396.85 L173.6 394.05 L173.7 393.92 L173.8 394.41 L173.9 395.81 L174.0 396.93 L174.1 395.60 L174.2 395.28 L174.3 395.81 L174.4 398.68 L174.5 396.97 L174.6 398.78 L174.7 399.43 L174.8 401.05 L174.9 398.77 L175.0 399.68 L175.1 400.59 L175.2 400.86 L175.3 401.82 L175.4 400.44 L175.5 402.81 L175.6 401.47 L175.7 401.57 L175.8 403.09 L175.9 404.07 L176.0 406.39 L176.1 406.44 L176.2 405.08 L176.3 405.76 L176.4 406.60 L176.5 404.63 L176.6 406.06 L176.7 407.84 L176.8 406.92 L176.9 408.25 L177.0 408.47 L177.1 409.76 L177.2 409.58 L177.3 411.80 L177.4 412.37 L177.5 413.18 L177.6 412.95 L177.7 413.06 L177.8 415.71 L177.9 415.17 L178.0 415.14 L178.1 421.13 L178.2 424.14 L178.3 420.70 L178.4 430.37 L178.5 433.35 L178.5 437.60 L178.6 432.53 L178.7 425.57 L178.8 413.93 L178.9 416.16 L179.0 410.87 L179.1 406.88 L179.2 408.71 L179.3 408.99 L179.4 405.55 L179.5 408.21 L179.6 406.90 L179.7 408.67 L179.8 405.51 L179.9 401.95 L180.0 400.62 L180.1 402.38 L180.2 399.94 L180.3 400.16 L180.4 402.21 L180.5 406.98 L180.6 406.37 L180.7 404.50 L180.8 403.65 L180.9 402.30 L181.0 405.06 L181.1 406.23 L181.2 404.58 L181.3 405.95 L181.4 402.27 L181.5 402.46 L181.6 402.57 L181.7 402.31 L181.8 400.98 L181.9 400.82 L182.0 401.50 L182.1 402.44 L182.2 400.95 L182.3 402.25 L182.4 404.19 L182.5 402.97 L182.6 400.83 L182.7 401.25 L182.8 403.26 L182.9 400.99 L183.0 401.12 L183.1 401.50 L183.2 407.03 L183.3 409.14 L183.4 403.11 L183.5 401.08 L183.5 423.25 L183.6 401.73 L183.7 400.94 L183.8 401.51 L183.9 402.88 L184.0 403.29 L184.1 402.10 L184.2 404.64 L184.3 406.05 L184.4 405.22 L184.5 404.77 L184.6 403.53 L184.7 401.31 L184.8 400.93 L184.9 401.10 L185.0 400.76 L185.1 400.76 L185.2 401.16 L185.3 400.16 L185.4 401.05 L185.5 399.43 L185.6 399.98 L185.7 400.71 L185.8 400.31 L185.9 400.04 L186.0 400.88 L186.1 400.50 L186.2 400.11 L186.3 401.04 L186.4 400.60 L186.5 402.67 L186.6 400.61 L186.7 399.65 L186.8 398.89 L186.9 398.81 L187.0 397.48 L187.1 400.01 L187.2 400.51 L187.3 397.22 L187.4 396.84 L187.5 397.51 L187.6 398.89 L187.7 399.02 L187.8 397.36 L187.9 398.13 L188.0 395.67 L188.1 395.44 L188.2 393.27 L188.3 395.00 L188.4 395.65 L188.5 395.45 L188.6 394.56 L188.7 393.98 L188.8 392.86 L188.9 394.21 L189.0 392.14 L189.1 392.82 L189.2 391.86 L189.3 392.55 L189.4 392.46 L189.5 390.82 L189.6 389.77 L189.7 386.79 L189.8 385.70 L189.9 385.44 L190.0 386.75 L190.1 385.83 L190.2 385.97 L190.3 385.35 L190.4 383.72 L190.5 384.40 L190.6 387.43 L190.7 388.37 L190.8 390.22 L190.9 390.49 L191.0 389.84 L191.1 388.95 L191.2 386.32 L191.3 385.35 L191.4 383.88 L191.5 384.11 L191.6 383.83 L191.7 384.15 L191.8 385.11 L191.9 388.32 L192.0 390.60 L192.1 390.40 L192.2 390.55 L192.3 391.23 L192.4 390.86 L192.5 392.18 L192.6 391.10 L192.7 390.49 L192.8 389.73 L192.9 388.59 L193.0 390.85 L193.1 389.26 L193.2 389.57 L193.3 390.02 L193.4 389.79 L193.5 389.28 L193.6 389.98 L193.7 388.74 L193.8 388.99 L193.9 391.15 L194.0 390.16 L194.1 391.98 L194.2 391.88 L194.3 391.10 L194.4 389.63 L194.5 392.29 L194.6 392.00 L194.7 391.64 L194.8 392.72 L194.9 392.34 L195.0 392.14 L195.1 392.21 L195.2 391.31 L195.3 390.29 L195.4 389.51 L195.5 389.22 L195.6 386.76 L195.7 387.32 L195.8 385.27 L195.9 386.33 L196.0 388.49 L196.1 390.27 L196.2 391.70 L196.3 390.31 L196.4 390.31 L196.5 390.05 L196.6 388.66 L196.7 388.35 L196.8 386.82 L196.9 388.85 L197.0 385.27 L197.1 385.28 L197.2 386.64 L197.3 387.44 L197.4 388.56 L197.5 386.76 L197.6 385.95 L197.7 385.63 L197.8 386.24 L197.9 386.96 L198.0 388.99 L198.1 386.84 L198.2 387.08 L198.3 388.19 L198.4 388.16 L198.5 388.22 L198.6 388.03 L198.7 387.40 L198.8 387.38 L198.9 386.29 L199.0 387.27 L199.1 387.05 L199.2 385.44 L199.3 385.23 L199.4 384.66 L199.5 383.41 L199.6 383.21 L199.7 381.92 L199.8 382.72 L199.9 382.76 L200.0 382.94 L200.1 382.85 L200.2 383.26 L200.3 382.06 L200.4 381.90 L200.5 382.07 L200.6 381.65 L200.7 381.71 L200.8 381.41 L200.9 380.96 L201.0 379.97 L201.1 379.49 L201.2 379.26 L201.3 380.98 L201.4 381.60 L201.5 382.55 L201.6 384.04 L201.7 383.56 L201.8 385.59 L201.9 382.57 L202.0 381.64 L202.1 381.90 L202.2 385.37 L202.3 387.70 L202.4 388.01 L202.5 388.31 L202.6 387.24 L202.7 386.99 L202.8 385.68 L202.9 386.01 L203.0 383.32 L203.1 382.81 L203.2 381.86 L203.3 383.25 L203.4 381.97 L203.5 383.14 L203.6 384.63 L203.7 386.14 L203.8 388.40 L203.9 386.01 L204.0 386.45 L204.1 386.42 L204.2 389.66 L204.3 388.70 L204.4 389.76 L204.5 386.73 L204.6 386.45 L204.7 385.27 L204.8 385.82 L204.9 385.02 L205.0 385.60 L205.1 386.37 L205.2 384.31 L205.3 386.36 L205.4 385.23 L205.5 390.84 L205.6 394.18 L205.7 396.27 L205.8 396.84 L205.9 396.20 L206.0 397.42 L206.0 400.00 L206.1 391.72 L206.2 393.21 L206.3 393.27 L206.4 386.68 L206.5 384.38 L206.6 387.48 L206.7 387.97 L206.8 386.55 L206.9 384.19 L207.0 384.41 L207.1 387.06 L207.2 384.15 L207.3 385.07 L207.4 388.37 L207.5 388.23 L207.6 386.82 L207.7 387.20 L207.8 387.56 L207.9 387.56 L208.0 387.02 L208.1 385.64 L208.2 386.02 L208.3 386.52 L208.4 386.71 L208.5 386.94 L208.6 386.89 L208.7 387.10 L208.8 385.06 L208.9 384.71 L209.0 384.89 L209.1 383.77 L209.2 383.28 L209.3 382.90 L209.4 383.77 L209.5 382.54 L209.6 381.71 L209.7 380.78 L209.8 380.37 L209.9 379.87 L210.0 379.65 L210.1 379.18 L210.2 379.06 L210.3 379.29 L210.4 381.10 L210.5 383.80 L210.6 382.66 L210.7 380.81 L210.8 382.23 L210.9 383.71 L211.0 382.76 L211.1 381.71 L211.2 381.56 L211.3 379.54 L211.4 380.04 L211.5 379.05 L211.6 379.44 L211.7 380.19 L211.8 380.59 L211.9 379.05 L212.0 379.16 L212.1 381.30 L212.2 379.26 L212.3 379.02 L212.4 380.78 L212.5 382.26 L212.6 382.34 L212.7 381.63 L212.8 381.92 L212.9 381.34 L213.0 381.61 L213.1 382.46 L213.2 382.46 L213.3 382.71 L213.4 382.38 L213.5 381.59 L213.6 381.34 L213.7 380.49 L213.8 380.82 L213.9 379.35 L214.0 379.12 L214.1 379.49 L214.2 379.96 L214.3 379.23 L214.4 380.36 L214.5 381.02 L214.6 381.41 L214.7 380.72 L214.8 379.38 L214.9 379.14 L215.0 379.24 L215.1 379.24 L215.2 379.16 L215.3 379.26 L215.4 380.53 L215.5 381.53 L215.6 380.49 L215.7 381.07 L215.8 380.31 L215.9 380.54 L216.0 380.73 L216.1 381.51 L216.2 382.13 L216.3 381.09 L216.4 380.98 L216.5 381.32 L216.6 381.12 L216.7 382.41 L216.8 381.16 L216.9 381.59 L217.0 381.70 L217.1 381.25 L217.2 381.13 L217.3 380.88 L217.4 381.12 L217.5 380.61 L217.6 380.34 L217.7 382.48 L217.8 382.00 L217.9 382.40 L218.0 382.86 L218.1 382.14 L218.2 382.94 L218.3 382.40 L218.4 379.96 L218.5 380.06 L218.6 379.62 L218.7 379.58 L218.8 380.50 L218.9 382.67 L219.0 383.51 L219.1 384.87 L219.2 384.67 L219.3 384.68 L219.4 384.94 L219.5 384.42 L219.6 384.84 L219.7 383.80 L219.8 383.41 L219.9 384.03 L220.0 381.05 L220.1 380.09 L220.2 379.11 L220.3 379.14 L220.4 382.50 L220.5 380.99 L220.6 380.75 L220.7 380.27 L220.8 379.05 L220.9 379.33 L221.0 381.14 L221.1 380.80 L221.2 379.55 L221.3 379.45 L221.4 379.30 L221.5 381.09 L221.6 379.36 L221.7 379.96 L221.8 379.22 L221.9 379.43 L222.0 380.29 L222.1 380.35 L222.2 382.05 L222.3 379.49 L222.4 379.42 L222.5 379.05 L222.6 379.30 L222.7 380.18 L222.8 379.88 L222.9 379.74 L223.0 381.81 L223.1 382.62 L223.2 386.27 L223.3 389.12 L223.4 389.58 L223.5 388.79 L223.6 386.74 L223.7 385.70 L223.8 387.54 L223.9 388.12 L224.0 388.18 L224.1 386.01 L224.2 385.62 L224.3 388.78 L224.4 388.33 L224.5 390.86 L224.6 386.04 L224.7 389.02 L224.8 386.81 L224.9 383.68 L225.0 383.03 L225.1 383.55 L225.2 387.66 L225.3 386.90 L225.4 386.36 L225.5 384.50 L225.6 386.82 L225.7 390.49 L225.8 393.30 L225.9 388.30 L226.0 387.49 L226.0 400.00 L226.1 388.84 L226.2 383.20 L226.3 383.03 L226.4 385.65 L226.5 389.17 L226.6 389.69 L226.7 390.80 L226.8 392.34 L226.9 392.66 L227.0 388.16 L227.1 391.87 L227.2 392.95 L227.3 392.30 L227.4 390.16 L227.5 391.33 L227.6 391.69 L227.7 392.64 L227.8 391.41 L227.9 391.53 L228.0 391.14 L228.1 392.36 L228.2 388.12 L228.3 391.36 L228.4 390.91 L228.5 391.91 L228.6 390.75 L228.7 389.35 L228.8 390.52 L228.9 388.02 L229.0 388.17 L229.1 386.51 L229.2 388.17 L229.3 390.39 L229.4 387.96 L229.5 388.22 L229.6 386.74 L229.7 384.28 L229.8 384.13 L229.9 385.70 L230.0 387.34 L230.1 386.29 L230.2 385.72 L230.3 387.72 L230.4 387.41 L230.5 389.71 L230.6 387.36 L230.7 387.87 L230.8 386.53 L230.9 385.93 L231.0 386.82 L231.1 386.16 L231.2 385.93 L231.3 386.24 L231.4 383.46 L231.5 382.39 L231.6 381.39 L231.7 380.40 L231.8 380.51 L231.9 379.44 L232.0 379.23 L232.1 382.06 L232.2 384.80 L232.3 384.12 L232.4 382.85 L232.5 379.75 L232.6 379.79 L232.7 382.71 L232.8 382.61 L232.9 380.90 L233.0 379.19 L233.1 381.45 L233.2 380.82 L233.3 381.84 L233.4 383.41 L233.5 381.76 L233.6 379.17 L233.7 379.00 L233.8 379.95 L233.9 379.54 L234.0 379.35 L234.1 380.05 L234.2 379.17 L234.3 380.37 L234.4 381.95 L234.5 379.98 L234.6 379.12 L234.7 379.15 L234.8 379.26 L234.9 379.05 L235.0 380.80 L235.1 379.14 L235.2 379.76 L235.3 379.13 L235.4 379.27 L235.5 379.53 L235.6 379.74 L235.7 379.83 L235.8 381.77 L235.9 380.39 L236.0 381.28 L236.1 379.53 L236.2 380.13 L236.3 379.72 L236.4 379.25 L236.5 379.44 L236.6 379.06 L236.7 379.13 L236.8 380.67 L236.9 381.30 L237.0 381.64 L237.1 380.80 L237.2 380.95 L237.3 381.63 L237.4 382.79 L237.5 383.43 L237.6 382.14 L237.7 381.74 L237.8 380.74 L237.9 381.74 L238.0 382.99 L238.1 382.47 L238.2 382.34 L238.3 382.32 L238.4 381.92 L238.5 381.52 L238.6 381.43 L238.7 381.67 L238.8 380.62 L238.9 380.98 L239.0 381.04 L239.1 380.80 L239.2 380.98 L239.3 380.61 L239.4 380.79 L239.5 381.91 L239.6 381.45 L239.7 382.02 L239.8 381.43 L239.9 381.15 L240.0 381.27 L240.1 380.77 L240.2 381.64 L240.3 380.33 L240.4 380.18 L240.5 380.19 L240.6 380.31 L240.7 380.14 L240.8 379.17 L240.9 379.24 L241.0 380.71 L241.1 381.37 L241.2 381.19 L241.3 379.76 L241.4 379.08 L241.5 380.03 L241.6 379.39 L241.7 379.04 L241.8 381.97 L241.9 379.03 L242.0 380.28 L242.1 379.55 L242.2 379.37 L242.3 383.06 L242.4 384.52 L242.5 385.20 L242.6 385.64 L242.7 385.31 L242.8 384.28 L242.9 382.06 L243.0 380.75 L243.0 386.80 L243.1 381.20 L243.2 381.79 L243.3 383.19 L243.4 382.88 L243.5 383.72 L243.6 383.42 L243.7 381.59 L243.8 380.71 L243.9 381.09 L244.0 380.84 L244.1 380.02 L244.2 379.93 L244.3 381.65 L244.4 380.58 L244.5 379.48 L244.6 379.53 L244.7 379.70 L244.8 381.44 L244.9 380.50 L245.0 380.44 L245.1 380.06 L245.2 380.16 L245.3 380.36 L245.4 381.50 L245.5 380.17 L245.6 379.65 L245.7 379.14 L245.8 379.04 L245.9 379.59 L246.0 379.39 L246.1 379.51 L246.2 379.50 L246.3 379.87 L246.4 380.38 L246.5 381.31 L246.6 382.89 L246.7 381.72 L246.8 381.26 L246.9 381.44 L247.0 382.00 L247.1 382.43 L247.2 382.67 L247.3 381.34 L247.4 384.05 L247.5 383.85 L247.6 384.20 L247.7 382.76 L247.8 383.06 L247.9 382.44 L248.0 383.78 L248.1 384.85 L248.2 383.84 L248.3 383.76 L248.4 383.73 L248.5 384.00 L248.6 385.86 L248.7 384.51 L248.8 383.73 L248.9 382.29 L249.0 380.04 L249.1 381.13 L249.2 379.08 L249.3 381.17 L249.4 381.72 L249.5 381.06 L249.6 382.29 L249.7 382.43 L249.8 381.06 L249.9 380.31 L250.0 383.67 L250.1 383.90 L250.2 384.38 L250.3 382.42 L250.4 386.26 L250.5 387.29 L250.6 386.49 L250.7 386.29 L250.8 385.02 L250.9 387.57 L251.0 388.32 L251.1 386.63 L251.2 385.66 L251.3 384.53 L251.4 384.76 L251.5 389.78 L251.6 389.02 L251.7 389.85 L251.8 388.80 L251.9 388.14 L252.0 389.13 L252.0 392.30 L252.1 391.06 L252.2 387.24 L252.3 385.02 L252.4 384.04 L252.5 381.59 L252.6 384.47 L252.7 385.64 L252.8 387.51 L252.9 387.90 L253.0 385.25 L253.1 386.70 L253.2 386.10 L253.3 384.53 L253.4 382.74 L253.5 380.49 L253.6 379.63 L253.7 379.94 L253.8 381.99 L253.9 380.75 L254.0 381.93 L254.1 382.38 L254.2 383.48 L254.3 383.26 L254.4 381.01 L254.5 382.72 L254.6 383.59 L254.7 381.57 L254.8 381.53 L254.9 381.12 L255.0 384.30 L255.1 384.92 L255.2 384.83 L255.3 384.26 L255.4 385.03 L255.5 385.10 L255.6 384.73 L255.7 384.13 L255.8 382.56 L255.9 379.90 L256.0 379.25 L256.1 379.53 L256.2 379.56 L256.3 380.35 L256.4 382.37 L256.5 382.51 L256.6 384.09 L256.7 383.07 L256.8 382.75 L256.9 381.94 L257.0 382.10 L257.1 381.41 L257.2 380.87 L257.3 380.82 L257.4 381.31 L257.5 379.20 L257.6 379.35 L257.7 379.39 L257.8 380.21 L257.9 379.25 L258.0 379.81 L258.1 379.04 L258.2 379.24 L258.3 379.16 L258.4 379.37 L258.5 379.09 L258.6 380.33 L258.7 380.78 L258.8 380.55 L258.9 381.53 L259.0 383.13 L259.1 383.12 L259.2 382.51 L259.3 382.74 L259.4 383.08 L259.5 381.97 L259.6 382.99 L259.7 383.65 L259.8 383.79 L259.9 382.94 L260.0 382.67 L260.1 383.32 L260.2 382.31 L260.3 381.99 L260.4 383.36 L260.5 383.68 L260.6 383.16 L260.7 381.43 L260.8 382.23 L260.9 382.79 L261.0 382.15 L261.1 383.82 L261.2 383.57 L261.3 383.54 L261.4 382.95 L261.5 382.63 L261.6 383.01 L261.7 382.95 L261.8 384.15 L261.9 383.28 L262.0 382.12 L262.1 381.40 L262.2 380.32 L262.3 380.78 L262.4 379.47 L262.5 379.19 L262.6 381.26 L262.7 380.21 L262.8 381.28 L262.9 379.24 L263.0 380.69 L263.1 379.11 L263.2 381.72 L263.3 382.33 L263.4 383.52 L263.5 382.06 L263.6 383.00 L263.7 382.28 L263.8 384.33 L263.9 383.65 L264.0 383.31 L264.1 381.89 L264.2 381.42 L264.3 383.47 L264.4 383.13 L264.5 384.32 L264.6 379.26 L264.7 382.10 L264.8 379.06 L264.9 380.53 L265.0 381.27 L265.0 393.90 L265.1 379.92 L265.2 384.66 L265.3 384.24 L265.4 383.70 L265.5 385.22 L265.6 384.42 L265.7 384.57 L265.8 385.01 L265.9 389.02 L266.0 387.83 L266.1 386.63 L266.2 386.86 L266.3 383.08 L266.4 385.85 L266.5 383.36 L266.6 382.39 L266.7 382.21 L266.8 383.00 L266.9 381.47 L267.0 380.24 L267.1 379.06 L267.2 380.35 L267.3 379.34 L267.4 380.71 L267.5 382.70 L267.6 381.35 L267.7 379.60 L267.8 381.42 L267.9 380.78 L268.0 383.10 L268.1 381.70 L268.2 382.45 L268.3 382.28 L268.4 382.60 L268.5 383.90 L268.6 384.02 L268.7 383.76 L268.8 383.50 L268.9 385.97 L269.0 386.51 L269.1 386.18 L269.2 383.71 L269.3 384.52 L269.4 383.43 L269.5 380.95 L269.6 381.02 L269.7 379.92 L269.8 380.01 L269.9 380.46 L270.0 380.17 L270.1 379.31 L270.2 379.22 L270.3 383.11 L270.4 381.83 L270.5 380.31 L270.6 379.32 L270.7 379.34 L270.8 379.06 L270.9 379.27 L271.0 379.87 L271.1 380.16 L271.2 381.51 L271.3 381.62 L271.4 382.02 L271.5 382.48 L271.6 379.01 L271.7 379.28 L271.8 379.01 L271.9 379.24 L272.0 379.45 L272.1 379.07 L272.2 380.10 L272.3 380.88 L272.4 379.21 L272.5 380.50 L272.6 379.17 L272.7 380.10 L272.8 383.04 L272.9 385.01 L273.0 383.39 L273.1 385.85 L273.2 384.25 L273.3 384.82 L273.4 385.26 L273.5 385.25 L273.6 386.02 L273.7 383.56 L273.8 383.53 L273.9 383.80 L274.0 385.24 L274.1 386.32 L274.2 387.69 L274.3 385.80 L274.4 383.38 L274.5 381.95 L274.6 382.50 L274.7 383.57 L274.8 388.25 L274.9 385.73 L275.0 383.49 L275.0 389.20 L275.1 385.39 L275.2 383.92 L275.3 383.23 L275.4 383.47 L275.5 383.52 L275.6 384.04 L275.7 383.13 L275.8 384.75 L275.9 384.18 L276.0 383.87 L276.1 382.80 L276.2 383.05 L276.3 381.71 L276.4 380.35 L276.5 381.93 L276.6 382.85 L276.7 383.55 L276.8 383.78 L276.9 382.41 L277.0 380.46 L277.1 382.25 L277.2 382.34 L277.3 383.20 L277.4 383.34 L277.5 384.54 L277.6 383.01 L277.7 384.31 L277.8 381.48 L277.9 381.90 L278.0 383.60 L278.1 384.29 L278.2 384.87 L278.3 384.05 L278.4 385.67 L278.5 386.01 L278.6 385.51 L278.7 386.58 L278.8 386.43 L278.9 385.71 L279.0 387.24 L279.1 386.61 L279.2 387.24 L279.3 387.73 L279.4 386.80 L279.5 387.18 L279.6 388.68 L279.7 388.65 L279.8 383.62 L279.9 384.73 L280.0 383.98 L280.1 383.78 L280.2 384.56 L280.3 388.59 L280.4 383.95 L280.5 382.10 L280.6 387.22 L280.7 386.02 L280.8 391.02 L280.9 388.79 L281.0 386.74 L281.1 386.46 L281.2 389.26 L281.3 391.43 L281.4 391.62 L281.5 392.74 L281.6 391.92 L281.7 388.85 L281.8 383.84 L281.9 385.28 L282.0 388.62 L282.1 390.32 L282.2 389.36 L282.3 391.53 L282.4 389.75 L282.5 386.87 L282.6 394.68 L282.7 391.48 L282.8 389.09 L282.9 389.43 L283.0 395.15 L283.1 395.41 L283.2 394.36 L283.3 394.17 L283.4 387.35 L283.5 388.78 L283.6 385.84 L283.7 385.31 L283.8 379.53 L283.9 380.02 L284.0 379.01 L284.0 401.70 L284.1 379.46 L284.2 383.33 L284.3 380.54 L284.4 380.37 L284.5 380.85 L284.6 380.06 L284.7 386.39 L284.8 387.30 L284.9 389.34 L285.0 382.82 L285.1 379.08 L285.2 381.38 L285.3 382.58 L285.4 385.75 L285.5 386.18 L285.6 387.01 L285.7 387.94 L285.8 387.40 L285.9 383.64 L286.0 385.67 L286.1 384.64 L286.2 384.39 L286.3 383.98 L286.4 385.47 L286.5 384.80 L286.6 382.07 L286.7 382.49 L286.8 384.89 L286.9 383.96 L287.0 386.82 L287.1 386.42 L287.2 387.01 L287.3 386.88 L287.4 388.19 L287.5 381.60 L287.6 380.28 L287.7 380.79 L287.8 382.52 L287.9 382.10 L288.0 380.67 L288.1 381.70 L288.2 381.53 L288.3 381.22 L288.4 380.53 L288.5 381.36 L288.6 381.41 L288.7 381.41 L288.8 380.42 L288.9 379.70 L289.0 379.36 L289.1 380.09 L289.2 379.98 L289.3 379.26 L289.4 379.45 L289.5 380.35 L289.6 381.24 L289.7 381.04 L289.8 382.21 L289.9 383.46 L290.0 380.77 L290.1 379.39 L290.2 380.45 L290.3 380.85 L290.4 381.76 L290.5 383.25 L290.6 381.85 L290.7 382.20 L290.8 383.58 L290.9 382.23 L291.0 384.16 L291.1 381.59 L291.2 381.22 L291.3 384.05 L291.4 383.54 L291.5 383.59 L291.6 383.89 L291.7 383.43 L291.8 384.19 L291.9 384.08 L292.0 383.18 L292.1 382.48 L292.2 383.13 L292.3 382.18 L292.4 380.12 L292.5 379.79 L292.6 380.35 L292.7 379.03 L292.8 379.11 L292.9 379.16 L293.0 379.30 L293.1 380.77 L293.2 379.33 L293.3 379.14 L293.4 381.20 L293.5 379.74 L293.6 379.94 L293.7 380.36 L293.8 381.41 L293.9 380.64 L294.0 381.30 L294.1 382.67 L294.2 382.58 L294.3 383.24 L294.4 382.34 L294.5 383.20 L294.6 382.94 L294.7 382.51 L294.8 382.38 L294.9 380.91 L295.0 379.43 L295.1 379.79 L295.2 379.90 L295.3 379.83 L295.4 379.19 L295.5 379.53 L295.6 379.24 L295.7 379.34 L295.8 380.56 L295.9 383.01 L296.0 383.11 L296.1 382.27 L296.2 379.80 L296.3 381.01 L296.4 381.32 L296.5 382.40 L296.6 383.69 L296.7 383.02 L296.8 383.15 L296.9 383.57 L297.0 382.44 L297.1 383.77 L297.2 383.84 L297.3 383.23 L297.4 383.40 L297.5 384.28 L297.6 384.24 L297.7 384.59 L297.8 385.35 L297.9 384.75 L298.0 384.23 L298.1 384.51 L298.2 381.44 L298.3 379.74 L298.4 379.12 L298.5 379.12 L298.6 379.06 L298.7 379.44 L298.8 380.46 L298.9 382.32 L299.0 384.97 L299.1 385.25 L299.2 386.15 L299.3 387.58 L299.4 385.03 L299.5 384.28 L299.6 385.70 L299.7 383.28 L299.8 381.29 L299.9 379.07 L300.0 380.60 L300.1 380.47 L300.2 380.81 L300.3 379.18 L300.4 379.26 L300.5 383.45 L300.6 380.10 L300.7 379.37 L300.8 381.67 L300.9 379.70 L301.0 380.03 L301.1 380.60 L301.2 379.55 L301.3 379.01 L301.4 379.13 L301.5 380.26 L301.6 381.92 L301.7 382.09 L301.8 382.14 L301.9 382.06 L302.0 382.43 L302.1 384.48 L302.2 382.73 L302.3 380.01 L302.4 381.48 L302.5 381.79 L302.6 388.20 L302.7 385.34 L302.8 386.75 L302.9 388.62 L303.0 392.30 L303.0 386.17 L303.1 385.63 L303.2 382.91 L303.3 384.32 L303.4 384.16 L303.5 384.86 L303.6 385.90 L303.7 386.34 L303.8 388.68 L303.9 388.94 L304.0 387.89 L304.1 385.92 L304.2 386.48 L304.3 383.04 L304.4 381.71 L304.5 383.54 L304.6 384.97 L304.7 386.39 L304.8 385.48 L304.9 384.94 L305.0 386.05 L305.1 385.26 L305.2 383.10 L305.3 384.45 L305.4 384.47 L305.5 384.36 L305.6 384.22 L305.7 383.37 L305.8 382.43 L305.9 381.85 L306.0 381.18 L306.1 379.28 L306.2 379.60 L306.3 379.03 L306.4 380.63 L306.5 381.70 L306.6 381.12 L306.7 380.91 L306.8 381.58 L306.9 383.26 L307.0 384.73 L307.1 385.01 L307.2 385.02 L307.3 385.31 L307.4 383.68 L307.5 384.50 L307.6 384.40 L307.7 384.00 L307.8 383.81 L307.9 382.73 L308.0 382.19 L308.1 384.45 L308.2 383.61 L308.3 381.51 L308.4 382.51 L308.5 381.90 L308.6 381.02 L308.7 383.50 L308.8 383.45 L308.9 384.51 L309.0 384.95 L309.1 387.34 L309.2 387.00 L309.3 384.26 L309.4 387.53 L309.5 386.52 L309.6 385.82 L309.7 387.36 L309.8 387.12 L309.9 386.35 L310.0 385.60 L310.1 384.98 L310.2 387.33 L310.3 387.97 L310.4 387.43 L310.5 386.95 L310.6 388.56 L310.7 386.71 L310.8 386.97 L310.9 387.93 L311.0 385.09 L311.1 384.95 L311.2 382.60 L311.3 385.44 L311.4 381.49 L311.5 380.90 L311.6 381.76 L311.7 382.45 L311.8 380.48 L311.9 382.47 L312.0 382.52 L312.1 386.25 L312.2 386.57 L312.3 388.65 L312.4 384.60 L312.5 385.20 L312.6 385.51 L312.7 383.06 L312.8 379.42 L312.9 381.62 L313.0 385.10 L313.1 383.64 L313.2 386.03 L313.3 387.81 L313.4 386.29 L313.5 384.60 L313.6 391.76 L313.7 390.76 L313.8 391.76 L313.9 390.72 L314.0 393.00 L314.0 386.70 L314.1 387.29 L314.2 386.72 L314.3 387.44 L314.4 387.17 L314.5 382.48 L314.6 381.53 L314.7 382.02 L314.8 381.22 L314.9 381.97 L315.0 382.75 L315.1 382.56 L315.2 381.65 L315.3 385.33 L315.4 385.79 L315.5 386.28 L315.6 387.09 L315.7 387.23 L315.8 383.21 L315.9 382.39 L316.0 382.90 L316.1 383.78 L316.2 383.79 L316.3 381.80 L316.4 381.31 L316.5 382.02 L316.6 382.14 L316.7 386.17 L316.8 385.57 L316.9 385.80 L317.0 385.22 L317.1 382.13 L317.2 383.47 L317.3 382.52 L317.4 384.41 L317.5 383.79 L317.6 383.35 L317.7 384.91 L317.8 384.30 L317.9 381.85 L318.0 382.57 L318.1 383.29 L318.2 383.97 L318.3 383.73 L318.4 384.23 L318.5 382.86 L318.6 382.87 L318.7 384.08 L318.8 379.26 L318.9 380.36 L319.0 382.35 L319.1 384.94 L319.2 384.41 L319.3 385.26 L319.4 385.11 L319.5 383.50 L319.6 384.14 L319.7 385.72 L319.8 387.06 L319.9 383.82 L320.0 383.56 L320.1 383.42 L320.2 383.59 L320.3 381.19 L320.4 384.74 L320.5 382.11 L320.6 380.56 L320.7 383.69 L320.8 384.24 L320.9 382.91 L321.0 381.77 L321.1 383.12 L321.2 382.06 L321.3 383.50 L321.4 384.47 L321.5 385.22 L321.6 386.68 L321.7 385.51 L321.8 382.90 L321.9 380.04 L322.0 380.23 L322.1 379.00 L322.2 382.10 L322.3 380.54 L322.4 383.63 L322.5 383.43 L322.6 383.52 L322.7 380.09 L322.8 380.18 L322.9 383.06 L323.0 380.43 L323.1 383.04 L323.2 384.66 L323.3 386.41 L323.4 384.44 L323.5 387.53 L323.6 385.23 L323.7 388.34 L323.8 386.52 L323.9 383.02 L324.0 386.15 L324.1 387.72 L324.2 387.46 L324.3 384.18 L324.4 383.80 L324.5 383.28 L324.6 385.16 L324.7 383.15 L324.8 381.30 L324.9 381.98 L325.0 382.86 L325.1 379.15 L325.2 380.44 L325.3 379.48 L325.4 379.07 L325.5 380.75 L325.6 382.56 L325.7 383.86 L325.8 387.97 L325.9 388.50 L326.0 390.75 L326.0 388.47 L326.1 388.99 L326.2 387.70 L326.3 388.91 L326.4 389.31 L326.5 387.63 L326.6 384.13 L326.7 386.24 L326.8 387.73 L326.9 386.88 L327.0 383.68 L327.1 380.44 L327.2 379.78 L327.3 380.70 L327.4 380.62 L327.5 379.10 L327.6 380.97 L327.7 379.35 L327.8 381.38 L327.9 382.84 L328.0 383.75 L328.1 381.82 L328.2 380.09 L328.3 380.36 L328.4 382.15 L328.5 380.52 L328.6 380.96 L328.7 382.35 L328.8 379.85 L328.9 382.68 L329.0 382.32 L329.1 381.60 L329.2 381.91 L329.3 381.70 L329.4 380.47 L329.5 379.76 L329.6 379.57 L329.7 379.21 L329.8 380.67 L329.9 381.57 L330.0 382.53 L330.1 380.42 L330.2 379.92 L330.3 380.69 L330.4 380.65 L330.5 379.16 L330.6 379.76 L330.7 382.29 L330.8 383.49 L330.9 383.29 L331.0 381.82 L331.1 383.01 L331.2 383.59 L331.3 383.11 L331.4 382.66 L331.5 383.50 L331.6 383.27 L331.7 382.43 L331.8 381.12 L331.9 380.74 L332.0 380.46 L332.1 379.98 L332.2 383.30 L332.3 381.91 L332.4 380.18 L332.5 379.54 L332.6 380.50 L332.7 382.46 L332.8 380.81 L332.9 380.29 L333.0 380.91 L333.1 380.28 L333.2 380.92 L333.3 380.64 L333.4 381.84 L333.5 382.02 L333.6 383.77 L333.7 382.38 L333.8 383.56 L333.9 383.14 L334.0 383.82 L334.1 383.18 L334.2 384.09 L334.3 383.30 L334.4 383.64 L334.5 382.45 L334.6 381.72 L334.7 381.20 L334.8 381.04 L334.9 382.30 L335.0 380.95 L335.1 380.87 L335.2 381.01 L335.3 381.11 L335.4 380.10 L335.5 381.78 L335.6 381.76 L335.7 380.86 L335.8 380.85 L335.9 382.33 L336.0 383.02 L336.1 384.50 L336.2 384.68 L336.3 384.17 L336.4 382.51 L336.5 381.60 L336.6 381.71 L336.7 379.94 L336.8 379.92 L336.9 380.11 L337.0 381.76 L337.1 380.56 L337.2 383.80 L337.3 385.11 L337.4 384.96 L337.5 385.50 L337.6 387.79 L337.7 388.04 L337.8 388.01 L337.9 387.70 L338.0 386.36 L338.1 387.10 L338.2 388.47 L338.3 388.69 L338.4 389.02 L338.5 388.36 L338.6 388.87 L338.7 389.81 L338.8 388.65 L338.9 389.85 L339.0 389.89 L339.1 390.84 L339.2 391.19 L339.3 391.93 L339.4 392.52 L339.5 393.71 L339.6 393.11 L339.7 393.30 L339.8 392.24 L339.9 392.68 L340.0 394.33 L340.1 394.22 L340.2 395.62 L340.3 395.24 L340.4 395.85 L340.5 396.03 L340.6 396.54 L340.7 397.07 L340.8 395.95 L340.9 396.85 L341.0 397.41 L341.1 397.26 L341.2 396.66 L341.3 397.70 L341.4 396.83 L341.5 398.29 L341.6 397.91 L341.7 398.41 L341.8 399.29 L341.9 398.37 L342.0 399.04 L342.1 399.41 L342.2 399.57 L342.3 398.90 L342.4 397.61 L342.5 396.79 L342.6 397.21 L342.7 398.33 L342.8 398.32 L342.9 400.10 L343.0 399.51 L343.1 398.77 L343.2 399.84 L343.3 400.06 L343.4 399.88 L343.5 402.08 L343.6 404.17 L343.7 402.73 L343.8 402.60 L343.9 401.89 L344.0 407.75 L344.1 407.09 L344.2 405.57 L344.3 408.95 L344.4 420.84 L344.5 432.82 L344.6 434.11 L344.7 433.56 L344.8 431.71 L344.9 438.86 L345.0 435.03 L345.1 436.82 L345.2 441.55 L345.3 440.75 L345.4 435.16 L345.5 436.94 L345.6 436.77 L345.7 437.61 L345.8 437.68 L345.9 441.26 L346.0 438.78 L346.1 439.94 L346.2 440.57 L346.3 444.88 L346.4 442.97 L346.5 446.15 L346.6 451.08 L346.7 449.17 L346.8 449.31 L346.9 453.80 L347.0 455.56 L347.1 453.84 L347.2 454.18 L347.3 453.99 L347.4 455.30 L347.5 457.58 L347.6 460.30 L347.7 458.82 L347.8 460.68 L347.9 464.73 L348.0 465.25 L348.1 480.69 L348.2 478.79 L348.3 497.00 L348.3 459.38 L348.4 469.78 L348.5 464.48 L348.6 465.92 L348.7 462.74 L348.8 466.66 L348.9 461.66 L349.0 462.11 L349.1 467.96 L349.2 466.52 L349.3 462.64 L349.4 465.64 L349.5 464.22 L349.6 463.55 L349.7 458.09 L349.8 458.69 L349.9 458.14 L350.0 459.31 L350.1 459.53 L350.2 463.38 L350.3 463.36 L350.4 461.73 L350.5 460.19 L350.6 460.65 L350.7 461.59 L350.8 458.06 L350.9 455.41 L351.0 457.55 L351.1 457.43 L351.2 460.46 L351.3 460.37 L351.4 459.04 L351.5 460.70 L351.6 461.83 L351.7 460.85 L351.8 465.89 L351.9 465.91 L352.0 467.00 L352.1 466.71 L352.2 468.42 L352.3 467.41 L352.4 467.66 L352.5 466.87 L352.6 462.37 L352.7 462.07 L352.8 466.29 L352.9 467.59 L353.0 469.23 L353.1 465.08 L353.2 458.84 L353.3 461.65 L353.4 459.84 L353.5 460.36 L353.6 462.07 L353.7 467.47 L353.8 472.40 L353.9 466.99 L354.0 465.78 L354.1 465.82 L354.2 467.94 L354.3 471.27 L354.4 471.62 L354.5 471.81 L354.6 473.97 L354.7 469.49 L354.8 469.88 L354.9 470.56 L355.0 472.11 L355.1 469.94 L355.2 468.54 L355.3 470.07 L355.4 470.23 L355.5 470.31 L355.6 485.23 L355.7 482.72 L355.8 504.00 L355.8 492.50 L355.9 487.10 L356.0 483.70 L356.1 487.75 L356.2 485.09 L356.3 492.11 L356.4 490.30 L356.5 481.92 L356.6 485.93 L356.7 475.91 L356.8 474.82 L356.9 472.46 L357.0 472.81 L357.1 472.32 L357.2 472.17 L357.3 472.14 L357.4 473.92 L357.5 472.09 L357.6 472.12 L357.7 476.42 L357.8 479.72 L357.9 478.85 L358.0 478.41 L358.1 477.00 L358.2 476.69 L358.3 474.16 L358.4 475.59 L358.5 473.99 L358.6 470.28 L358.7 471.72 L358.8 473.80 L358.9 474.83 L359.0 475.38 L359.1 475.63 L359.2 473.28 L359.3 474.95 L359.4 471.99 L359.5 472.48 L359.6 471.91 L359.7 473.26 L359.8 472.29 L359.9 471.20 L360.0 468.16 L360.1 467.92 L360.2 468.09 L360.3 470.00 L360.4 469.24 L360.5 470.29 L360.6 467.88 L360.7 465.61 L360.8 466.96 L360.9 466.52 L361.0 463.48 L361.1 461.93 L361.2 461.81 L361.3 460.64 L361.4 461.51 L361.5 460.03 L361.6 461.56 L361.7 460.71 L361.8 462.40 L361.9 463.84 L362.0 464.86 L362.1 464.04 L362.2 461.24 L362.3 462.15 L362.4 459.21 L362.5 458.15 L362.6 459.05 L362.7 459.89 L362.8 458.57 L362.9 458.66 L363.0 458.16 L363.1 457.27 L363.2 456.21 L363.3 455.73 L363.4 456.50 L363.5 454.15 L363.6 455.23 L363.7 455.44 L363.8 453.24 L363.9 453.53 L364.0 458.00 L364.0 453.19 L364.1 451.41 L364.2 452.10 L364.3 451.37 L364.4 453.05 L364.5 454.97 L364.6 455.27 L364.7 455.46 L364.8 453.41 L364.9 452.96 L365.0 454.54 L365.1 451.15 L365.2 447.78 L365.3 448.02 L365.4 447.73 L365.5 451.31 L365.6 451.55 L365.7 450.06 L365.8 446.03 L365.9 443.56 L366.0 443.72 L366.1 443.19 L366.2 443.23 L366.3 442.36 L366.4 441.90 L366.5 442.05 L366.6 444.60 L366.7 442.68 L366.8 441.28 L366.9 440.82 L367.0 440.89 L367.1 442.59 L367.2 444.20 L367.3 439.98 L367.4 440.68 L367.5 439.99 L367.6 438.94 L367.7 438.21 L367.8 437.71 L367.9 438.12 L368.0 439.11 L368.1 440.19 L368.2 438.57 L368.3 438.33 L368.4 436.66 L368.5 437.93 L368.6 437.77 L368.7 435.32 L368.8 436.85 L368.9 439.37 L369.0 436.18 L369.1 438.86 L369.2 439.27 L369.3 438.66 L369.4 434.54 L369.5 432.17 L369.6 431.68 L369.7 432.82 L369.8 432.40 L369.9 432.49 L370.0 432.43 L370.1 432.80 L370.2 431.85 L370.3 433.58 L370.4 429.51 L370.5 427.77 L370.6 427.42 L370.7 427.17 L370.8 428.91 L370.9 427.81 L371.0 425.79 L371.1 425.16 L371.2 424.72 L371.3 424.43 L371.4 423.87 L371.5 423.38 L371.6 424.13 L371.7 423.55 L371.8 423.69 L371.9 423.20 L372.0 424.57 L372.1 424.23 L372.2 424.23 L372.3 425.39 L372.4 425.22 L372.5 424.75 L372.6 423.11 L372.7 420.66 L372.8 424.37 L372.9 421.71 L373.0 420.17 L373.1 417.58 L373.2 417.70 L373.3 417.33 L373.4 415.12 L373.5 416.63 L373.6 415.46 L373.7 416.98 L373.8 418.17 L373.9 417.75 L374.0 418.98 L374.1 417.07 L374.2 416.58 L374.3 415.74 L374.4 415.44 L374.5 415.80 L374.6 415.51 L374.7 414.21 L374.8 414.74 L374.9 413.55 L375.0 414.33 L375.1 412.31 L375.2 409.83 L375.3 413.04 L375.4 410.29 L375.5 411.08 L375.6 410.03 L375.7 410.64 L375.8 410.48 L375.9 409.69 L376.0 408.97 L376.1 406.95 L376.2 407.16 L376.3 407.61 L376.4 404.85 L376.5 401.04 L376.6 405.30 L376.7 404.38 L376.8 402.16 L376.9 400.10 L377.0 400.78 L377.1 402.41 L377.2 400.70 L377.3 399.90 L377.4 400.53 L377.5 399.45 L377.6 399.71 L377.7 400.11 L377.8 401.09 L377.9 400.96 L378.0 400.87 L378.1 399.54 L378.2 396.91 L378.3 396.72 L378.4 394.81 L378.5 394.04 L378.6 393.69 L378.7 393.58 L378.8 395.39 L378.9 395.99 L379.0 396.11 L379.1 399.15 L379.2 399.03 L379.3 398.11 L379.4 397.89 L379.5 398.49 L379.6 396.27 L379.7 396.35 L379.8 394.42 L379.9 397.20 L380.0 397.46 L380.1 399.23 L380.2 400.29 L380.3 398.35 L380.4 393.31 L380.5 393.50 L380.6 392.56 L380.7 391.91 L380.8 393.26 L380.9 394.07 L381.0 405.00 L381.0 393.80 L381.1 394.66 L381.2 392.78 L381.3 390.55 L381.4 390.39 L381.5 392.99 L381.6 394.27 L381.7 393.26 L381.8 393.88 L381.9 394.79 L382.0 392.44 L382.1 397.00 L382.2 397.09 L382.3 394.91 L382.4 395.87 L382.5 397.28 L382.6 403.14 L382.7 404.05 L382.8 403.11 L382.9 401.40 L383.0 412.00 L383.0 400.62 L383.1 397.95 L383.2 392.52 L383.3 391.55 L383.4 395.90 L383.5 397.97 L383.6 395.23 L383.7 390.02 L383.8 390.79 L383.9 392.32 L384.0 387.64 L384.1 388.80 L384.2 390.76 L384.3 390.20 L384.4 391.39 L384.5 391.18 L384.6 389.96 L384.7 390.55 L384.8 390.32 L384.9 391.47 L385.0 390.23 L385.1 389.79 L385.2 389.16 L385.3 390.41 L385.4 390.31 L385.5 389.41 L385.6 388.31 L385.7 386.20 L385.8 386.35 L385.9 386.66 L386.0 381.08 L386.1 381.15 L386.2 381.80 L386.3 381.32 L386.4 380.46 L386.5 380.38 L386.6 381.12 L386.7 383.11 L386.8 380.11 L386.9 380.08 L387.0 379.11 L387.1 382.30 L387.2 382.77 L387.3 381.28 L387.4 382.13 L387.5 383.07 L387.6 384.09 L387.7 383.63 L387.8 382.90 L387.9 381.38 L388.0 381.58 L388.1 381.85 L388.2 381.67 L388.3 379.49 L388.4 380.70 L388.5 381.90 L388.6 384.42 L388.7 385.59 L388.8 385.59 L388.9 383.88 L389.0 383.41 L389.1 381.43 L389.2 381.20 L389.3 379.36 L389.4 382.63 L389.5 382.46 L389.6 384.06 L389.7 384.34 L389.8 383.63 L389.9 379.52 L390.0 379.13 L390.1 380.21 L390.2 385.12 L390.3 382.32 L390.4 385.86 L390.5 388.90 L390.6 389.62 L390.7 390.24 L390.8 393.74 L390.9 395.10 L391.0 402.00 L391.0 400.26 L391.1 393.34 L391.2 390.91 L391.3 396.51 L391.4 397.58 L391.5 392.25 L391.6 389.22 L391.7 389.52 L391.8 389.63 L391.9 390.02 L392.0 389.06 L392.1 389.20 L392.2 389.92 L392.3 389.90 L392.4 389.51 L392.5 391.76 L392.6 389.80 L392.7 389.93 L392.8 390.55 L392.9 392.57 L393.0 390.18 L393.1 389.83 L393.2 389.69 L393.3 391.46 L393.4 392.75 L393.5 396.24 L393.6 395.22 L393.7 401.24 L393.8 399.26 L393.9 392.42 L394.0 405.75 L394.0 389.11 L394.1 388.38 L394.2 392.44 L394.3 389.56 L394.4 386.65 L394.5 388.61 L394.6 382.96 L394.7 386.28 L394.8 387.66 L394.9 383.05 L395.0 382.37 L395.1 379.95 L395.2 379.58 L395.3 380.82 L395.4 379.94 L395.5 382.89 L395.6 382.97 L395.7 379.19 L395.8 379.96 L395.9 381.88 L396.0 382.56 L396.1 379.28 L396.2 379.29 L396.3 379.71 L396.4 379.28 L396.5 379.34 L396.6 381.43 L396.7 382.25 L396.8 387.47 L396.9 388.19 L397.0 384.84 L397.1 384.20 L397.2 387.51 L397.3 386.42 L397.4 386.35 L397.5 387.71 L397.6 385.42 L397.7 387.18 L397.8 386.65 L397.9 384.33 L398.0 383.23 L398.1 384.07 L398.2 381.35 L398.3 381.55 L398.4 383.92 L398.5 381.93 L398.6 382.95 L398.7 381.67 L398.8 380.55 L398.9 381.15 L399.0 381.98 L399.1 381.87 L399.2 382.52 L399.3 383.48 L399.4 385.55 L399.5 384.13 L399.6 382.69 L399.7 385.20 L399.8 385.77 L399.9 384.66 L400.0 385.52 L400.1 384.68 L400.2 384.06 L400.3 384.59 L400.4 385.93 L400.5 384.83 L400.6 383.03 L400.7 384.36 L400.8 384.30 L400.9 384.60 L401.0 383.28 L401.1 384.35 L401.2 385.96 L401.3 385.97 L401.4 385.98 L401.5 384.30 L401.6 383.20 L401.7 380.94 L401.8 381.19 L401.9 381.63 L402.0 380.56 L402.1 379.19 L402.2 379.03 L402.3 380.69 L402.4 384.11 L402.5 380.10 L402.6 380.73 L402.7 384.61 L402.8 382.63 L402.9 381.72 L403.0 394.50 L403.0 384.70 L403.1 385.10 L403.2 382.46 L403.3 379.53 L403.4 379.17 L403.5 379.33 L403.6 380.01 L403.7 381.97 L403.8 380.18 L403.9 381.17 L404.0 381.84 L404.1 381.33 L404.2 382.63 L404.3 382.45 L404.4 383.15 L404.5 382.08 L404.6 380.71 L404.7 379.96 L404.8 382.69 L404.9 383.21 L405.0 383.48 L405.1 382.26 L405.2 382.42 L405.3 380.80 L405.4 381.24 L405.5 381.17 L405.6 380.48 L405.7 381.09 L405.8 379.61 L405.9 379.21 L406.0 380.07 L406.1 379.01 L406.2 379.41 L406.3 380.76 L406.4 381.44 L406.5 381.92 L406.6 381.89 L406.7 380.70 L406.8 381.17 L406.9 381.14 L407.0 380.44 L407.1 380.63 L407.2 381.10 L407.3 381.10 L407.4 381.91 L407.5 382.37 L407.6 381.20 L407.7 381.67 L407.8 381.25 L407.9 382.71 L408.0 379.85 L408.1 379.63 L408.2 380.26 L408.3 381.29 L408.4 380.34 L408.5 380.40 L408.6 380.83 L408.7 380.34 L408.8 380.99 L408.9 380.37 L409.0 379.74 L409.1 380.87 L409.2 380.18 L409.3 379.93 L409.4 381.87 L409.5 382.92 L409.6 382.49 L409.7 382.70 L409.8 381.99 L409.9 381.03 L410.0 380.65 L410.1 381.42 L410.2 381.95 L410.3 381.29 L410.4 379.21 L410.5 380.58 L410.6 379.98 L410.7 380.91 L410.8 381.86 L410.9 383.36 L411.0 382.73 L411.1 381.63 L411.2 380.94 L411.3 381.55 L411.4 381.99 L411.5 380.60 L411.6 381.37 L411.7 380.26 L411.8 380.34 L411.9 380.10 L412.0 380.96 L412.1 384.93 L412.2 383.94 L412.3 381.75 L412.4 379.98 L412.5 380.16 L412.6 380.65 L412.7 381.80 L412.8 380.22 L412.9 379.25 L413.0 388.25 L413.0 379.29 L413.1 382.09 L413.2 383.71 L413.3 385.44 L413.4 386.21 L413.5 386.64 L413.6 385.49 L413.7 386.71 L413.8 386.02 L413.9 386.30 L414.0 385.36 L414.1 384.54 L414.2 383.50 L414.3 385.51 L414.4 383.25 L414.5 382.54 L414.6 382.81 L414.7 380.89 L414.8 381.17 L414.9 382.64 L415.0 383.38 L415.1 381.72 L415.2 381.69 L415.3 380.43 L415.4 379.50 L415.5 380.63 L415.6 381.40 L415.7 379.82 L415.8 381.13 L415.9 382.06 L416.0 383.99 L416.1 384.24 L416.2 383.03 L416.3 382.74 L416.4 382.53 L416.5 385.06 L416.6 384.43 L416.7 384.21 L416.8 383.98 L416.9 383.98 L417.0 385.23 L417.1 384.19 L417.2 385.36 L417.3 383.23 L417.4 380.12 L417.5 379.59 L417.6 380.81 L417.7 384.49 L417.8 384.30 L417.9 384.69 L418.0 384.35 L418.1 385.02 L418.2 387.53 L418.3 388.25 L418.4 388.37 L418.5 388.76 L418.6 388.26 L418.7 388.96 L418.8 386.18 L418.9 383.81 L419.0 388.79 L419.1 383.46 L419.2 379.52 L419.3 381.40 L419.4 380.47 L419.5 386.52 L419.6 388.16 L419.7 384.08 L419.8 384.38 L419.9 385.71 L420.0 389.01 L420.1 387.38 L420.2 382.94 L420.3 379.19 L420.4 382.54 L420.5 386.71 L420.6 381.19 L420.7 382.81 L420.8 380.87 L420.9 381.82 L421.0 384.93 L421.1 384.33 L421.2 384.33 L421.3 379.49 L421.4 379.97 L421.5 386.48 L421.6 384.38 L421.7 386.42 L421.8 388.75 L421.9 399.26 L422.0 395.53 L422.1 400.14 L422.2 399.55 L422.3 400.06 L422.4 400.75 L422.5 407.00 L422.5 391.95 L422.6 395.24 L422.7 391.09 L422.8 391.95 L422.9 396.05 L423.0 394.48 L423.1 386.83 L423.2 381.99 L423.3 385.31 L423.4 390.87 L423.5 398.25 L423.6 392.31 L423.7 392.50 L423.8 392.39 L423.9 389.26 L424.0 388.20 L424.1 384.85 L424.2 385.60 L424.3 384.19 L424.4 383.50 L424.5 388.91 L424.6 385.25 L424.7 385.78 L424.8 383.54 L424.9 382.47 L425.0 382.50 L425.1 382.85 L425.2 383.99 L425.3 381.31 L425.4 384.06 L425.5 379.85 L425.6 379.98 L425.7 379.60 L425.8 384.95 L425.9 390.12 L426.0 387.93 L426.1 396.10 L426.2 397.44 L426.3 390.94 L426.4 392.87 L426.5 388.48 L426.6 383.42 L426.7 380.61 L426.8 381.86 L426.9 384.30 L427.0 403.25 L427.0 379.70 L427.1 383.12 L427.2 385.24 L427.3 387.83 L427.4 390.56 L427.5 386.99 L427.6 388.40 L427.7 390.20 L427.8 387.49 L427.9 386.08 L428.0 381.34 L428.1 382.24 L428.2 379.15 L428.3 380.98 L428.4 381.47 L428.5 381.10 L428.6 383.09 L428.7 382.21 L428.8 386.92 L428.9 387.61 L429.0 384.19 L429.1 382.90 L429.2 384.01 L429.3 388.83 L429.4 387.24 L429.5 391.57 L429.6 391.97 L429.7 390.36 L429.8 388.57 L429.9 386.20 L430.0 385.15 L430.1 385.41 L430.2 382.48 L430.3 379.06 L430.4 381.79 L430.5 385.52 L430.6 385.48 L430.7 384.02 L430.8 387.96 L430.9 381.92 L431.0 397.00 L431.0 384.78 L431.1 385.53 L431.2 387.62 L431.3 388.57 L431.4 391.33 L431.5 392.52 L431.6 391.74 L431.7 392.09 L431.8 388.68 L431.9 388.78 L432.0 389.22 L432.1 384.71 L432.2 385.74 L432.3 386.46 L432.4 387.97 L432.5 387.45 L432.6 387.74 L432.7 387.12 L432.8 387.48 L432.9 381.26 L433.0 381.30 L433.1 381.75 L433.2 381.82 L433.3 380.22 L433.4 381.69 L433.5 381.06 L433.6 380.87 L433.7 381.44 L433.8 383.11 L433.9 382.45 L434.0 380.96 L434.1 381.54 L434.2 381.84 L434.3 379.22 L434.4 379.15 L434.5 379.41 L434.6 379.54 L434.7 381.19 L434.8 379.59 L434.9 380.72 L435.0 379.44 L435.1 379.03 L435.2 379.20 L435.3 379.03 L435.4 379.63 L435.5 379.04 L435.6 380.14 L435.7 380.72 L435.8 383.02 L435.9 380.78 L436.0 382.32 L436.1 382.43 L436.2 380.95 L436.3 379.38 L436.4 379.03 L436.5 379.27 L436.6 379.06 L436.7 380.96 L436.8 380.90 L436.9 380.14 L437.0 379.10 L437.1 379.36 L437.2 379.33 L437.3 379.23 L437.4 379.21 L437.5 379.75 L437.6 379.03 L437.7 379.15 L437.8 380.65 L437.9 382.16 L438.0 381.63 L438.1 384.01 L438.2 383.35 L438.3 384.95 L438.4 385.10 L438.5 384.34 L438.6 384.21 L438.7 383.61 L438.8 383.87 L438.9 383.69 L439.0 383.42 L439.1 381.98 L439.2 382.66 L439.3 384.03 L439.4 382.40 L439.5 382.40 L439.6 383.78 L439.7 385.06 L439.8 383.69 L439.9 385.47 L440.0 384.10 L440.1 385.32 L440.2 385.94 L440.3 383.95 L440.4 382.89 L440.5 385.32 L440.6 386.26 L440.7 384.61 L440.8 384.70 L440.9 383.14 L441.0 383.69 L441.1 384.14 L441.2 380.15 L441.3 381.71 L441.4 382.54 L441.5 384.96 L441.6 385.15 L441.7 383.34 L441.8 385.08 L441.9 387.50 L442.0 382.34 L442.1 385.13 L442.2 386.67 L442.3 385.54 L442.4 383.09 L442.5 382.20 L442.6 385.21 L442.7 385.90 L442.8 387.98 L442.9 386.74 L443.0 382.92 L443.1 380.74 L443.2 387.17 L443.3 389.84 L443.4 391.79 L443.5 393.34 L443.6 393.04 L443.7 392.27 L443.8 390.94 L443.9 392.08 L444.0 391.37 L444.1 391.39 L444.2 392.73 L444.3 394.62 L444.4 395.77 L444.5 395.90 L444.6 395.51 L444.7 393.66 L444.8 395.58 L444.9 393.40 L445.0 398.25 L445.0 390.72 L445.1 391.75 L445.2 391.66 L445.3 394.35 L445.4 392.48 L445.5 393.56 L445.6 390.72 L445.7 394.75 L445.8 390.29 L445.9 392.15 L446.0 392.45 L446.1 390.73 L446.2 391.67 L446.3 392.55 L446.4 388.02 L446.5 385.34 L446.6 384.60 L446.7 387.41 L446.8 388.06 L446.9 390.00 L447.0 388.76 L447.1 388.58 L447.2 387.62 L447.3 388.97 L447.4 387.95 L447.5 386.86 L447.6 387.32 L447.7 384.67 L447.8 384.63 L447.9 385.41 L448.0 382.88 L448.1 382.68 L448.2 382.27 L448.3 380.51 L448.4 379.48 L448.5 381.53 L448.6 380.82 L448.7 385.43 L448.8 384.28 L448.9 381.09 L449.0 382.18 L449.1 381.70 L449.2 382.42 L449.3 380.54 L449.4 381.89 L449.5 384.29 L449.6 382.61 L449.7 380.66 L449.8 380.20 L449.9 380.05 L450.0 380.52 L450.1 380.03 L450.2 379.99 L450.3 381.49 L450.4 381.83 L450.5 382.82 L450.6 382.57 L450.7 382.01 L450.8 381.67 L450.9 381.21 L451.0 379.83 L451.1 380.07 L451.2 379.99 L451.3 379.78 L451.4 380.61 L451.5 382.60 L451.6 381.76 L451.7 382.20 L451.8 381.19 L451.9 381.98 L452.0 381.78 L452.1 380.58 L452.2 379.77 L452.3 380.32 L452.4 379.85 L452.5 379.82 L452.6 381.47 L452.7 380.83 L452.8 381.10 L452.9 379.10 L453.0 379.29 L453.1 379.62 L453.2 379.77 L453.3 381.04 L453.4 380.74 L453.5 379.01 L453.6 379.97 L453.7 379.16 L453.8 379.07 L453.9 380.88 L454.0 380.10 L454.1 380.34 L454.2 379.10 L454.3 380.73 L454.4 382.08 L454.5 380.18 L454.6 379.92 L454.7 379.34 L454.8 380.45 L454.9 382.07 L455.0 382.46 L455.1 383.83 L455.2 384.58 L455.3 385.16 L455.4 384.94 L455.5 383.82 L455.6 384.74 L455.7 383.51 L455.8 384.44 L455.9 383.24 L456.0 383.11 L456.1 385.18 L456.2 387.44 L456.3 387.71 L456.4 387.55 L456.5 387.88 L456.6 389.40 L456.7 387.69 L456.8 387.28 L456.9 387.39 L457.0 387.74 L457.1 389.85 L457.2 391.13 L457.3 391.33 L457.4 390.37 L457.5 386.59 L457.6 384.42 L457.7 384.55 L457.8 382.79 L457.9 391.48 L458.0 395.75 L458.0 384.45 L458.1 391.52 L458.2 392.20 L458.3 390.53 L458.4 390.37 L458.5 389.35 L458.6 387.61 L458.7 382.27 L458.8 381.15 L458.9 379.28 L459.0 380.11 L459.1 379.02 L459.2 379.48 L459.3 379.23 L459.4 379.23 L459.5 380.30 L459.6 379.69 L459.7 379.53 L459.8 380.21 L459.9 379.41 L460.0 379.85 L460.1 379.43 L460.2 380.48 L460.3 379.17 L460.4 379.45 L460.5 383.12 L460.6 382.49 L460.7 383.00 L460.8 381.63 L460.9 383.83 L461.0 385.78 L461.1 384.56 L461.2 382.45 L461.3 379.33 L461.4 379.75 L461.5 379.22 L461.6 379.61 L461.7 380.29 L461.8 380.07 L461.9 380.75 L462.0 379.01 L462.1 379.46 L462.2 379.59 L462.3 381.71 L462.4 382.23 L462.5 381.76 L462.6 382.74 L462.7 383.80 L462.8 382.08 L462.9 384.73 L463.0 384.12 L463.1 383.93 L463.2 384.26 L463.3 382.40 L463.4 383.87 L463.5 383.02 L463.6 383.14 L463.7 383.46 L463.8 383.12 L463.9 383.07 L464.0 381.76 L464.1 381.87 L464.2 382.99 L464.3 382.54 L464.4 383.64 L464.5 381.88 L464.6 381.12 L464.7 380.69 L464.8 380.27 L464.9 381.53 L465.0 380.25 L465.1 381.36 L465.2 380.40 L465.3 380.47 L465.4 379.53 L465.5 379.62 L465.6 380.11 L465.7 381.44 L465.8 382.17 L465.9 382.30 L466.0 383.88 L466.1 384.49 L466.2 385.80 L466.3 383.63 L466.4 386.82 L466.5 386.10 L466.6 384.09 L466.7 382.92 L466.8 384.82 L466.9 385.00 L467.0 384.83 L467.1 387.60 L467.2 387.29 L467.3 388.28 L467.4 386.48 L467.5 388.23 L467.6 387.33 L467.7 387.88 L467.8 387.36 L467.9 383.22 L468.0 390.75 L468.0 382.38 L468.1 381.74 L468.2 379.28 L468.3 379.64 L468.4 383.53 L468.5 383.15 L468.6 387.28 L468.7 388.16 L468.8 386.92 L468.9 385.21 L469.0 388.23 L469.1 386.06 L469.2 386.91 L469.3 385.70 L469.4 383.85 L469.5 382.89 L469.6 381.96 L469.7 384.71 L469.8 383.36 L469.9 382.24 L470.0 379.11 L470.1 379.22 L470.2 379.90 L470.3 379.15 L470.4 380.39 L470.5 379.21 L470.6 381.37 L470.7 381.87 L470.8 379.10 L470.9 379.21 L471.0 382.09 L471.1 381.66 L471.2 379.02 L471.3 379.64 L471.4 379.71 L471.5 379.22 L471.6 379.78 L471.7 379.86 L471.8 379.27 L471.9 383.71 L472.0 387.59 L472.1 389.06 L472.2 388.33 L472.3 388.93 L472.4 389.39 L472.5 387.53 L472.6 386.15 L472.7 387.41 L472.8 386.48 L472.9 383.64 L473.0 381.94 L473.1 380.57 L473.2 380.58 L473.3 379.80 L473.4 381.89 L473.5 398.90 L473.5 380.90 L473.6 381.19 L473.7 385.67 L473.8 382.99 L473.9 384.84 L474.0 385.13 L474.1 383.10 L474.2 379.09 L474.3 379.37 L474.4 380.05 L474.5 380.04 L474.6 379.86 L474.7 382.72 L474.8 383.94 L474.9 383.29 L475.0 384.37 L475.1 382.42 L475.2 379.33 L475.3 379.25 L475.4 381.02 L475.5 381.72 L475.6 382.25 L475.7 382.96 L475.8 381.95 L475.9 384.31 L476.0 383.33 L476.1 382.87 L476.2 383.42 L476.3 381.56 L476.4 383.39 L476.5 385.58 L476.6 385.84 L476.7 384.66 L476.8 385.47 L476.9 384.24 L477.0 384.12 L477.1 384.06 L477.2 385.82 L477.3 383.54 L477.4 385.51 L477.5 385.26 L477.6 385.37 L477.7 383.12 L477.8 385.13 L477.9 381.31 L478.0 380.06 L478.1 382.54 L478.2 383.57 L478.3 382.88 L478.4 381.95 L478.5 380.00 L478.6 381.13 L478.7 379.71 L478.8 379.65 L478.9 380.77 L479.0 380.11 L479.1 380.01 L479.2 381.93 L479.3 379.72 L479.4 379.94 L479.5 382.19 L479.6 381.86 L479.7 381.25 L479.8 381.73 L479.9 379.36 L480.0 379.27 L480.1 380.03 L480.2 379.64 L480.3 382.22 L480.4 379.59 L480.5 380.28 L480.6 380.76 L480.7 381.44 L480.8 379.69 L480.9 382.34 L481.0 382.66 L481.1 383.16 L481.2 383.15 L481.3 382.45 L481.4 382.14 L481.5 381.59 L481.6 381.69 L481.7 384.06 L481.8 385.13 L481.9 383.86 L482.0 387.00 L482.0 383.43 L482.1 383.45 L482.2 382.72 L482.3 383.63 L482.4 384.10 L482.5 381.62 L482.6 382.01 L482.7 380.20 L482.8 380.05 L482.9 379.42 L483.0 379.11 L483.1 380.03 L483.2 379.65 L483.3 381.98 L483.4 382.21 L483.5 383.32 L483.6 382.66 L483.7 385.14 L483.8 383.94 L483.9 382.64 L484.0 380.47 L484.1 382.44 L484.2 383.61 L484.3 382.95 L484.4 380.64 L484.5 379.70 L484.6 379.75 L484.7 380.71 L484.8 381.78 L484.9 382.52 L485.0 382.48 L485.1 381.80 L485.2 379.09 L485.3 380.61 L485.4 379.56 L485.5 379.79 L485.6 381.15 L485.7 379.13 L485.8 379.05 L485.9 379.59 L486.0 379.17 L486.1 379.35 L486.2 380.99 L486.3 380.22 L486.4 379.78 L486.5 381.21 L486.6 380.93 L486.7 382.25 L486.8 379.61 L486.9 380.24 L487.0 382.64 L487.1 381.04 L487.2 379.33 L487.3 379.89 L487.4 381.79 L487.5 383.96 L487.6 382.24 L487.7 380.24 L487.8 379.61 L487.9 381.75 L488.0 384.23 L488.1 384.52 L488.2 384.94 L488.3 383.66 L488.4 384.02 L488.5 383.12 L488.6 383.10 L488.7 381.55 L488.8 380.83 L488.9 381.36 L489.0 385.75 L489.0 382.07 L489.1 379.96 L489.2 383.13 L489.3 384.91 L489.4 384.90 L489.5 384.16 L489.6 382.56 L489.7 383.29 L489.8 384.15 L489.9 382.11 L490.0 381.28 L490.1 380.43 L490.2 380.80 L490.3 381.07 L490.4 379.59 L490.5 379.50 L490.6 379.70 L490.7 380.75 L490.8 379.91 L490.9 380.46 L491.0 379.93 L491.1 380.27 L491.2 381.51 L491.3 380.97 L491.4 379.97 L491.5 379.74 L491.6 379.79 L491.7 380.61 L491.8 379.64 L491.9 379.72 L492.0 380.85 L492.1 380.70 L492.2 380.78 L492.3 381.06 L492.4 381.46 L492.5 382.09 L492.6 382.39 L492.7 380.56 L492.8 380.70 L492.9 382.18 L493.0 381.12 L493.1 381.48 L493.2 381.20 L493.3 381.13 L493.4 382.27 L493.5 382.70 L493.6 382.30 L493.7 381.45 L493.8 382.79 L493.9 381.92 L494.0 381.77 L494.1 382.02 L494.2 380.78 L494.3 380.38 L494.4 380.44 L494.5 380.71 L494.6 380.49 L494.7 380.52 L494.8 380.43 L494.9 379.26 L495.0 379.17 L495.1 380.16 L495.2 380.25 L495.3 380.82 L495.4 381.47 L495.5 382.86 L495.6 381.46 L495.7 381.82 L495.8 380.88 L495.9 382.14 L496.0 381.05 L496.1 380.32 L496.2 379.50 L496.3 380.22 L496.4 381.05 L496.5 382.70 L496.6 382.11 L496.7 381.13 L496.8 380.86 L496.9 380.56 L497.0 380.26 L497.1 380.76 L497.2 380.81 L497.3 380.68 L497.4 379.22 L497.5 379.81 L497.6 380.08 L497.7 379.02 L497.8 379.02 L497.9 379.60 L498.0 379.47 L498.1 379.02 L498.2 379.01 L498.3 379.17 L498.4 379.29 L498.5 379.17 L498.6 380.03 L498.7 379.23 L498.8 379.34 L498.9 380.75 L499.0 382.07 L499.1 382.04 L499.2 381.44 L499.3 381.52 L499.4 380.60 L499.5 381.27 L499.6 381.03 L499.7 381.36 L499.8 381.45 L499.9 380.62 L500.0 380.61 L500.1 379.92 L500.2 381.03 L500.3 381.30 L500.4 381.46 L500.5 382.22 L500.6 381.90 L500.7 381.90 L500.8 381.26 L500.9 380.18 L501.0 379.68 L501.1 379.10 L501.2 379.05 L501.3 379.32 L501.4 379.68 L501.5 380.76 L501.6 379.65 L501.7 379.03 L501.8 379.37 L501.9 380.21 L502.0 380.03 L502.1 380.46 L502.2 379.60 L502.3 380.98 L502.4 380.47 L502.5 380.24 L502.6 380.24 L502.7 379.79 L502.8 379.88 L502.9 379.35 L503.0 380.14 L503.1 380.71 L503.2 379.88 L503.3 379.89 L503.4 382.10 L503.5 380.21 L503.6 379.87 L503.7 382.06 L503.8 381.54 L503.9 379.99 L504.0 380.00 L504.1 383.54 L504.2 383.82 L504.3 383.83 L504.4 383.36 L504.5 384.46 L504.6 384.95 L504.7 386.24 L504.8 386.43 L504.9 386.24 L505.0 386.64 L505.1 385.70 L505.2 385.52 L505.3 385.74 L505.4 385.61 L505.5 386.51 L505.6 387.39 L505.7 386.85 L505.8 387.45 L505.9 387.54 L506.0 387.47 L506.1 386.71 L506.2 385.50 L506.3 385.98 L506.4 383.29 L506.5 382.94 L506.6 382.81 L506.7 381.39 L506.8 384.26 L506.9 382.79 L507.0 381.01 L507.1 381.18 L507.2 381.03 L507.3 382.15 L507.4 384.36 L507.5 382.64 L507.6 386.61 L507.7 389.41 L507.8 389.78 L507.9 389.34 L508.0 388.80 L508.1 387.30 L508.2 383.09 L508.3 382.28 L508.4 381.06 L508.5 383.77 L508.6 383.11 L508.7 381.81 L508.8 381.29 L508.9 381.47 L509.0 395.75 L509.0 383.66 L509.1 383.56 L509.2 383.47 L509.3 382.80 L509.4 382.74 L509.5 384.15 L509.6 385.99 L509.7 388.24 L509.8 389.83 L509.9 390.65 L510.0 390.27 L510.1 390.77 L510.2 390.62 L510.3 389.23 L510.4 389.38 L510.5 387.46 L510.6 383.08 L510.7 383.79 L510.8 382.86 L510.9 384.15 L511.0 385.28 L511.1 385.05 L511.2 388.45 L511.3 387.82 L511.4 388.59 L511.5 388.17 L511.6 389.13 L511.7 388.86 L511.8 389.97 L511.9 387.14 L512.0 387.24 L512.1 384.37 L512.2 389.15 L512.3 391.44 L512.4 389.94 L512.5 392.58 L512.6 392.19 L512.7 389.95 L512.8 388.91 L512.9 386.42 L513.0 395.00 L513.0 386.57 L513.1 385.66 L513.2 388.04 L513.3 386.78 L513.4 387.60 L513.5 384.71 L513.6 385.50 L513.7 383.55 L513.8 383.10 L513.9 383.04 L514.0 382.22 L514.1 382.42 L514.2 384.58 L514.3 382.11 L514.4 382.10 L514.5 384.65 L514.6 389.11 L514.7 387.15 L514.8 389.31 L514.9 388.48 L515.0 387.73 L515.1 385.23 L515.2 388.91 L515.3 388.69 L515.4 386.37 L515.5 387.04 L515.6 387.35 L515.7 385.97 L515.8 387.56 L515.9 387.97 L516.0 387.65 L516.1 387.84 L516.2 385.48 L516.3 387.08 L516.4 386.80 L516.5 385.61 L516.6 387.33 L516.7 385.96 L516.8 384.86 L516.9 383.19 L517.0 384.16 L517.1 385.13 L517.2 385.12 L517.3 384.97 L517.4 384.47 L517.5 384.60 L517.6 385.10 L517.7 384.97 L517.8 386.60 L517.9 385.71 L518.0 385.50 L518.1 385.21 L518.2 384.79 L518.3 383.40 L518.4 382.73 L518.5 382.90 L518.6 381.20 L518.7 381.15 L518.8 383.53 L518.9 386.13 L519.0 385.03 L519.1 385.79 L519.2 386.00 L519.3 388.12 L519.4 386.67 L519.5 384.71 L519.6 386.67 L519.7 385.17 L519.8 381.60 L519.9 381.30 L520.0 392.00 L520.0 381.61 L520.1 382.00 L520.2 381.07 L520.3 382.73 L520.4 384.23 L520.5 385.60 L520.6 389.90 L520.7 389.03 L520.8 384.20 L520.9 384.39 L521.0 383.02 L521.1 379.81 L521.2 380.05 L521.3 379.14 L521.4 379.16 L521.5 379.27 L521.6 379.55 L521.7 379.03 L521.8 379.37 L521.9 379.14 L522.0 379.41 L522.1 381.94 L522.2 383.25 L522.3 379.29 L522.4 380.12 L522.5 380.79 L522.6 382.41 L522.7 383.49 L522.8 383.17 L522.9 381.26 L523.0 381.41 L523.1 380.10 L523.2 379.33 L523.3 379.15 L523.4 379.20 L523.5 379.28 L523.6 379.20 L523.7 379.10 L523.8 379.26 L523.9 379.29 L524.0 380.12 L524.1 380.93 L524.2 379.99 L524.3 380.54 L524.4 379.69 L524.5 379.40 L524.6 379.09 L524.7 379.83 L524.8 379.26 L524.9 381.17 L525.0 381.28 L525.1 381.34 L525.2 381.13 L525.3 380.21 L525.4 379.09 L525.5 379.55 L525.6 379.18 L525.7 379.74 L525.8 381.54 L525.9 381.65 L526.0 382.23 L526.1 382.15 L526.2 381.63 L526.3 382.04 L526.4 383.91 L526.5 383.90 L526.6 384.38 L526.7 384.01 L526.8 384.16 L526.9 384.99 L527.0 385.42 L527.1 384.71 L527.2 384.48 L527.3 385.09 L527.4 385.77 L527.5 384.49 L527.6 385.00 L527.7 384.98 L527.8 384.11 L527.9 384.52 L528.0 384.68 L528.1 384.86 L528.2 385.29 L528.3 385.77 L528.4 385.98 L528.5 385.92 L528.6 386.62 L528.7 385.84 L528.8 386.49 L528.9 387.06 L529.0 388.41 L529.1 388.11 L529.2 389.31 L529.3 390.21 L529.4 389.76 L529.5 390.28 L529.6 391.85 L529.7 391.30 L529.8 391.96 L529.9 392.59 L530.0 391.99 L530.1 393.37 L530.2 393.09 L530.3 393.85 L530.4 394.35 L530.5 393.92 L530.6 393.97 L530.7 393.18 L530.8 395.66 L530.9 394.84 L531.0 394.29 L531.1 396.11 L531.2 397.36 L531.3 397.16 L531.4 396.00 L531.5 394.88 L531.6 394.98 L531.7 395.60 L531.8 397.22 L531.9 398.81 L532.0 399.63 L532.1 400.74 L532.2 398.46 L532.3 396.24 L532.4 395.17 L532.5 395.40 L532.6 394.36 L532.7 394.58 L532.8 395.24 L532.9 394.88 L533.0 395.10 L533.1 398.44 L533.2 400.55 L533.3 400.19 L533.4 401.51 L533.5 414.50 L533.5 404.07 L533.6 404.24 L533.7 406.37 L533.8 401.59 L533.9 403.83 L534.0 400.93 L534.1 401.75 L534.2 398.87 L534.3 400.62 L534.4 401.86 L534.5 400.87 L534.6 401.70 L534.7 401.11 L534.8 402.43 L534.9 402.01 L535.0 401.42 L535.1 400.21 L535.2 399.86 L535.3 400.20 L535.4 400.78 L535.5 399.71 L535.6 398.97 L535.7 397.28 L535.8 396.09 L535.9 395.69 L536.0 396.05 L536.1 397.07 L536.2 395.97 L536.3 393.85 L536.4 396.32 L536.5 396.10 L536.6 395.21 L536.7 395.24 L536.8 394.90 L536.9 395.99 L537.0 396.82 L537.1 394.24 L537.2 393.38 L537.3 394.47 L537.4 393.85 L537.5 395.01 L537.6 392.97 L537.7 395.19 L537.8 395.41 L537.9 392.67 L538.0 394.09 L538.1 392.92 L538.2 393.61 L538.3 394.23 L538.4 395.13 L538.5 396.37 L538.6 393.99 L538.7 393.92 L538.8 393.07 L538.9 392.90 L539.0 393.61 L539.1 397.95 L539.2 398.24 L539.3 397.29 L539.4 400.86 L539.5 400.65 L539.6 400.74 L539.7 400.55 L539.8 402.15 L539.9 401.70 L540.0 400.28 L540.1 402.69 L540.2 402.77 L540.3 403.62 L540.4 404.49 L540.5 402.81 L540.6 405.15 L540.7 405.08 L540.8 404.79 L540.9 403.89 L541.0 404.07 L541.1 405.04 L541.2 405.79 L541.3 405.99 L541.4 405.03 L541.5 404.27 L541.6 405.39 L541.7 407.73 L541.8 409.57 L541.9 409.23 L542.0 411.32 L542.1 411.69 L542.2 410.29 L542.3 407.86 L542.4 410.73 L542.5 415.74 L542.6 417.13 L542.7 418.24 L542.8 419.12 L542.9 417.51 L543.0 423.25 L543.0 412.75 L543.1 413.09 L543.2 411.41 L543.3 403.19 L543.4 402.54 L543.5 403.16 L543.6 403.82 L543.7 403.57 L543.8 403.21 L543.9 405.09 L544.0 403.32 L544.1 403.60 L544.2 405.60 L544.3 407.53 L544.4 410.15 L544.5 406.69 L544.6 409.23 L544.7 410.80 L544.8 410.40 L544.9 406.95 L545.0 407.91 L545.1 409.47 L545.2 407.72 L545.3 407.47 L545.4 406.42 L545.5 404.77 L545.6 404.61 L545.7 402.77 L545.8 399.87 L545.9 398.40 L546.0 395.71 L546.1 396.87 L546.2 397.63 L546.3 397.99 L546.4 399.36 L546.5 398.01 L546.6 399.02 L546.7 397.67 L546.8 395.24 L546.9 394.59 L547.0 393.88 L547.1 393.48 L547.2 393.36 L547.3 393.81 L547.4 394.45 L547.5 393.48 L547.6 392.04 L547.7 392.81 L547.8 394.25 L547.9 395.20 L548.0 395.56 L548.1 393.04 L548.2 393.55 L548.3 392.51 L548.4 393.48 L548.5 394.72 L548.6 393.88 L548.7 392.43 L548.8 391.72 L548.9 391.96 L549.0 392.24 L549.1 390.79 L549.2 390.86 L549.3 389.62 L549.4 388.80 L549.5 389.71 L549.6 389.35 L549.7 386.90 L549.8 386.39 L549.9 387.48 L550.0 385.79 L550.1 386.87 L550.2 386.83 L550.3 385.53 L550.4 385.32 L550.5 385.81 L550.6 386.87 L550.7 385.71 L550.8 385.48 L550.9 385.69 L551.0 386.21 L551.1 387.78 L551.2 386.46 L551.3 386.52 L551.4 385.45 L551.5 385.12 L551.6 384.35 L551.7 384.09 L551.8 383.75 L551.9 383.58 L552.0 383.69 L552.1 383.50 L552.2 383.97 L552.3 384.60 L552.4 383.80 L552.5 382.77 L552.6 382.48 L552.7 382.70 L552.8 382.75 L552.9 382.73 L553.0 382.80 L553.1 384.31 L553.2 384.90 L553.3 385.80 L553.4 385.78 L553.5 385.07 L553.6 382.67 L553.7 382.20 L553.8 382.14 L553.9 380.89 L554.0 380.58 L554.1 380.70 L554.2 382.90 L554.3 382.26 L554.4 381.71 L554.5 380.58 L554.6 380.38 L554.7 379.65 L554.8 380.10 L554.9 379.28 L555.0 387.00 L555.0 381.09 L555.1 379.49 L555.2 379.37 L555.3 380.06 L555.4 380.70 L555.5 379.14 L555.6 379.42 L555.7 379.47 L555.8 381.07 L555.9 379.91 L556.0 379.36 L556.1 379.57 L556.2 380.16 L556.3 380.84 L556.4 380.37 L556.5 379.07 L556.6 379.49 L556.7 381.24 L556.8 380.93 L556.9 380.62 L557.0 380.65 L557.1 381.17 L557.2 380.83 L557.3 380.73 L557.4 380.89 L557.5 382.46 L557.6 385.37 L557.7 384.73 L557.8 386.15 L557.9 384.62 L558.0 388.25 L558.0 383.43 L558.1 383.91 L558.2 382.48 L558.3 381.47 L558.4 385.97 L558.5 385.07 L558.6 384.43 L558.7 381.05 L558.8 381.92 L558.9 382.34 L559.0 381.83 L559.1 382.75 L559.2 379.83 L559.3 382.33 L559.4 384.38 L559.5 381.45 L559.6 381.95 L559.7 383.11 L559.8 384.22 L559.9 384.45 L560.0 385.69 L560.1 386.21 L560.2 385.81 L560.3 387.23 L560.4 385.96 L560.5 385.53 L560.6 385.11 L560.7 386.95 L560.8 386.38 L560.9 384.85 L561.0 383.79 L561.1 384.25 L561.2 384.38 L561.3 384.92 L561.4 383.82 L561.5 384.41 L561.6 385.57 L561.7 387.97 L561.8 389.81 L561.9 388.17 L562.0 388.86 L562.1 387.62 L562.2 388.24 L562.3 389.33 L562.4 389.13 L562.5 385.20 L562.6 385.56 L562.7 385.90 L562.8 385.29 L562.9 386.67 L563.0 386.27 L563.1 386.05 L563.2 387.12 L563.3 386.09 L563.4 387.62 L563.5 387.00 L563.6 386.87 L563.7 388.16 L563.8 390.74 L563.9 390.35 L564.0 390.81 L564.1 390.34 L564.2 387.47 L564.3 386.89 L564.4 391.86 L564.5 397.00 L564.5 391.50 L564.6 392.92 L564.7 393.83 L564.8 395.79 L564.9 395.31 L565.0 394.54 L565.1 393.83 L565.2 392.52 L565.3 392.88 L565.4 392.46 L565.5 393.96 L565.6 392.50 L565.7 393.47 L565.8 391.30 L565.9 390.11 L566.0 390.64 L566.1 389.97 L566.2 389.94 L566.3 389.65 L566.4 387.84 L566.5 389.02 L566.6 388.90 L566.7 389.77 L566.8 388.99 L566.9 388.52 L567.0 388.05 L567.1 386.96 L567.2 388.80 L567.3 389.94 L567.4 391.15 L567.5 390.69 L567.6 390.13 L567.7 390.37 L567.8 388.29 L567.9 389.79 L568.0 389.92 L568.1 388.44 L568.2 388.81 L568.3 385.83 L568.4 386.67 L568.5 385.78 L568.6 385.28 L568.7 386.21 L568.8 387.53 L568.9 386.90 L569.0 385.51 L569.1 383.36 L569.2 381.93 L569.3 382.43 L569.4 382.57 L569.5 381.70 L569.6 381.58 L569.7 381.11 L569.8 379.74 L569.9 379.38 L570.0 380.67 L570.1 382.65 L570.2 381.91 L570.3 382.11 L570.4 380.83 L570.5 381.58 L570.6 381.47 L570.7 381.47 L570.8 382.81 L570.9 383.58 L571.0 383.71 L571.1 383.47 L571.2 383.48 L571.3 381.48 L571.4 381.89 L571.5 381.41 L571.6 382.99 L571.7 382.91 L571.8 382.05 L571.9 381.45 L572.0 382.39 L572.1 382.40 L572.2 382.40 L572.3 383.13 L572.4 382.96 L572.5 382.74 L572.6 382.56 L572.7 383.06 L572.8 382.84 L572.9 383.07 L573.0 380.61 L573.1 381.66 L573.2 381.36 L573.3 382.19 L573.4 381.66 L573.5 381.83 L573.6 380.53 L573.7 381.62 L573.8 380.77 L573.9 382.76 L574.0 383.04 L574.1 383.62 L574.2 382.66 L574.3 381.67 L574.4 382.31 L574.5 382.05 L574.6 382.08 L574.7 379.94 L574.8 379.53 L574.9 380.28 L575.0 387.00 L575.0 379.19 L575.1 379.41 L575.2 379.35 L575.3 379.77 L575.4 379.08 L575.5 379.47 L575.6 379.06 L575.7 379.60 L575.8 379.27 L575.9 379.75 L576.0 382.98 L576.1 380.46 L576.2 379.50 L576.3 379.23 L576.4 379.58 L576.5 381.08 L576.6 380.96 L576.7 380.17 L576.8 379.04 L576.9 379.90 L577.0 379.20 L577.1 380.56 L577.2 379.43 L577.3 380.00 L577.4 380.47 L577.5 380.05 L577.6 379.12 L577.7 381.44 L577.8 382.19 L577.9 382.50 L578.0 380.88 L578.1 381.15 L578.2 379.60 L578.3 379.31 L578.4 379.38 L578.5 379.42 L578.6 379.77 L578.7 379.98 L578.8 379.83 L578.9 380.01 L579.0 379.13 L579.1 379.00 L579.2 379.78 L579.3 382.00 L579.4 379.51 L579.5 381.13 L579.6 380.15 L579.7 381.51 L579.8 380.63 L579.9 380.45 L580.0 380.54 L580.1 380.50 L580.2 380.57 L580.3 381.75 L580.4 382.88 L580.5 381.84 L580.6 382.92 L580.7 383.15 L580.8 381.26 L580.9 379.76 L581.0 385.75 L581.0 381.69 L581.1 383.12 L581.2 381.77 L581.3 382.73 L581.4 381.42 L581.5 382.04 L581.6 384.74 L581.7 384.34 L581.8 383.58 L581.9 382.46 L582.0 382.16 L582.1 381.47 L582.2 383.49 L582.3 383.77 L582.4 382.86 L582.5 381.38 L582.6 381.01 L582.7 381.74 L582.8 382.75 L582.9 382.02 L583.0 382.80 L583.1 382.75 L583.2 382.39 L583.3 382.53 L583.4 382.25 L583.5 381.85 L583.6 381.77 L583.7 381.59 L583.8 381.15 L583.9 381.27 L584.0 380.97 L584.1 379.53 L584.2 379.89 L584.3 379.11 L584.4 379.26 L584.5 379.39 L584.6 380.51 L584.7 381.16 L584.8 381.43 L584.9 380.65 L585.0 380.70 L585.1 381.85 L585.2 381.54 L585.3 381.85 L585.4 380.22 L585.5 380.24 L585.6 379.36 L585.7 379.93 L585.8 380.20 L585.9 379.45 L586.0 380.52 L586.1 380.42 L586.2 381.80 L586.3 381.04 L586.4 381.83 L586.5 381.46 L586.6 381.48 L586.7 381.76 L586.8 380.71 L586.9 381.51 L587.0 381.66 L587.1 381.83 L587.2 380.52 L587.3 381.70 L587.4 380.70 L587.5 380.70 L587.6 379.66 L587.7 379.56 L587.8 379.28 L587.9 379.85 L588.0 379.84 L588.1 379.02 L588.2 379.48 L588.3 379.18 L588.4 379.80 L588.5 379.03 L588.6 379.14 L588.7 379.02 L588.8 379.04 L588.9 379.00 L589.0 379.49 L589.1 379.83 L589.2 379.98 L589.3 380.13 L589.4 379.94 L589.5 379.00 L589.6 379.07 L589.7 379.04 L589.8 379.03 L589.9 379.30 L590.0 379.04 L590.1 379.06 L590.2 379.13 L590.3 379.02 L590.4 379.04 L590.5 379.47 L590.6 380.12 L590.7 379.45 L590.8 379.88 L590.9 379.75 L591.0 379.72 L591.1 380.58 L591.2 381.15 L591.3 381.36 L591.4 380.55 L591.5 380.35 L591.6 381.19 L591.7 380.66 L591.8 380.03 L591.9 379.30 L592.0 379.53 L592.1 379.04 L592.2 381.32 L592.3 381.32 L592.4 381.42 L592.5 381.00 L592.6 381.45 L592.7 381.81 L592.8 381.55 L592.9 381.16 L593.0 383.25 L593.0 382.14 L593.1 382.18 L593.2 382.73 L593.3 382.63 L593.4 382.10 L593.5 382.38 L593.6 382.82 L593.7 382.69 L593.8 382.59 L593.9 382.37 L594.0 381.62 L594.1 381.93 L594.2 381.77 L594.3 381.83 L594.4 382.40 L594.5 381.22 L594.6 381.12 L594.7 381.07 L594.8 381.20 L594.9 382.24 L595.0 381.65 L595.1 381.70 L595.2 382.26 L595.3 380.80 L595.4 381.36 L595.5 381.86 L595.6 381.45 L595.7 381.25 L595.8 380.79 L595.9 381.60 L596.0 381.08 L596.1 380.21 L596.2 379.75 L596.3 379.34 L596.4 379.49 L596.5 379.58 L596.6 380.26 L596.7 379.20 L596.8 379.45 L596.9 379.35 L597.0 379.44 L597.1 379.15 L597.2 379.03 L597.3 379.76 L597.4 381.50 L597.5 379.76 L597.6 380.77 L597.7 379.51 L597.8 381.16 L597.9 380.80 L598.0 379.31 L598.1 379.78 L598.2 380.75 L598.3 383.98 L598.4 388.48 L598.5 391.95 L598.6 393.71 L598.7 396.41 L598.8 396.66 L598.9 398.44 L599.0 403.25 L599.0 396.37 L599.1 392.48 L599.2 395.95 L599.3 391.16 L599.4 392.19 L599.5 395.56 L599.6 396.06 L599.7 397.10 L599.8 396.92 L599.9 396.83 L600.0 393.93 L600.1 396.42 L600.2 395.85 L600.3 395.13 L600.4 395.50 L600.5 396.15 L600.6 395.65 L600.7 395.50 L600.8 396.97 L600.9 396.30 L601.0 395.66 L601.1 395.21 L601.2 395.36 L601.3 394.16 L601.4 392.57 L601.5 391.69 L601.6 390.36 L601.7 393.78 L601.8 392.60 L601.9 393.73 L602.0 398.25 L602.0 391.06 L602.1 390.77 L602.2 393.37 L602.3 393.11 L602.4 390.82 L602.5 390.47 L602.6 391.02 L602.7 390.90 L602.8 393.28 L602.9 392.75 L603.0 393.06 L603.1 394.70 L603.2 393.59 L603.3 393.82 L603.4 393.85 L603.5 392.78 L603.6 392.30 L603.7 390.78 L603.8 389.81 L603.9 390.75 L604.0 390.15 L604.1 390.27 L604.2 392.47 L604.3 392.30 L604.4 391.99 L604.5 393.70 L604.6 390.49 L604.7 390.50 L604.8 389.30 L604.9 389.65 L605.0 390.98 L605.1 391.08 L605.2 389.89 L605.3 389.58 L605.4 390.64 L605.5 391.38 L605.6 391.89 L605.7 392.01 L605.8 390.70 L605.9 390.93 L606.0 389.21 L606.1 389.21 L606.2 388.76 L606.3 389.17 L606.4 390.43 L606.5 390.42 L606.6 390.96 L606.7 390.61 L606.8 390.04 L606.9 390.37 L607.0 390.15 L607.1 389.28 L607.2 389.17 L607.3 388.97 L607.4 389.12 L607.5 389.29 L607.6 388.71 L607.7 389.03 L607.8 387.65 L607.9 388.63 L608.0 387.72 L608.1 387.91 L608.2 388.68 L608.3 388.30 L608.4 387.14 L608.5 386.34 L608.6 386.17 L608.7 386.25 L608.8 386.95 L608.9 386.61 L609.0 386.28 L609.1 386.05 L609.2 385.93 L609.3 385.17 L609.4 384.81 L609.5 384.77 L609.6 385.28 L609.7 384.86 L609.8 384.54 L609.9 385.93 L610.0 385.88 L610.1 386.24 L610.2 384.07 L610.3 384.11 L610.4 384.35 L610.5 384.53 L610.6 384.44 L610.7 384.01 L610.8 382.81 L610.9 383.34 L611.0 382.91 L611.1 382.34 L611.2 383.33 L611.3 384.16 L611.4 383.15 L611.5 383.99 L611.6 382.32 L611.7 382.44 L611.8 381.74 L611.9 381.69 L612.0 382.03 L612.1 382.54 L612.2 382.74 L612.3 382.65 L612.4 383.08 L612.5 382.19 L612.6 382.24 L612.7 381.71 L612.8 380.73 L612.9 380.66 L613.0 380.92 L613.1 381.31 L613.2 382.35 L613.3 381.79 L613.4 380.79 L613.5 380.78 L613.6 382.04 L613.7 380.58 L613.8 380.44 L613.9 380.37 L614.0 380.78 L614.1 380.49 L614.2 380.60 L614.3 381.12 L614.4 380.07 L614.5 380.08 L614.6 379.62 L614.7 379.98 L614.8 380.98 L614.9 382.15 L615.0 381.43 L615.1 381.30 L615.2 382.46 L615.3 380.58 L615.4 383.08 L615.5 381.80 L615.6 382.72 L615.7 383.14 L615.8 382.43 L615.9 382.70 L616.0 382.65 L616.1 380.77 L616.2 382.00 L616.3 383.42 L616.4 386.18 L616.5 386.01 L616.6 385.80 L616.7 386.34 L616.8 385.16 L616.9 385.99 L617.0 386.56 L617.1 386.03 L617.2 385.63 L617.3 390.36 L617.4 390.42 L617.5 390.89 L617.6 391.73 L617.7 392.57 L617.8 389.37 L617.9 391.60 L618.0 392.53 L618.1 393.49 L618.2 393.82 L618.3 394.65 L618.4 395.52 L618.5 396.12 L618.6 392.43 L618.7 396.11 L618.8 394.46 L618.9 397.24 L619.0 397.97 L619.1 398.69 L619.2 398.00 L619.3 398.01 L619.4 396.32 L619.5 395.58 L619.6 394.13 L619.7 398.09 L619.8 398.02 L619.9 397.34 L620.0 403.75 L620.0 398.28 L620.1 398.53 L620.2 398.07 L620.3 400.94 L620.4 399.14 L620.5 397.76 L620.6 398.30 L620.7 397.24 L620.8 398.01 L620.9 394.23 L621.0 392.82 L621.1 394.06 L621.2 393.11 L621.3 392.46 L621.4 392.72 L621.5 393.83 L621.6 391.41 L621.7 390.74 L621.8 391.00 L621.9 390.80 L622.0 396.75 L622.1 398.31 L622.2 399.26 L622.3 403.20 L622.4 405.81 L622.5 405.41 L622.6 409.13 L622.7 398.77 L622.8 391.92 L622.9 389.11 L623.0 421.00 L623.0 398.72 L623.1 398.11 L623.2 389.68 L623.3 387.66 L623.4 386.81 L623.5 386.74 L623.6 387.76 L623.7 392.13 L623.8 391.86 L623.9 390.68 L624.0 388.87 L624.1 391.03 L624.2 389.12 L624.3 388.23 L624.4 389.48 L624.5 388.48 L624.6 388.03 L624.7 388.34 L624.8 387.99 L624.9 386.50 L625.0 384.65 L625.1 384.79 L625.2 385.78 L625.3 385.09 L625.4 385.05 L625.5 384.01 L625.6 383.05 L625.7 383.41 L625.8 382.81 L625.9 382.13 L626.0 381.01 L626.1 380.97 L626.2 379.89 L626.3 379.15 L626.4 379.23 L626.5 379.51 L626.6 379.43 L626.7 380.05 L626.8 379.16 L626.9 379.17 L627.0 379.46 L627.1 380.81 L627.2 380.09 L627.3 380.13 L627.4 380.13 L627.5 381.68 L627.6 382.41 L627.7 381.25 L627.8 381.25 L627.9 381.55 L628.0 381.40 L628.1 381.25 L628.2 382.03 L628.3 380.99 L628.4 380.51 L628.5 381.33 L628.6 381.11 L628.7 380.64 L628.8 379.64 L628.9 380.87 L629.0 380.39 L629.1 379.35 L629.2 379.93 L629.3 380.37 L629.4 380.39 L629.5 380.66 L629.6 379.92 L629.7 379.04 L629.8 380.19 L629.9 379.69 L630.0 380.69 L630.1 380.21 L630.2 379.48 L630.3 379.48 L630.4 379.54 L630.5 380.19 L630.6 380.20 L630.7 380.28 L630.8 379.91 L630.9 380.60 L631.0 379.68 L631.1 379.06 L631.2 379.76 L631.3 380.30 L631.4 380.43 L631.5 379.97 L631.6 382.05 L631.7 382.48 L631.8 380.90 L631.9 379.85 L632.0 379.59 L632.1 379.71 L632.2 379.52 L632.3 380.48 L632.4 380.23 L632.5 380.07 L632.6 382.52 L632.7 384.90 L632.8 383.95 L632.9 383.67 L633.0 387.00 L633.0 382.69 L633.1 379.16 L633.2 380.81 L633.3 379.19 L633.4 379.57 L633.5 379.09 L633.6 379.73 L633.7 380.46 L633.8 380.08 L633.9 380.85 L634.0 382.38 L634.1 380.66 L634.2 381.22 L634.3 381.25 L634.4 379.28 L634.5 379.23 L634.6 379.50 L634.7 379.37 L634.8 380.83 L634.9 381.89 L635.0 382.32 L635.1 383.28 L635.2 383.96 L635.3 384.76 L635.4 383.27 L635.5 383.63 L635.6 381.91 L635.7 379.85 L635.8 379.96 L635.9 379.58 L636.0 380.60 L636.1 379.61 L636.2 380.84 L636.3 380.35 L636.4 381.80 L636.5 382.51 L636.6 383.75 L636.7 381.40 L636.8 379.29 L636.9 379.04 L637.0 379.21 L637.1 379.34 L637.2 379.11 L637.3 379.33 L637.4 379.10 L637.5 379.40 L637.6 379.27 L637.7 380.13 L637.8 380.27 L637.9 380.92 L638.0 379.44 L638.1 379.68 L638.2 380.53 L638.3 380.92 L638.4 381.78 L638.5 381.62 L638.6 381.75 L638.7 380.82 L638.8 381.95 L638.9 382.60 L639.0 383.88 L639.1 382.36 L639.2 384.03 L639.3 384.39 L639.4 383.32 L639.5 382.34 L639.6 381.59 L639.7 380.38 L639.8 381.19 L639.9 382.90 L640.0 383.57 L640.1 384.21 L640.2 384.40 L640.3 383.00 L640.4 381.05 L640.5 380.94 L640.6 379.79 L640.7 379.93 L640.8 379.77 L640.9 379.77 L641.0 379.66 L641.1 380.02 L641.2 382.72 L641.3 382.59 L641.4 382.13 L641.5 381.52 L641.6 382.13 L641.7 381.32 L641.8 381.92 L641.9 380.26" fill="none" stroke="#ff0000" stroke-width="1.6" stroke-linejoin="round"/>
<path d="M5.7 382.05 L6.0 390.23 L6.4 382.50 L6.7 387.49 L7.1 382.50 L7.4 387.25 L7.8 382.50 L8.1 386.06 M50.9 382.05 L51.2 389.97 L51.6 382.50 L51.9 388.48 L52.3 382.50 L52.6 388.42 L53.0 382.50 L53.3 390.22 L53.7 382.50 L54.0 390.44 M63.8 382.70 L64.2 389.14 L64.5 383.50 L64.9 389.96 L65.2 383.50 L65.6 388.26 L65.9 383.50 L66.3 388.13 M70.5 382.65 L70.8 394.40 L71.2 386.95 L71.5 397.34 L71.9 389.05 L72.2 404.40 L72.6 391.15 L72.9 407.05 L73.3 392.25 L73.6 400.19 L74.0 391.55 L74.3 399.07 L74.7 390.85 L75.0 401.11 L75.3 389.28 L75.7 397.63 L76.0 386.83 L76.4 394.48 L76.7 384.38 L77.1 391.22 M122.9 382.44 L123.3 386.70 L123.6 383.31 L124.0 387.60 L124.3 383.01 L124.7 385.64 M127.1 382.66 L127.5 388.45 L127.8 384.59 L128.2 390.30 L128.5 386.03 L128.9 394.15 L129.2 387.34 L129.6 395.87 L129.9 388.66 L130.3 397.35 L130.6 388.48 L131.0 396.20 L131.3 388.19 L131.7 395.61 L132.0 387.90 L132.4 394.25 L132.7 387.60 L133.1 392.30 L133.4 386.94 L133.8 393.19 L134.1 386.06 L134.5 394.60 L134.8 385.19 L135.2 394.54 L135.5 384.66 L135.9 390.93 L136.2 384.22 L136.6 391.24 L136.9 383.78 L137.3 389.88 L137.6 386.19 L138.0 392.12 L138.3 388.81 L138.7 395.55 L139.0 391.34 L139.4 396.22 L139.7 392.66 L140.1 399.14 L140.4 393.97 L140.8 401.80 L141.1 395.19 L141.5 404.86 L141.8 396.06 L142.2 407.73 L142.5 396.94 L142.9 415.17 L143.2 397.19 L143.6 404.39 L143.9 396.31 L144.3 401.93 L144.6 395.44 L145.0 402.52 L145.3 392.38 L145.7 396.92 L146.0 387.13 L146.4 389.93 L146.7 385.00 L147.1 393.36 L147.4 388.50 L147.8 397.88 L148.1 391.53 L148.5 400.86 L148.8 392.84 L149.2 401.74 L149.5 394.16 L149.9 400.85 L150.2 395.16 L150.6 402.84 L150.9 395.59 L151.3 403.07 L151.6 396.03 L152.0 401.93 L152.3 396.91 L152.7 405.66 L153.0 398.22 L153.4 406.53 L153.7 399.53 L154.1 409.54 L154.4 400.37 L154.8 412.32 L155.1 400.96 L155.5 421.84 L155.8 401.54 L156.2 412.43 L156.5 402.12 L156.9 409.22 L157.2 401.72 L157.6 406.90 L157.9 399.53 L158.3 406.04 L158.6 397.34 L159.0 404.74 L159.3 396.69 L159.7 404.85 L160.0 397.56 L160.4 406.81 L160.7 398.44 L161.1 408.22 L161.4 399.03 L161.8 407.59 L162.1 399.47 L162.5 408.11 L162.8 399.91 L163.2 408.94 L163.5 400.69 L163.9 408.12 L164.2 401.56 L164.6 408.19 L164.9 402.44 L165.3 406.44 L165.6 399.66 L166.0 403.82 L166.3 396.59 L166.7 400.03 L167.0 393.73 L167.4 398.94 L167.7 393.44 L168.1 399.63 L168.4 393.15 L168.8 397.65 L169.1 392.85 L169.5 399.20 L169.8 392.56 L170.2 399.08 L170.5 392.50 L170.9 399.16 L171.2 392.50 L171.6 399.65 L171.9 392.50 L172.3 398.05 L172.6 392.50 L173.0 399.97 L173.3 393.37 L173.7 401.25 L174.0 395.12 L174.4 401.44 L174.7 396.87 L175.1 403.72 L175.4 398.91 L175.8 405.30 L176.1 401.09 L176.5 407.43 L176.8 403.28 L177.2 410.64 L177.5 403.06 L177.9 414.60 L178.2 402.19 L178.6 433.23 L178.9 401.31 L179.3 412.85 L179.6 400.44 L180.0 408.43 L180.3 400.22 L180.7 408.52 L181.0 400.66 L181.4 408.08 L181.7 401.09 L182.1 407.90 L182.4 401.25 L182.8 411.09 L183.1 401.25 L183.5 421.70 L183.8 401.25 L184.2 409.49 L184.5 401.25 L184.9 405.43 L185.2 400.47 L185.6 404.97 L185.9 398.28 L186.3 401.87 L186.6 396.09 L187.0 401.50 L187.3 393.91 L187.7 398.52 L188.0 391.72 L188.4 397.08 L188.7 389.53 L189.1 394.79 L189.4 387.25 L189.8 392.25 L190.1 384.92 L190.5 389.18 L190.8 383.92 L191.2 390.58 L191.5 384.27 L191.9 391.29 L192.2 384.62 L192.6 392.00 L192.9 384.97 L193.3 392.17 L193.6 385.41 L194.0 392.59 L194.3 385.84 L194.7 391.00 L195.0 386.22 L195.4 392.43 L195.7 385.78 L196.1 392.03 L196.4 385.34 L196.8 391.06 L197.1 384.72 L197.5 390.33 L197.8 383.41 L198.2 388.27 L198.5 382.09 M204.8 394.47 L205.2 384.50 L205.5 395.39 L205.9 384.50 L206.2 396.90 L206.6 384.50 L206.9 390.48 L207.3 384.50 L207.6 389.17 L208.0 384.50 L208.3 387.13 L208.7 384.50 L209.0 386.36 L209.4 382.50 M223.7 389.41 L224.1 383.50 L224.4 391.88 L224.8 383.50 L225.1 393.50 L225.5 383.50 L225.8 397.96 L226.2 383.50 L226.5 393.25 L226.9 383.50 L227.2 392.96 L227.6 383.50 L227.9 392.24 L228.3 383.50 L228.6 391.21 L229.0 383.50 L229.3 389.96 L229.7 383.50 L230.0 389.37 L230.4 383.50 L230.7 389.00 L231.1 383.10 M337.5 387.49 L337.9 383.90 L338.2 390.08 L338.6 386.15 L338.9 392.17 L339.3 388.25 L339.6 394.25 L340.0 390.35 L340.3 396.05 L340.7 392.13 L341.0 396.90 L341.4 393.88 L341.7 398.75 L342.1 395.67 L342.4 400.01 L342.8 398.00 L343.1 403.82 L343.5 400.33 L343.8 415.47 L344.2 403.10 L344.5 439.20 L344.9 415.70 L345.2 446.39 L345.6 436.75 L345.9 451.64 L346.3 440.25 L346.6 458.87 L347.0 443.75 L347.3 467.14 L347.7 446.88 L348.0 479.87 L348.4 448.57 L348.7 477.31 L349.1 449.50 L349.4 466.63 L349.8 449.50 L350.1 462.76 L350.5 449.95 L350.8 460.72 L351.2 450.80 L351.5 463.82 L351.9 452.20 L352.2 468.87 L352.6 455.80 L352.9 473.24 L353.3 459.50 L353.6 472.63 L354.0 462.30 L354.3 478.16 L354.7 466.40 L355.0 480.07 L355.4 469.38 L355.7 500.69 L356.1 471.21 L356.4 488.46 L356.8 472.50 L357.1 482.24 L357.5 472.50 L357.8 479.99 L358.2 471.97 L358.5 477.47 L358.9 469.52 L359.2 474.77 L359.6 467.07 L359.9 472.72 L360.3 464.62 L360.6 470.31 L361.0 462.17 L361.3 467.92 L361.7 459.72 L362.0 464.56 L362.4 457.10 L362.7 460.87 L363.1 454.30 L363.4 455.91 L363.8 451.50 L364.1 455.34 L364.5 448.92 L364.8 453.50 L365.2 446.47 L365.5 451.05 L365.9 444.02 L366.2 449.24 L366.6 441.85 L366.9 448.35 L367.3 439.75 L367.6 445.87 L368.0 437.65 L368.3 441.55 L368.7 435.22 L369.0 439.47 L369.4 432.77 L369.7 437.79 L370.1 430.27 L370.4 434.75 L370.8 427.12 L371.1 431.65 L371.5 423.97 L371.8 428.18 L372.2 420.82 L372.5 425.46 L372.9 417.67 L373.2 422.13 L373.6 414.52 L373.9 419.75 L374.3 411.25 L374.6 416.47 L375.0 407.75 L375.3 411.48 L375.7 404.25 L376.0 408.84 L376.4 400.75 L376.7 403.90 L377.1 397.30 L377.4 402.53 L377.8 394.50 L378.1 400.65 L378.5 392.82 L378.8 400.52 L379.2 391.77 L379.5 398.32 L379.9 390.72 L380.2 400.38 L380.6 391.05 L380.9 402.57 L381.3 391.00 L381.6 399.45 L382.0 389.60 L382.3 401.33 L382.7 387.55 L383.0 411.46 L383.4 385.10 L383.7 396.62 L384.1 382.55 L384.4 390.84 L384.8 383.25 L385.1 389.79 L385.5 382.60 M390.4 397.68 L390.7 385.80 L391.1 401.35 L391.4 388.90 L391.8 400.73 L392.1 389.60 L392.5 398.72 L392.8 390.30 L393.2 400.83 L393.5 387.75 L393.9 402.52 L394.2 383.90 M527.2 385.75 L527.6 383.76 L527.9 387.49 L528.3 385.47 L528.6 388.73 L529.0 386.78 L529.3 390.72 L529.7 388.09 L530.0 392.73 L530.4 389.63 L530.7 395.05 L531.1 391.38 L531.4 396.51 L531.8 393.13 L532.1 400.57 L532.5 394.50 L532.8 404.38 L533.2 395.67 L533.5 413.17 L533.9 396.83 L534.2 403.98 L534.6 398.00 L534.9 402.97 L535.3 397.81 L535.6 400.73 L536.0 395.19 L536.3 400.43 L536.7 392.56 L537.0 399.95 L537.4 390.81 L537.7 397.46 L538.1 390.19 L538.4 397.69 L538.8 392.81 L539.1 398.45 L539.5 395.44 L539.8 401.00 L540.2 397.88 L540.5 404.58 L540.9 399.63 L541.2 407.00 L541.6 401.29 L541.9 411.03 L542.3 401.88 L542.6 417.75 L543.0 402.46 L543.3 420.49 L543.7 403.04 L544.0 415.13 L544.4 403.63 L544.7 414.25 L545.1 400.54 L545.4 406.01 L545.8 396.46 L546.1 400.06 L546.5 394.16 L546.8 398.75 L547.2 392.84 L547.5 397.40 L547.9 391.53 L548.2 395.22 L548.6 389.87 L548.9 393.15 L549.3 388.12 L549.6 390.21 L550.0 386.37 L550.3 389.00 L550.7 385.44 L551.0 387.49 L551.4 384.56 L551.7 386.00 L552.1 383.68 L552.4 384.67 L552.8 382.69 L553.1 385.44 M560.1 382.63 L560.5 386.37 L560.8 383.50 L561.2 388.65 L561.5 384.38 L561.9 388.90 L562.2 385.19 L562.6 391.22 L562.9 385.84 L563.3 393.28 L563.6 386.50 L564.0 394.74 L564.3 387.16 L564.7 396.11 L565.0 387.81 L565.4 393.76 L565.7 388.47 L566.1 392.63 L566.4 388.25 L566.8 391.20 L567.1 387.37 L567.5 390.90 L567.8 386.50 L568.2 389.18 L568.5 384.56 L568.9 387.10 L569.2 382.20 M598.6 394.27 L599.0 383.89 L599.3 397.18 L599.7 387.13 L600.0 396.31 L600.4 389.19 L600.7 395.97 L601.1 390.06 L601.4 397.06 L601.8 390.94 L602.1 396.14 L602.5 390.97 L602.8 395.56 L603.2 390.53 L603.5 394.92 L603.9 390.09 L604.2 394.44 L604.6 389.31 L604.9 394.02 L605.3 388.44 L605.6 391.96 L606.0 387.56 L606.3 390.84 L606.7 388.15 L607.0 389.82 L607.4 388.03 L607.7 389.59 L608.1 387.10 L608.4 388.32 L608.8 386.17 L609.1 387.66 L609.5 385.23 L609.8 386.62 L610.2 384.25 L610.5 385.60 L610.9 383.08 L611.2 384.82 M616.8 382.90 L617.2 389.96 L617.5 385.00 L617.9 392.37 L618.2 387.20 L618.6 395.89 L618.9 389.65 L619.3 399.23 L619.6 392.10 L620.0 400.99 L620.3 393.05 L620.7 402.35 L621.0 392.00 L621.4 401.39 L621.7 390.95 L622.1 400.94 L622.4 389.50 L622.8 415.93 L623.1 387.75 L623.5 404.49 L623.8 386.00 L624.2 391.24 L624.5 384.00 L624.9 386.62" fill="none" stroke="#ff0000" stroke-width="1.8" stroke-linejoin="round"/>
<rect x="0" y="378.2" width="640" height="2.1" fill="#ff0000"/>
<path d="M-2.0 329.01 L-1.5 328.59 L-1.0 328.84 L-0.5 328.31 L0.0 328.46 L0.5 328.33 L1.0 327.88 L1.5 328.07 L2.0 327.62 L2.5 327.75 L3.0 327.39 L3.5 327.16 L4.0 327.35 L4.5 327.87 L5.0 327.37 L5.5 327.17 L6.0 327.46 L6.5 327.96 L7.0 327.83 L7.5 327.52 L8.0 327.95 L8.5 327.15 L9.0 327.54 L9.5 327.12 L10.0 326.68 L10.5 326.38 L11.0 326.38 L11.5 326.93 L12.0 326.54 L12.5 326.72 L13.0 326.88 L13.5 326.66 L14.0 326.70 L14.5 326.17 L15.0 325.83 L15.5 325.71 L16.0 326.13 L16.5 326.06 L17.0 325.85 L17.5 325.98 L18.0 325.88 L18.5 325.33 L19.0 325.40 L19.5 325.18 L20.0 324.40 L20.5 324.38 L21.0 324.26 L21.5 324.52 L22.0 324.46 L22.5 323.88 L23.0 324.23 L23.5 323.44 L24.0 323.24 L24.5 323.44 L25.0 322.84 L25.5 322.82 L26.0 322.27 L26.5 322.59 L27.0 322.84 L27.5 322.74 L28.0 322.97 L28.5 322.44 L29.0 322.50 L29.5 322.38 L30.0 322.25 L30.5 322.00 L31.0 322.24 L31.5 322.45 L32.0 322.02 L32.5 321.93 L33.0 321.18 L33.5 321.39 L34.0 321.41 L34.5 321.77 L35.0 321.76 L35.5 321.05 L36.0 320.67 L36.5 320.69 L37.0 319.92 L37.5 319.88 L38.0 319.46 L38.5 318.94 L39.0 318.44 L39.5 318.80 L40.0 318.18 L40.5 318.01 L41.0 318.01 L41.5 318.49 L42.0 317.86 L42.5 317.83 L43.0 317.88 L43.5 318.22 L44.0 318.31 L44.5 318.36 L45.0 317.70 L45.5 317.45 L46.0 317.21 L46.5 317.61 L47.0 317.91 L47.5 317.17 L48.0 316.72 L48.5 316.48 L49.0 316.31 L49.5 316.93 L50.0 317.58 L50.5 317.76 L51.0 317.75 L51.5 317.46 L52.0 317.03 L52.5 316.79 L53.0 316.87 L53.5 316.68 L54.0 316.28 L54.5 316.05 L55.0 315.87 L55.5 315.15 L56.0 315.62 L56.5 315.74 L57.0 315.88 L57.5 315.85 L58.0 315.35 L58.5 315.03 L59.0 314.48 L59.5 314.70 L60.0 314.17 L60.5 313.84 L61.0 313.76 L61.5 313.64 L62.0 313.73 L62.5 313.45 L63.0 313.19 L63.5 313.17 L64.0 313.08 L64.5 313.28 L65.0 313.01 L65.5 313.65 L66.0 313.68 L66.5 313.12 L67.0 312.83 L67.5 312.70 L68.0 312.57 L68.5 312.58 L69.0 313.48 L69.5 314.28 L70.0 314.28 L70.5 315.03 L71.0 315.38 L71.5 315.97 L72.0 316.93 L72.5 316.28 L73.0 316.25 L73.5 315.25 L74.0 314.25 L74.5 314.67 L75.0 314.31 L75.5 313.52 L76.0 313.34 L76.5 312.57 L77.0 312.53 L77.5 312.88 L78.0 312.84 L78.5 312.51 L79.0 311.71 L79.5 311.21 L80.0 310.57 L80.5 310.91 L81.0 310.80 L81.5 310.95 L82.0 310.50 L82.5 310.06 L83.0 310.39 L83.5 310.72 L84.0 310.73 L84.5 310.63 L85.0 310.53 L85.5 310.39 L86.0 309.72 L86.5 309.60 L87.0 309.33 L87.5 308.78 L88.0 308.42 L88.5 308.45 L89.0 308.42 L89.5 308.85 L90.0 309.37 L90.5 309.14 L91.0 309.53 L91.5 309.81 L92.0 309.93 L92.5 309.34 L93.0 308.82 L93.5 308.51 L94.0 308.28 L94.5 308.14 L95.0 308.50 L95.5 308.98 L96.0 309.17 L96.5 308.86 L97.0 308.84 L97.5 308.97 L98.0 308.23 L98.5 308.39 L99.0 308.74 L99.5 308.78 L100.0 308.74 L100.5 308.21 L101.0 307.46 L101.5 307.59 L102.0 307.06 L102.5 307.16 L103.0 307.30 L103.5 306.66 L104.0 306.18 L104.5 306.39 L105.0 306.17 L105.5 305.52 L106.0 305.06 L106.5 304.78 L107.0 305.42 L107.5 305.67 L108.0 305.08 L108.5 305.44 L109.0 305.80 L109.5 305.64 L110.0 305.19 L110.5 305.00 L111.0 304.37 L111.5 303.80 L112.0 304.45 L112.5 304.42 L113.0 304.20 L113.5 304.45 L114.0 303.99 L114.5 304.13 L115.0 304.10 L115.5 303.41 L116.0 303.01 L116.5 302.78 L117.0 302.54 L117.5 302.75 L118.0 302.47 L118.5 302.45 L119.0 302.08 L119.5 302.68 L120.0 302.39 L120.5 302.20 L121.0 302.15 L121.5 302.39 L122.0 301.93 L122.5 302.12 L123.0 301.71 L123.5 301.41 L124.0 301.15 L124.5 300.36 L125.0 300.28 L125.5 300.00 L126.0 299.61 L126.5 300.23 L127.0 299.88 L127.5 299.98 L128.0 300.30 L128.5 300.28 L129.0 299.99 L129.5 300.00 L130.0 300.03 L130.5 300.33 L131.0 299.76 L131.5 299.92 L132.0 299.68 L132.5 299.56 L133.0 300.04 L133.5 300.03 L134.0 300.09 L134.5 300.34 L135.0 300.66 L135.5 300.43 L136.0 300.52 L136.5 300.50 L137.0 300.53 L137.5 300.79 L138.0 300.72 L138.5 300.81 L139.0 300.84 L139.5 301.41 L140.0 301.53 L140.5 301.60 L141.0 301.66 L141.5 300.90 L142.0 300.72 L142.5 300.98 L143.0 300.97 L143.5 300.14 L144.0 299.58 L144.5 299.54 L145.0 299.05 L145.5 299.18 L146.0 299.14 L146.5 299.83 L147.0 300.43 L147.5 300.98 L148.0 300.55 L148.5 300.98 L149.0 301.23 L149.5 300.88 L150.0 301.54 L150.5 302.09 L151.0 301.66 L151.5 302.28 L152.0 302.09 L152.5 302.15 L153.0 302.79 L153.5 303.07 L154.0 302.56 L154.5 302.61 L155.0 302.80 L155.5 302.49 L156.0 302.10 L156.5 301.95 L157.0 302.25 L157.5 301.60 L158.0 301.75 L158.5 301.66 L159.0 301.09 L159.5 301.04 L160.0 301.29 L160.5 301.36 L161.0 300.90 L161.5 301.63 L162.0 301.84 L162.5 302.16 L163.0 301.38 L163.5 301.09 L164.0 300.65 L164.5 301.19 L165.0 300.95 L165.5 300.54 L166.0 300.56 L166.5 301.06 L167.0 301.21 L167.5 300.64 L168.0 300.12 L168.5 300.61 L169.0 300.47 L169.5 300.48 L170.0 299.76 L170.5 299.56 L171.0 300.21 L171.5 300.38 L172.0 300.18 L172.5 301.08 L173.0 301.37 L173.5 301.80 L174.0 301.34 L174.5 302.00 L175.0 301.59 L175.5 302.80 L176.0 303.35 L176.5 303.82 L177.0 304.61 L177.5 305.77 L178.0 306.02 L178.5 304.95 L179.0 304.49 L179.5 303.64 L180.0 302.72 L180.5 302.47 L181.0 302.14 L181.5 302.04 L182.0 302.05 L182.5 301.99 L183.0 302.39 L183.5 302.05 L184.0 302.02 L184.5 301.59 L185.0 301.45 L185.5 300.90 L186.0 300.75 L186.5 300.32 L187.0 300.77 L187.5 300.76 L188.0 300.27 L188.5 300.22 L189.0 300.61 L189.5 299.85 L190.0 300.10 L190.5 299.93 L191.0 299.88 L191.5 300.22 L192.0 299.93 L192.5 299.87 L193.0 300.03 L193.5 300.44 L194.0 299.98 L194.5 300.23 L195.0 300.23 L195.5 299.64 L196.0 298.82 L196.5 298.05 L197.0 297.05 L197.5 296.33 L198.0 295.61 L198.5 295.71 L199.0 295.02 L199.5 294.30 L200.0 293.56 L200.5 294.33 L201.0 294.85 L201.5 294.97 L202.0 294.63 L202.5 294.41 L203.0 294.36 L203.5 294.54 L204.0 294.33 L204.5 294.55 L205.0 294.51 L205.5 295.09 L206.0 295.40 L206.5 295.07 L207.0 294.48 L207.5 294.88 L208.0 294.34 L208.5 294.02 L209.0 293.39 L209.5 293.38 L210.0 293.42 L210.5 293.31 L211.0 292.81 L211.5 292.74 L212.0 292.05 L212.5 291.82 L213.0 291.39 L213.5 291.37 L214.0 290.87 L214.5 290.45 L215.0 290.40 L215.5 290.20 L216.0 290.36 L216.5 290.30 L217.0 290.41 L217.5 290.27 L218.0 290.15 L218.5 290.16 L219.0 289.52 L219.5 288.97 L220.0 289.27 L220.5 288.58 L221.0 288.76 L221.5 288.74 L222.0 288.04 L222.5 288.44 L223.0 288.71 L223.5 288.54 L224.0 288.52 L224.5 288.56 L225.0 287.80 L225.5 287.92 L226.0 288.01 L226.5 288.47 L227.0 288.74 L227.5 288.97 L228.0 288.88 L228.5 289.20 L229.0 289.20 L229.5 289.25 L230.0 288.81 L230.5 288.00 L231.0 287.51 L231.5 287.36 L232.0 286.87 L232.5 287.28 L233.0 287.11 L233.5 286.97 L234.0 286.78 L234.5 286.61 L235.0 286.19 L235.5 285.34 L236.0 285.62 L236.5 285.64 L237.0 285.29 L237.5 285.03 L238.0 284.92 L238.5 284.11 L239.0 284.27 L239.5 283.74 L240.0 283.14 L240.5 283.06 L241.0 283.50 L241.5 283.16 L242.0 283.52 L242.5 283.96 L243.0 283.68 L243.5 283.36 L244.0 283.24 L244.5 283.38 L245.0 283.52 L245.5 283.42 L246.0 283.37 L246.5 282.69 L247.0 282.33 L247.5 282.21 L248.0 282.66 L248.5 282.41 L249.0 282.53 L249.5 281.97 L250.0 281.66 L250.5 281.62 L251.0 281.99 L251.5 282.18 L252.0 282.22 L252.5 281.78 L253.0 281.71 L253.5 281.56 L254.0 281.43 L254.5 280.91 L255.0 281.40 L255.5 280.83 L256.0 281.26 L256.5 281.40 L257.0 280.41 L257.5 280.22 L258.0 280.43 L258.5 280.64 L259.0 280.13 L259.5 279.54 L260.0 279.06 L260.5 279.55 L261.0 278.99 L261.5 279.01 L262.0 278.49 L262.5 278.54 L263.0 278.99 L263.5 278.31 L264.0 278.60 L264.5 278.39 L265.0 278.62 L265.5 278.58 L266.0 278.01 L266.5 278.37 L267.0 278.12 L267.5 277.43 L268.0 276.97 L268.5 277.21 L269.0 277.28 L269.5 277.14 L270.0 276.85 L270.5 276.82 L271.0 276.71 L271.5 277.18 L272.0 276.48 L272.5 276.84 L273.0 277.10 L273.5 276.42 L274.0 276.85 L274.5 276.82 L275.0 276.96 L275.5 276.16 L276.0 275.66 L276.5 275.26 L277.0 275.58 L277.5 275.20 L278.0 274.61 L278.5 274.22 L279.0 273.70 L279.5 273.03 L280.0 272.57 L280.5 273.46 L281.0 273.47 L281.5 274.26 L282.0 274.06 L282.5 274.03 L283.0 274.36 L283.5 274.28 L284.0 274.51 L284.5 275.37 L285.0 275.88 L285.5 275.77 L286.0 275.42 L286.5 275.43 L287.0 275.38 L287.5 274.83 L288.0 274.60 L288.5 273.64 L289.0 273.72 L289.5 273.37 L290.0 273.41 L290.5 273.14 L291.0 272.45 L291.5 271.66 L292.0 272.02 L292.5 271.24 L293.0 271.02 L293.5 270.63 L294.0 270.22 L294.5 270.33 L295.0 270.54 L295.5 269.90 L296.0 269.89 L296.5 269.42 L297.0 269.37 L297.5 269.09 L298.0 268.61 L298.5 268.25 L299.0 268.02 L299.5 268.59 L300.0 268.41 L300.5 267.88 L301.0 268.23 L301.5 268.45 L302.0 267.89 L302.5 267.12 L303.0 266.64 L303.5 266.14 L304.0 266.04 L304.5 265.61 L305.0 265.43 L305.5 265.32 L306.0 265.54 L306.5 265.96 L307.0 266.00 L307.5 265.59 L308.0 265.29 L308.5 265.17 L309.0 264.88 L309.5 264.60 L310.0 264.07 L310.5 263.92 L311.0 264.52 L311.5 263.89 L312.0 263.87 L312.5 263.93 L313.0 264.16 L313.5 263.52 L314.0 263.13 L314.5 262.81 L315.0 262.72 L315.5 262.20 L316.0 262.19 L316.5 261.83 L317.0 261.39 L317.5 259.95 L318.0 258.84 L318.5 259.13 L319.0 259.45 L319.5 259.11 L320.0 258.96 L320.5 258.23 L321.0 258.19 L321.5 258.71 L322.0 258.88 L322.5 258.97 L323.0 259.12 L323.5 258.37 L324.0 257.73 L324.5 257.36 L325.0 257.50 L325.5 257.70 L326.0 258.06 L326.5 257.98 L327.0 257.81 L327.5 257.78 L328.0 257.38 L328.5 257.20 L329.0 256.48 L329.5 256.81 L330.0 256.36 L330.5 256.75 L331.0 256.61 L331.5 256.08 L332.0 255.51 L332.5 255.23 L333.0 255.42 L333.5 255.53 L334.0 254.89 L334.5 254.38 L335.0 254.52 L335.5 254.73 L336.0 254.63 L336.5 254.37 L337.0 254.62 L337.5 254.11 L338.0 254.11 L338.5 254.85 L339.0 256.07 L339.5 256.67 L340.0 257.51 L340.5 257.44 L341.0 257.21 L341.5 257.17 L342.0 258.01 L342.5 258.31 L343.0 258.13 L343.5 257.76 L344.0 258.12 L344.5 258.60 L345.0 258.67 L345.5 260.31 L346.0 262.49 L346.5 265.16 L347.0 266.88 L347.5 268.92 L348.0 271.51 L348.5 271.74 L349.0 272.22 L349.5 272.03 L350.0 272.62 L350.5 271.90 L351.0 270.83 L351.5 269.49 L352.0 269.15 L352.5 269.09 L353.0 269.75 L353.5 269.61 L354.0 269.65 L354.5 271.18 L355.0 272.02 L355.5 273.69 L356.0 274.63 L356.5 274.66 L357.0 274.90 L357.5 275.44 L358.0 276.22 L358.5 276.10 L359.0 274.90 L359.5 274.20 L360.0 273.33 L360.5 273.08 L361.0 271.64 L361.5 270.30 L362.0 269.14 L362.5 269.18 L363.0 269.69 L363.5 269.91 L364.0 269.80 L364.5 269.95 L365.0 269.89 L365.5 268.98 L366.0 268.13 L366.5 268.32 L367.0 268.09 L367.5 267.03 L368.0 266.96 L368.5 266.33 L369.0 265.75 L369.5 265.17 L370.0 264.45 L370.5 263.71 L371.0 263.40 L371.5 263.13 L372.0 263.46 L372.5 262.58 L373.0 262.81 L373.5 261.43 L374.0 260.39 L374.5 259.90 L375.0 259.23 L375.5 258.76 L376.0 257.97 L376.5 257.88 L377.0 257.63 L377.5 258.00 L378.0 257.33 L378.5 257.10 L379.0 257.49 L379.5 256.71 L380.0 256.60 L380.5 257.52 L381.0 258.21 L381.5 258.02 L382.0 258.08 L382.5 257.34 L383.0 257.63 L383.5 256.87 L384.0 256.74 L384.5 256.62 L385.0 255.72 L385.5 255.22 L386.0 255.60 L386.5 255.37 L387.0 254.76 L387.5 254.81 L388.0 254.33 L388.5 254.26 L389.0 253.98 L389.5 254.70 L390.0 255.37 L390.5 255.58 L391.0 256.12 L391.5 255.53 L392.0 255.48 L392.5 255.80 L393.0 256.61 L393.5 256.50 L394.0 255.63 L394.5 254.77 L395.0 254.27 L395.5 253.79 L396.0 253.77 L396.5 252.73 L397.0 252.57 L397.5 252.20 L398.0 251.86 L398.5 250.98 L399.0 249.89 L399.5 248.56 L400.0 247.37 L400.5 247.02 L401.0 247.17 L401.5 246.39 L402.0 245.95 L402.5 246.20 L403.0 245.69 L403.5 245.09 L404.0 244.59 L404.5 244.76 L405.0 244.52 L405.5 245.05 L406.0 245.18 L406.5 245.31 L407.0 244.51 L407.5 243.75 L408.0 243.24 L408.5 243.29 L409.0 243.49 L409.5 243.24 L410.0 242.77 L410.5 242.50 L411.0 242.44 L411.5 242.34 L412.0 242.23 L412.5 242.16 L413.0 241.78 L413.5 240.84 L414.0 240.94 L414.5 240.28 L415.0 240.05 L415.5 239.89 L416.0 240.20 L416.5 239.79 L417.0 239.59 L417.5 239.48 L418.0 239.30 L418.5 240.01 L419.0 240.09 L419.5 239.86 L420.0 239.80 L420.5 240.74 L421.0 240.89 L421.5 240.80 L422.0 241.51 L422.5 241.36 L423.0 241.57 L423.5 240.63 L424.0 240.39 L424.5 240.54 L425.0 240.58 L425.5 240.68 L426.0 239.73 L426.5 239.38 L427.0 238.94 L427.5 238.70 L428.0 239.36 L428.5 239.28 L429.0 239.57 L429.5 239.08 L430.0 239.27 L430.5 238.43 L431.0 237.49 L431.5 237.26 L432.0 237.08 L432.5 235.82 L433.0 235.37 L433.5 234.90 L434.0 233.95 L434.5 233.31 L435.0 232.45 L435.5 232.19 L436.0 232.04 L436.5 232.26 L437.0 232.39 L437.5 231.92 L438.0 231.36 L438.5 231.32 L439.0 231.62 L439.5 231.19 L440.0 231.02 L440.5 231.18 L441.0 232.04 L441.5 232.40 L442.0 232.20 L442.5 232.23 L443.0 232.69 L443.5 233.26 L444.0 233.81 L444.5 233.65 L445.0 233.76 L445.5 233.76 L446.0 233.26 L446.5 232.63 L447.0 232.09 L447.5 232.29 L448.0 231.52 L448.5 231.15 L449.0 230.50 L449.5 230.00 L450.0 230.00 L450.5 229.96 L451.0 229.05 L451.5 228.14 L452.0 227.99 L452.5 227.13 L453.0 226.22 L453.5 227.16 L454.0 227.30 L454.5 227.91 L455.0 227.91 L455.5 228.53 L456.0 228.53 L456.5 228.29 L457.0 228.08 L457.5 228.20 L458.0 228.28 L458.5 228.54 L459.0 227.72 L459.5 227.72 L460.0 227.37 L460.5 227.17 L461.0 226.57 L461.5 226.25 L462.0 226.22 L462.5 226.55 L463.0 225.75 L463.5 225.59 L464.0 225.74 L464.5 225.91 L465.0 225.06 L465.5 224.50 L466.0 225.01 L466.5 225.31 L467.0 224.89 L467.5 224.12 L468.0 224.56 L468.5 224.19 L469.0 224.48 L469.5 224.30 L470.0 224.36 L470.5 223.77 L471.0 224.11 L471.5 223.71 L472.0 223.67 L472.5 224.15 L473.0 224.43 L473.5 223.89 L474.0 223.62 L474.5 223.67 L475.0 223.83 L475.5 223.62 L476.0 223.15 L476.5 222.94 L477.0 223.28 L477.5 223.62 L478.0 222.81 L478.5 222.85 L479.0 223.02 L479.5 222.27 L480.0 222.65 L480.5 221.95 L481.0 221.97 L481.5 221.84 L482.0 221.76 L482.5 221.27 L483.0 221.01 L483.5 220.95 L484.0 220.65 L484.5 220.64 L485.0 220.32 L485.5 220.09 L486.0 219.43 L486.5 219.63 L487.0 219.55 L487.5 219.15 L488.0 219.44 L488.5 219.56 L489.0 219.22 L489.5 218.65 L490.0 218.57 L490.5 218.08 L491.0 217.77 L491.5 217.86 L492.0 217.49 L492.5 217.61 L493.0 217.70 L493.5 217.19 L494.0 217.49 L494.5 217.01 L495.0 217.39 L495.5 217.43 L496.0 217.04 L496.5 216.17 L497.0 216.03 L497.5 215.68 L498.0 215.97 L498.5 215.13 L499.0 215.29 L499.5 215.42 L500.0 215.08 L500.5 215.05 L501.0 214.32 L501.5 214.70 L502.0 214.35 L502.5 214.61 L503.0 214.69 L503.5 213.86 L504.0 214.01 L504.5 214.22 L505.0 213.36 L505.5 213.31 L506.0 213.77 L506.5 213.43 L507.0 214.07 L507.5 213.82 L508.0 214.30 L508.5 213.89 L509.0 214.07 L509.5 214.69 L510.0 214.31 L510.5 214.15 L511.0 214.34 L511.5 214.27 L512.0 213.95 L512.5 213.93 L513.0 213.93 L513.5 214.80 L514.0 215.07 L514.5 215.49 L515.0 214.96 L515.5 215.23 L516.0 214.63 L516.5 214.70 L517.0 214.84 L517.5 214.59 L518.0 214.99 L518.5 214.85 L519.0 214.77 L519.5 215.03 L520.0 214.31 L520.5 214.76 L521.0 214.57 L521.5 214.15 L522.0 214.29 L522.5 213.74 L523.0 214.15 L523.5 213.90 L524.0 213.45 L524.5 213.57 L525.0 213.24 L525.5 213.02 L526.0 213.59 L526.5 213.24 L527.0 213.95 L527.5 213.83 L528.0 214.26 L528.5 214.98 L529.0 215.04 L529.5 215.24 L530.0 215.05 L530.5 214.95 L531.0 215.11 L531.5 215.52 L532.0 216.47 L532.5 217.02 L533.0 217.63 L533.5 217.91 L534.0 217.14 L534.5 216.70 L535.0 216.81 L535.5 216.21 L536.0 215.79 L536.5 215.88 L537.0 215.62 L537.5 215.69 L538.0 215.55 L538.5 216.64 L539.0 217.60 L539.5 218.04 L540.0 219.06 L540.5 219.79 L541.0 220.15 L541.5 220.91 L542.0 220.64 L542.5 220.42 L543.0 220.27 L543.5 219.91 L544.0 219.64 L544.5 219.05 L545.0 217.96 L545.5 217.07 L546.0 216.03 L546.5 215.88 L547.0 215.47 L547.5 214.76 L548.0 214.44 L548.5 213.89 L549.0 213.91 L549.5 213.51 L550.0 212.54 L550.5 212.66 L551.0 211.66 L551.5 211.47 L552.0 211.10 L552.5 210.56 L553.0 209.92 L553.5 210.21 L554.0 209.41 L554.5 209.40 L555.0 209.70 L555.5 209.00 L556.0 208.56 L556.5 208.67 L557.0 208.55 L557.5 208.55 L558.0 208.67 L558.5 207.96 L559.0 207.60 L559.5 207.30 L560.0 206.77 L560.5 207.74 L561.0 208.31 L561.5 208.67 L562.0 208.21 L562.5 208.95 L563.0 209.39 L563.5 209.45 L564.0 209.88 L564.5 209.93 L565.0 209.81 L565.5 209.25 L566.0 208.97 L566.5 208.52 L567.0 208.49 L567.5 208.85 L568.0 208.92 L568.5 209.05 L569.0 208.91 L569.5 208.25 L570.0 208.09 L570.5 207.68 L571.0 207.71 L571.5 207.31 L572.0 206.67 L572.5 206.58 L573.0 206.76 L573.5 205.92 L574.0 206.03 L574.5 205.03 L575.0 204.57 L575.5 204.25 L576.0 204.54 L576.5 204.85 L577.0 204.74 L577.5 204.14 L578.0 204.30 L578.5 203.71 L579.0 203.18 L579.5 203.52 L580.0 203.33 L580.5 203.21 L581.0 203.03 L581.5 203.18 L582.0 202.64 L582.5 202.64 L583.0 202.40 L583.5 202.35 L584.0 201.78 L584.5 201.68 L585.0 201.36 L585.5 200.71 L586.0 200.09 L586.5 200.05 L587.0 199.30 L587.5 199.65 L588.0 198.90 L588.5 198.20 L589.0 197.75 L589.5 198.26 L590.0 197.81 L590.5 196.99 L591.0 196.18 L591.5 195.50 L592.0 195.61 L592.5 195.41 L593.0 195.17 L593.5 194.86 L594.0 193.74 L594.5 193.44 L595.0 192.82 L595.5 192.91 L596.0 192.83 L596.5 192.73 L597.0 191.63 L597.5 191.71 L598.0 191.68 L598.5 192.40 L599.0 192.11 L599.5 192.24 L600.0 192.42 L600.5 192.09 L601.0 192.77 L601.5 193.11 L602.0 193.11 L602.5 193.29 L603.0 193.17 L603.5 192.70 L604.0 192.19 L604.5 191.86 L605.0 192.37 L605.5 191.91 L606.0 191.68 L606.5 191.58 L607.0 191.00 L607.5 190.84 L608.0 190.70 L608.5 191.01 L609.0 190.74 L609.5 190.45 L610.0 190.91 L610.5 190.53 L611.0 190.58 L611.5 190.25 L612.0 189.30 L612.5 189.05 L613.0 188.82 L613.5 188.95 L614.0 188.45 L614.5 188.44 L615.0 188.15 L615.5 188.11 L616.0 188.93 L616.5 188.71 L617.0 189.51 L617.5 189.41 L618.0 189.30 L618.5 189.92 L619.0 191.17 L619.5 192.43 L620.0 192.38 L620.5 193.15 L621.0 193.88 L621.5 196.59 L622.0 198.47 L622.5 200.88 L623.0 201.26 L623.5 202.22 L624.0 197.87 L624.5 194.41 L625.0 190.01 L625.5 189.19 L626.0 189.03 L626.5 188.52 L627.0 187.58 L627.5 187.40 L628.0 186.48 L628.5 186.50 L629.0 186.22 L629.5 185.95 L630.0 185.41 L630.5 184.69 L631.0 184.14 L631.5 183.65 L632.0 183.74 L632.5 182.75 L633.0 182.88 L633.5 181.84 L634.0 181.26 L634.5 180.82 L635.0 181.09 L635.5 180.66 L636.0 180.10 L636.5 180.16 L637.0 179.32 L637.5 178.91 L638.0 178.58 L638.5 178.47 L639.0 178.24 L639.5 177.82 L640.0 177.09 L640.5 176.36 L641.0 175.54 L641.5 175.60 L642.0 175.24" fill="none" stroke="#8094b0" stroke-width="5.8" stroke-linejoin="round" stroke-linecap="round"/>
<rect x="0" y="606.3" width="640" height="3.2" fill="#c00000"/>
<text class="t" x="-9.40" y="290.6" font-size="19.5" fill="#7088bc" textLength="11.95" lengthAdjust="spacingAndGlyphs">o</text>
<text class="t" x="-47.14" y="537" font-size="19.5" fill="#ff0000" textLength="47.36" lengthAdjust="spacingAndGlyphs">(piek</text>
<text class="t" x="0.33" y="537" font-size="19.5" fill="#ff0000" textLength="109.40" lengthAdjust="spacingAndGlyphs">-dal-verlies)</text>
<text class="t" x="89.80" y="589.9" font-size="17" fill="#595959" textLength="37.83" lengthAdjust="spacingAndGlyphs">2000</text>
<text class="t" x="225.20" y="589.9" font-size="17" fill="#595959" textLength="37.32" lengthAdjust="spacingAndGlyphs">2005</text>
<text class="t" x="361.60" y="589.9" font-size="17" fill="#595959" textLength="36.83" lengthAdjust="spacingAndGlyphs">2010</text>
<text class="t" x="496.00" y="589.9" font-size="17" fill="#595959" textLength="37.83" lengthAdjust="spacingAndGlyphs">2015</text>
<text class="t" x="630.90" y="589.9" font-size="17" fill="#595959" textLength="37.83" lengthAdjust="spacingAndGlyphs">2020</text>
<text class="t" x="-79.40" y="631.9" font-size="19.5" fill="#141414" textLength="83.08" lengthAdjust="spacingAndGlyphs">Allocatie:</text>
<text class="t" x="10.03" y="631.9" font-size="19.5" fill="#141414" textLength="37.80" lengthAdjust="spacingAndGlyphs">30%</text>
<text class="t" x="55.34" y="631.9" font-size="19.5" fill="#141414" textLength="37.59" lengthAdjust="spacingAndGlyphs">S&amp;P</text>
<text class="t" x="101.01" y="631.9" font-size="19.5" fill="#141414" textLength="37.43" lengthAdjust="spacingAndGlyphs">500,</text>
<text class="t" x="146.58" y="631.9" font-size="19.5" fill="#141414" textLength="35.95" lengthAdjust="spacingAndGlyphs">15%</text>
<text class="t" x="192.20" y="631.9" font-size="19.5" fill="#141414" textLength="43.42" lengthAdjust="spacingAndGlyphs">Tips,</text>
<text class="t" x="242.50" y="631.9" font-size="19.5" fill="#141414" textLength="37.53" lengthAdjust="spacingAndGlyphs">40%</text>
<text class="t" x="289.50" y="631.9" font-size="19.5" fill="#141414" textLength="97.32" lengthAdjust="spacingAndGlyphs">Treasuries,</text>
<text class="t" x="395.23" y="631.9" font-size="19.5" fill="#141414" textLength="45.23" lengthAdjust="spacingAndGlyphs">7,5%</text>
<text class="t" x="448.75" y="631.9" font-size="19.5" fill="#141414" textLength="49.48" lengthAdjust="spacingAndGlyphs">Goud</text>
<text class="t" x="506.25" y="631.9" font-size="19.5" fill="#141414" textLength="20.67" lengthAdjust="spacingAndGlyphs">en</text>
<text class="t" x="534.04" y="631.9" font-size="19.5" fill="#141414" textLength="42.70" lengthAdjust="spacingAndGlyphs">7,5%</text>
<text class="t" x="586.60" y="631.9" font-size="19.5" fill="#141414" textLength="118.01" lengthAdjust="spacingAndGlyphs">Grondstoffen</text>
</svg>
</body></html>
